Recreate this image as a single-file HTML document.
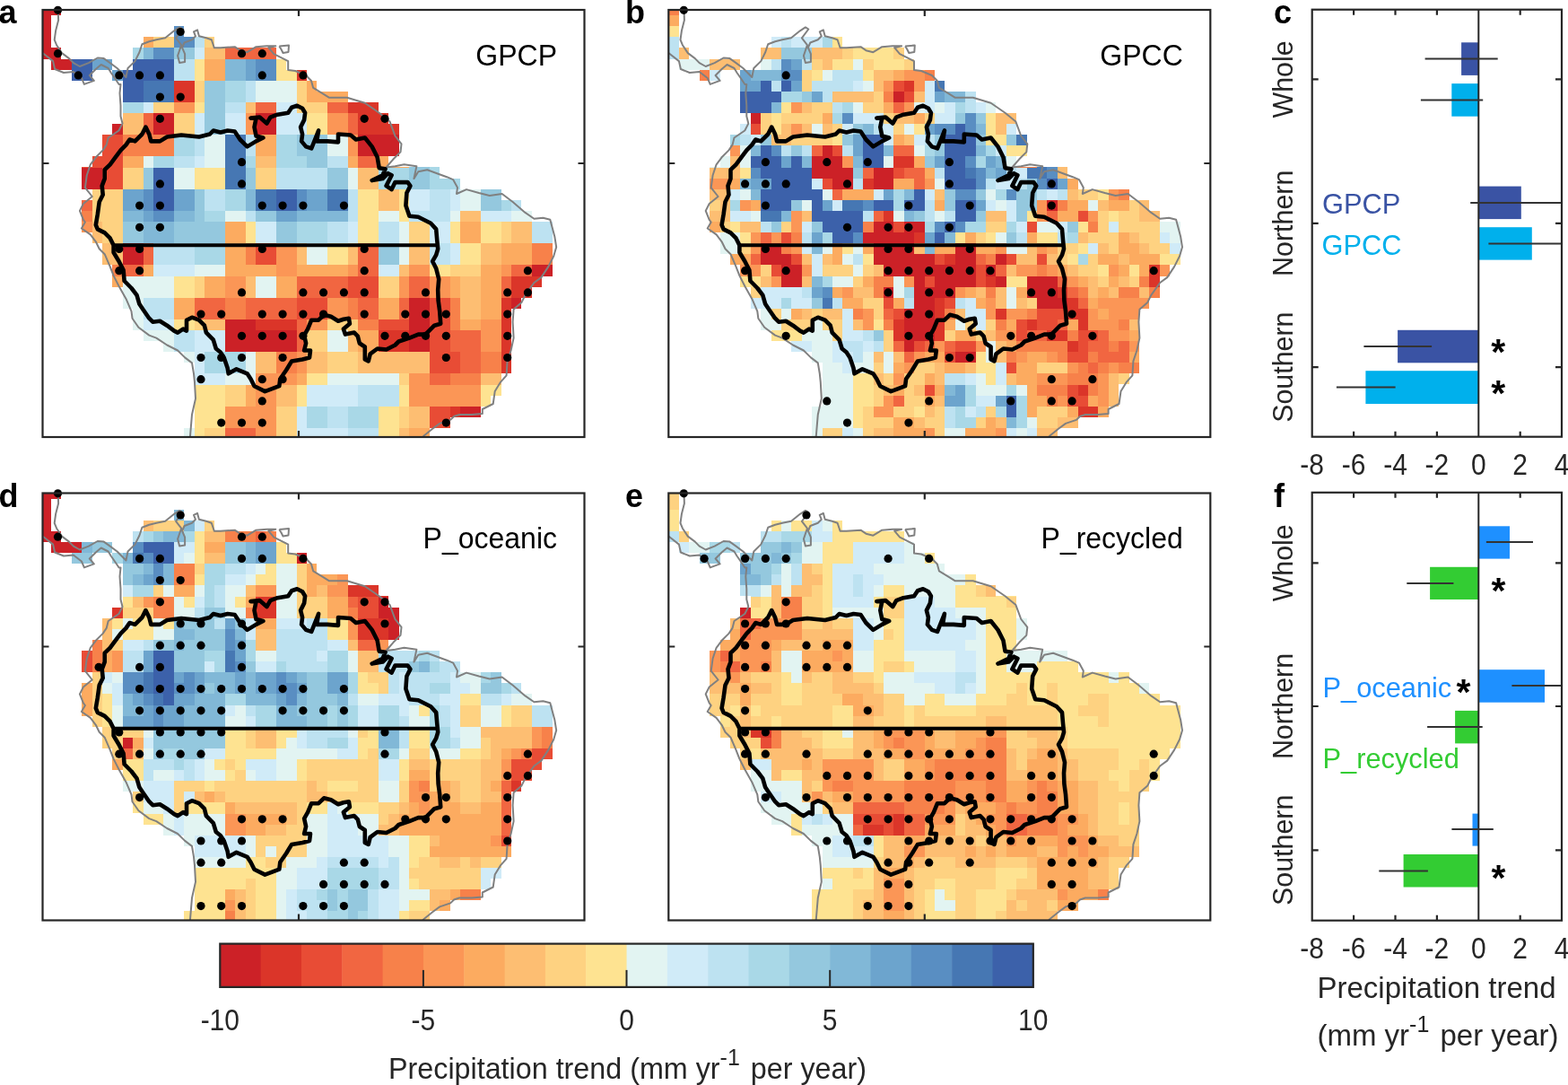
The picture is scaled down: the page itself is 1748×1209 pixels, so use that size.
<!DOCTYPE html><html><head><meta charset="utf-8"><title>Precipitation trends</title><style>html,body{margin:0;padding:0;background:#fff;}svg{display:block}text{font-family:'Liberation Sans', Arial, Helvetica, sans-serif;}</style></head><body>
<svg xmlns="http://www.w3.org/2000/svg" width="1748" height="1209" viewBox="0 0 1748 1209">
<rect width="1748" height="1209" fill="#fff"/>
<defs>
<clipPath id="landa"><path d="M46 5H68V17H46ZM46 17H57V29H46ZM46 29H57V41H46ZM194 29H205V41H194ZM46 41H57V53H46ZM160 41H239V53H160ZM46 53H68V66H46ZM148 53H308V66H148ZM57 66H125V78H57ZM148 66H319V78H148ZM80 78H103V90H80ZM125 78H342V90H125ZM137 90H353V102H137ZM137 102H388V114H137ZM137 114H422V126H137ZM137 126H433V138H137ZM125 138H445V150H125ZM114 150H445V162H114ZM114 162H445V174H114ZM103 174H433V186H103ZM91 186H490V199H91ZM91 199H513V211H91ZM103 211H559V223H103ZM91 223H581V235H91ZM91 235H593V247H91ZM91 247H616V259H91ZM103 259H616V271H103ZM114 271H616V283H114ZM114 283H616V295H114ZM125 295H616V308H125ZM125 308H604V320H125ZM137 320H593V332H137ZM137 332H581V344H137ZM148 344H570V356H148ZM148 356H570V368H148ZM160 368H570V380H160ZM182 380H570V392H182ZM205 392H570V404H205ZM217 404H570V416H217ZM217 416H559V428H217ZM217 428H559V441H217ZM217 441H547V453H217ZM217 453H536V465H217ZM217 465H502V477H217ZM205 477H479V489H205Z"/></clipPath>
<clipPath id="framea"><rect x="47.5" y="11.0" width="604.0" height="476.0"/></clipPath>
<clipPath id="landb"><path d="M746 5H757V17H746ZM746 17H757V29H746ZM746 29H757V41H746ZM746 41H757V53H746ZM860 41H939V53H860ZM746 53H768V66H746ZM848 53H1008V66H848ZM757 66H825V78H757ZM848 66H1019V78H848ZM780 78H803V90H780ZM825 78H1042V90H825ZM825 90H1053V102H825ZM825 102H1088V114H825ZM825 114H1110V126H825ZM837 126H1133V138H837ZM825 138H1133V150H825ZM814 150H1145V162H814ZM814 162H1145V174H814ZM803 174H1133V186H803ZM791 186H1190V199H791ZM791 199H1202V211H791ZM791 211H1259V223H791ZM791 223H1281V235H791ZM791 235H1293V247H791ZM791 247H1316V259H791ZM803 259H1316V271H803ZM803 271H1316V283H803ZM814 283H1316V295H814ZM825 295H1304V308H825ZM825 308H1293V320H825ZM837 320H1293V332H837ZM837 332H1281V344H837ZM848 344H1270V356H848ZM848 356H1270V368H848ZM860 368H1270V380H860ZM882 380H1270V392H882ZM905 392H1270V404H905ZM917 404H1270V416H917ZM917 416H1259V428H917ZM917 428H1247V441H917ZM917 441H1247V453H917ZM905 453H1236V465H905ZM905 465H1202V477H905ZM905 477H1179V489H905Z"/></clipPath>
<clipPath id="frameb"><rect x="745.3" y="11.0" width="604.0" height="476.0"/></clipPath>
<clipPath id="landd"><path d="M46 544H68V556H46ZM46 556H57V568H46ZM46 568H57V580H46ZM194 568H205V580H194ZM46 580H57V592H46ZM160 580H239V592H160ZM46 592H68V604H46ZM148 592H308V604H148ZM57 604H125V616H57ZM148 604H319V616H148ZM80 616H103V628H80ZM125 616H342V628H125ZM137 628H353V640H137ZM137 640H388V652H137ZM137 652H422V664H137ZM137 664H433V677H137ZM125 677H445V689H125ZM114 689H445V701H114ZM114 701H445V713H114ZM103 713H433V725H103ZM91 725H490V737H91ZM91 737H513V749H91ZM103 749H559V761H103ZM91 761H581V773H91ZM91 773H593V786H91ZM91 786H616V798H91ZM103 798H616V810H103ZM114 810H616V822H114ZM114 822H616V834H114ZM125 834H616V846H125ZM125 846H604V858H125ZM137 858H593V870H137ZM137 870H581V882H137ZM148 882H570V894H148ZM148 894H570V906H148ZM160 906H570V919H160ZM182 919H570V931H182ZM205 931H570V943H205ZM217 943H570V955H217ZM217 955H559V967H217ZM217 967H559V979H217ZM217 979H547V991H217ZM217 991H536V1003H217ZM217 1003H502V1015H217ZM205 1015H479V1028H205Z"/></clipPath>
<clipPath id="framed"><rect x="47.5" y="549.5" width="604.0" height="476.0"/></clipPath>
<clipPath id="lande"><path d="M746 544H757V556H746ZM746 556H757V568H746ZM746 568H757V580H746ZM746 580H757V592H746ZM860 580H939V592H860ZM746 592H768V604H746ZM848 592H1008V604H848ZM757 604H825V616H757ZM848 604H1019V616H848ZM780 616H803V628H780ZM825 616H1042V628H825ZM825 628H1053V640H825ZM825 640H1088V652H825ZM825 652H1110V664H825ZM837 664H1133V677H837ZM825 677H1133V689H825ZM814 689H1145V701H814ZM814 701H1145V713H814ZM803 713H1133V725H803ZM791 725H1190V737H791ZM791 737H1202V749H791ZM791 749H1259V761H791ZM791 761H1281V773H791ZM791 773H1293V786H791ZM791 786H1316V798H791ZM803 798H1316V810H803ZM803 810H1316V822H803ZM814 822H1316V834H814ZM825 834H1304V846H825ZM825 846H1293V858H825ZM837 858H1293V870H837ZM837 870H1281V882H837ZM848 882H1270V894H848ZM848 894H1270V906H848ZM860 906H1270V919H860ZM882 919H1270V931H882ZM905 931H1270V943H905ZM917 943H1270V955H917ZM917 955H1259V967H917ZM917 967H1247V979H917ZM917 979H1247V991H917ZM905 991H1236V1003H905ZM905 1003H1202V1015H905ZM905 1015H1179V1028H905Z"/></clipPath>
<clipPath id="framee"><rect x="745.3" y="549.5" width="604.0" height="476.0"/></clipPath>
</defs>
<g clip-path="url(#framea)"><g clip-path="url(#landa)" shape-rendering="crispEdges">
<rect x="45.6" y="5.0" width="57.6" height="24.8" fill="#cc2127"/>
<rect x="136.8" y="5.0" width="34.8" height="24.8" fill="#fcab60"/>
<rect x="171.0" y="5.0" width="23.4" height="24.8" fill="#fed281"/>
<rect x="193.8" y="5.0" width="23.4" height="24.8" fill="#598ec2"/>
<rect x="216.6" y="5.0" width="12.0" height="24.8" fill="#bde2f1"/>
<rect x="228.0" y="5.0" width="46.2" height="24.8" fill="#fed281"/>
<rect x="45.6" y="29.2" width="57.6" height="24.8" fill="#cc2127"/>
<rect x="114.0" y="29.2" width="23.4" height="24.8" fill="#a9d8e7"/>
<rect x="136.8" y="29.2" width="34.8" height="24.8" fill="#fcab60"/>
<rect x="171.0" y="29.2" width="23.4" height="24.8" fill="#fed281"/>
<rect x="193.8" y="29.2" width="23.4" height="24.8" fill="#598ec2"/>
<rect x="216.6" y="29.2" width="12.0" height="24.8" fill="#bde2f1"/>
<rect x="228.0" y="29.2" width="46.2" height="24.8" fill="#fed281"/>
<rect x="273.6" y="29.2" width="57.6" height="24.8" fill="#f16641"/>
<rect x="45.6" y="53.4" width="57.6" height="12.7" fill="#cc2127"/>
<rect x="102.6" y="53.4" width="12.0" height="12.7" fill="#6ca4cd"/>
<rect x="114.0" y="53.4" width="46.2" height="12.7" fill="#a9d8e7"/>
<rect x="159.6" y="53.4" width="12.0" height="12.7" fill="#81b8d7"/>
<rect x="171.0" y="53.4" width="23.4" height="12.7" fill="#598ec2"/>
<rect x="193.8" y="53.4" width="23.4" height="12.7" fill="#94c8de"/>
<rect x="216.6" y="53.4" width="12.0" height="12.7" fill="#d0ebf8"/>
<rect x="228.0" y="53.4" width="23.4" height="12.7" fill="#fdbe72"/>
<rect x="250.8" y="53.4" width="80.4" height="12.7" fill="#f16641"/>
<rect x="330.6" y="53.4" width="34.8" height="12.7" fill="#db3529"/>
<rect x="45.6" y="65.5" width="34.8" height="24.8" fill="#cc2127"/>
<rect x="79.8" y="65.5" width="23.4" height="24.8" fill="#3c61aa"/>
<rect x="102.6" y="65.5" width="34.8" height="24.8" fill="#6ca4cd"/>
<rect x="136.8" y="65.5" width="57.6" height="24.8" fill="#3c61aa"/>
<rect x="193.8" y="65.5" width="23.4" height="24.8" fill="#bde2f1"/>
<rect x="216.6" y="65.5" width="12.0" height="24.8" fill="#fee391"/>
<rect x="228.0" y="65.5" width="23.4" height="24.8" fill="#fcab60"/>
<rect x="250.8" y="65.5" width="23.4" height="24.8" fill="#81b8d7"/>
<rect x="273.6" y="65.5" width="12.0" height="24.8" fill="#6ca4cd"/>
<rect x="285.0" y="65.5" width="23.4" height="24.8" fill="#598ec2"/>
<rect x="307.8" y="65.5" width="23.4" height="24.8" fill="#fee391"/>
<rect x="330.6" y="65.5" width="34.8" height="24.8" fill="#db3529"/>
<rect x="364.8" y="65.5" width="23.4" height="24.8" fill="#fcab60"/>
<rect x="45.6" y="89.7" width="34.8" height="24.8" fill="#cc2127"/>
<rect x="79.8" y="89.7" width="80.4" height="24.8" fill="#3c61aa"/>
<rect x="159.6" y="89.7" width="34.8" height="24.8" fill="#4677b3"/>
<rect x="193.8" y="89.7" width="23.4" height="24.8" fill="#db3529"/>
<rect x="216.6" y="89.7" width="12.0" height="24.8" fill="#fed281"/>
<rect x="228.0" y="89.7" width="23.4" height="24.8" fill="#94c8de"/>
<rect x="250.8" y="89.7" width="23.4" height="24.8" fill="#a9d8e7"/>
<rect x="273.6" y="89.7" width="12.0" height="24.8" fill="#bde2f1"/>
<rect x="285.0" y="89.7" width="46.2" height="24.8" fill="#e2f4f2"/>
<rect x="330.6" y="89.7" width="12.0" height="24.8" fill="#fed281"/>
<rect x="342.0" y="89.7" width="46.2" height="24.8" fill="#fcab60"/>
<rect x="387.6" y="89.7" width="57.6" height="24.8" fill="#db3529"/>
<rect x="102.6" y="113.9" width="12.0" height="12.7" fill="#3c61aa"/>
<rect x="114.0" y="113.9" width="46.2" height="12.7" fill="#a9d8e7"/>
<rect x="159.6" y="113.9" width="12.0" height="12.7" fill="#d0ebf8"/>
<rect x="171.0" y="113.9" width="23.4" height="12.7" fill="#fed281"/>
<rect x="193.8" y="113.9" width="23.4" height="12.7" fill="#fb9656"/>
<rect x="216.6" y="113.9" width="12.0" height="12.7" fill="#fee391"/>
<rect x="228.0" y="113.9" width="23.4" height="12.7" fill="#94c8de"/>
<rect x="250.8" y="113.9" width="23.4" height="12.7" fill="#bde2f1"/>
<rect x="273.6" y="113.9" width="12.0" height="12.7" fill="#fdbe72"/>
<rect x="285.0" y="113.9" width="23.4" height="12.7" fill="#f16641"/>
<rect x="307.8" y="113.9" width="23.4" height="12.7" fill="#d0ebf8"/>
<rect x="330.6" y="113.9" width="34.8" height="12.7" fill="#fed281"/>
<rect x="364.8" y="113.9" width="23.4" height="12.7" fill="#f16641"/>
<rect x="387.6" y="113.9" width="69.0" height="12.7" fill="#db3529"/>
<rect x="79.8" y="126.0" width="23.4" height="24.8" fill="#f16641"/>
<rect x="102.6" y="126.0" width="34.8" height="24.8" fill="#cc2127"/>
<rect x="136.8" y="126.0" width="23.4" height="24.8" fill="#fdbe72"/>
<rect x="159.6" y="126.0" width="12.0" height="24.8" fill="#f16641"/>
<rect x="171.0" y="126.0" width="23.4" height="24.8" fill="#cc2127"/>
<rect x="193.8" y="126.0" width="23.4" height="24.8" fill="#fed281"/>
<rect x="216.6" y="126.0" width="12.0" height="24.8" fill="#d0ebf8"/>
<rect x="228.0" y="126.0" width="23.4" height="24.8" fill="#94c8de"/>
<rect x="250.8" y="126.0" width="23.4" height="24.8" fill="#d0ebf8"/>
<rect x="273.6" y="126.0" width="12.0" height="24.8" fill="#fb9656"/>
<rect x="285.0" y="126.0" width="23.4" height="24.8" fill="#cc2127"/>
<rect x="307.8" y="126.0" width="34.8" height="24.8" fill="#d0ebf8"/>
<rect x="342.0" y="126.0" width="23.4" height="24.8" fill="#fee391"/>
<rect x="364.8" y="126.0" width="23.4" height="24.8" fill="#fb9656"/>
<rect x="387.6" y="126.0" width="12.0" height="24.8" fill="#f16641"/>
<rect x="399.0" y="126.0" width="57.6" height="24.8" fill="#db3529"/>
<rect x="79.8" y="150.2" width="34.8" height="24.8" fill="#f16641"/>
<rect x="114.0" y="150.2" width="23.4" height="24.8" fill="#e84c35"/>
<rect x="136.8" y="150.2" width="57.6" height="24.8" fill="#f7814a"/>
<rect x="193.8" y="150.2" width="23.4" height="24.8" fill="#a9d8e7"/>
<rect x="216.6" y="150.2" width="12.0" height="24.8" fill="#bde2f1"/>
<rect x="228.0" y="150.2" width="23.4" height="24.8" fill="#e2f4f2"/>
<rect x="250.8" y="150.2" width="23.4" height="24.8" fill="#4677b3"/>
<rect x="273.6" y="150.2" width="12.0" height="24.8" fill="#bde2f1"/>
<rect x="285.0" y="150.2" width="23.4" height="24.8" fill="#fcab60"/>
<rect x="307.8" y="150.2" width="23.4" height="24.8" fill="#a9d8e7"/>
<rect x="330.6" y="150.2" width="34.8" height="24.8" fill="#94c8de"/>
<rect x="364.8" y="150.2" width="23.4" height="24.8" fill="#e2f4f2"/>
<rect x="387.6" y="150.2" width="12.0" height="24.8" fill="#fb9656"/>
<rect x="399.0" y="150.2" width="57.6" height="24.8" fill="#cc2127"/>
<rect x="57.0" y="174.4" width="23.4" height="12.7" fill="#cc2127"/>
<rect x="79.8" y="174.4" width="57.6" height="12.7" fill="#e84c35"/>
<rect x="136.8" y="174.4" width="23.4" height="12.7" fill="#fcab60"/>
<rect x="159.6" y="174.4" width="12.0" height="12.7" fill="#e2f4f2"/>
<rect x="171.0" y="174.4" width="23.4" height="12.7" fill="#a9d8e7"/>
<rect x="193.8" y="174.4" width="23.4" height="12.7" fill="#bde2f1"/>
<rect x="216.6" y="174.4" width="12.0" height="12.7" fill="#d0ebf8"/>
<rect x="228.0" y="174.4" width="23.4" height="12.7" fill="#e2f4f2"/>
<rect x="250.8" y="174.4" width="23.4" height="12.7" fill="#4677b3"/>
<rect x="273.6" y="174.4" width="12.0" height="12.7" fill="#a9d8e7"/>
<rect x="285.0" y="174.4" width="23.4" height="12.7" fill="#fdbe72"/>
<rect x="307.8" y="174.4" width="34.8" height="12.7" fill="#a9d8e7"/>
<rect x="342.0" y="174.4" width="23.4" height="12.7" fill="#94c8de"/>
<rect x="364.8" y="174.4" width="23.4" height="12.7" fill="#bde2f1"/>
<rect x="387.6" y="174.4" width="12.0" height="12.7" fill="#fcab60"/>
<rect x="399.0" y="174.4" width="23.4" height="12.7" fill="#f16641"/>
<rect x="421.8" y="174.4" width="34.8" height="12.7" fill="#fcab60"/>
<rect x="456.0" y="174.4" width="23.4" height="12.7" fill="#94c8de"/>
<rect x="478.8" y="174.4" width="34.8" height="12.7" fill="#a9d8e7"/>
<rect x="57.0" y="186.5" width="57.6" height="24.8" fill="#cc2127"/>
<rect x="114.0" y="186.5" width="23.4" height="24.8" fill="#e84c35"/>
<rect x="136.8" y="186.5" width="23.4" height="24.8" fill="#fed281"/>
<rect x="159.6" y="186.5" width="12.0" height="24.8" fill="#94c8de"/>
<rect x="171.0" y="186.5" width="23.4" height="24.8" fill="#3c61aa"/>
<rect x="193.8" y="186.5" width="23.4" height="24.8" fill="#e2f4f2"/>
<rect x="216.6" y="186.5" width="34.8" height="24.8" fill="#fee391"/>
<rect x="250.8" y="186.5" width="23.4" height="24.8" fill="#4677b3"/>
<rect x="273.6" y="186.5" width="12.0" height="24.8" fill="#94c8de"/>
<rect x="285.0" y="186.5" width="23.4" height="24.8" fill="#fed281"/>
<rect x="307.8" y="186.5" width="57.6" height="24.8" fill="#bde2f1"/>
<rect x="364.8" y="186.5" width="23.4" height="24.8" fill="#94c8de"/>
<rect x="387.6" y="186.5" width="12.0" height="24.8" fill="#e2f4f2"/>
<rect x="399.0" y="186.5" width="23.4" height="24.8" fill="#fdbe72"/>
<rect x="421.8" y="186.5" width="34.8" height="24.8" fill="#a9d8e7"/>
<rect x="456.0" y="186.5" width="23.4" height="24.8" fill="#94c8de"/>
<rect x="478.8" y="186.5" width="34.8" height="24.8" fill="#a9d8e7"/>
<rect x="513.0" y="186.5" width="23.4" height="24.8" fill="#e2f4f2"/>
<rect x="535.8" y="186.5" width="23.4" height="24.8" fill="#94c8de"/>
<rect x="558.6" y="186.5" width="12.0" height="24.8" fill="#a9d8e7"/>
<rect x="570.0" y="186.5" width="46.2" height="24.8" fill="#bde2f1"/>
<rect x="57.0" y="210.7" width="46.2" height="24.8" fill="#f16641"/>
<rect x="102.6" y="210.7" width="34.8" height="24.8" fill="#fed281"/>
<rect x="136.8" y="210.7" width="23.4" height="24.8" fill="#6ca4cd"/>
<rect x="159.6" y="210.7" width="12.0" height="24.8" fill="#598ec2"/>
<rect x="171.0" y="210.7" width="23.4" height="24.8" fill="#3c61aa"/>
<rect x="193.8" y="210.7" width="23.4" height="24.8" fill="#6ca4cd"/>
<rect x="216.6" y="210.7" width="12.0" height="24.8" fill="#94c8de"/>
<rect x="228.0" y="210.7" width="23.4" height="24.8" fill="#bde2f1"/>
<rect x="250.8" y="210.7" width="23.4" height="24.8" fill="#a9d8e7"/>
<rect x="273.6" y="210.7" width="12.0" height="24.8" fill="#81b8d7"/>
<rect x="285.0" y="210.7" width="23.4" height="24.8" fill="#4677b3"/>
<rect x="307.8" y="210.7" width="23.4" height="24.8" fill="#3c61aa"/>
<rect x="330.6" y="210.7" width="12.0" height="24.8" fill="#598ec2"/>
<rect x="342.0" y="210.7" width="23.4" height="24.8" fill="#6ca4cd"/>
<rect x="364.8" y="210.7" width="23.4" height="24.8" fill="#4677b3"/>
<rect x="387.6" y="210.7" width="12.0" height="24.8" fill="#bde2f1"/>
<rect x="399.0" y="210.7" width="23.4" height="24.8" fill="#fee391"/>
<rect x="421.8" y="210.7" width="23.4" height="24.8" fill="#fdbe72"/>
<rect x="444.6" y="210.7" width="12.0" height="24.8" fill="#fee391"/>
<rect x="456.0" y="210.7" width="23.4" height="24.8" fill="#d0ebf8"/>
<rect x="478.8" y="210.7" width="23.4" height="24.8" fill="#bde2f1"/>
<rect x="501.6" y="210.7" width="12.0" height="24.8" fill="#d0ebf8"/>
<rect x="513.0" y="210.7" width="23.4" height="24.8" fill="#e2f4f2"/>
<rect x="535.8" y="210.7" width="23.4" height="24.8" fill="#94c8de"/>
<rect x="558.6" y="210.7" width="12.0" height="24.8" fill="#a9d8e7"/>
<rect x="570.0" y="210.7" width="46.2" height="24.8" fill="#bde2f1"/>
<rect x="615.6" y="210.7" width="12.0" height="24.8" fill="#e2f4f2"/>
<rect x="57.0" y="234.9" width="46.2" height="12.7" fill="#f7814a"/>
<rect x="102.6" y="234.9" width="34.8" height="12.7" fill="#fed281"/>
<rect x="136.8" y="234.9" width="23.4" height="12.7" fill="#81b8d7"/>
<rect x="159.6" y="234.9" width="12.0" height="12.7" fill="#6ca4cd"/>
<rect x="171.0" y="234.9" width="23.4" height="12.7" fill="#598ec2"/>
<rect x="193.8" y="234.9" width="23.4" height="12.7" fill="#81b8d7"/>
<rect x="216.6" y="234.9" width="12.0" height="12.7" fill="#94c8de"/>
<rect x="228.0" y="234.9" width="23.4" height="12.7" fill="#a9d8e7"/>
<rect x="250.8" y="234.9" width="23.4" height="12.7" fill="#e2f4f2"/>
<rect x="273.6" y="234.9" width="12.0" height="12.7" fill="#bde2f1"/>
<rect x="285.0" y="234.9" width="23.4" height="12.7" fill="#94c8de"/>
<rect x="307.8" y="234.9" width="23.4" height="12.7" fill="#6ca4cd"/>
<rect x="330.6" y="234.9" width="57.6" height="12.7" fill="#81b8d7"/>
<rect x="387.6" y="234.9" width="12.0" height="12.7" fill="#bde2f1"/>
<rect x="399.0" y="234.9" width="23.4" height="12.7" fill="#fee391"/>
<rect x="421.8" y="234.9" width="23.4" height="12.7" fill="#e2f4f2"/>
<rect x="444.6" y="234.9" width="12.0" height="12.7" fill="#fee391"/>
<rect x="456.0" y="234.9" width="46.2" height="12.7" fill="#bde2f1"/>
<rect x="501.6" y="234.9" width="12.0" height="12.7" fill="#e2f4f2"/>
<rect x="513.0" y="234.9" width="23.4" height="12.7" fill="#fdbe72"/>
<rect x="535.8" y="234.9" width="34.8" height="12.7" fill="#d0ebf8"/>
<rect x="570.0" y="234.9" width="57.6" height="12.7" fill="#e2f4f2"/>
<rect x="627.0" y="234.9" width="23.4" height="12.7" fill="#bde2f1"/>
<rect x="57.0" y="247.0" width="46.2" height="24.8" fill="#fb9656"/>
<rect x="102.6" y="247.0" width="12.0" height="24.8" fill="#fdbe72"/>
<rect x="114.0" y="247.0" width="23.4" height="24.8" fill="#fed281"/>
<rect x="136.8" y="247.0" width="23.4" height="24.8" fill="#94c8de"/>
<rect x="159.6" y="247.0" width="34.8" height="24.8" fill="#81b8d7"/>
<rect x="193.8" y="247.0" width="57.6" height="24.8" fill="#94c8de"/>
<rect x="250.8" y="247.0" width="23.4" height="24.8" fill="#fcab60"/>
<rect x="273.6" y="247.0" width="12.0" height="24.8" fill="#fee391"/>
<rect x="285.0" y="247.0" width="23.4" height="24.8" fill="#d0ebf8"/>
<rect x="307.8" y="247.0" width="23.4" height="24.8" fill="#94c8de"/>
<rect x="330.6" y="247.0" width="34.8" height="24.8" fill="#a9d8e7"/>
<rect x="364.8" y="247.0" width="23.4" height="24.8" fill="#bde2f1"/>
<rect x="387.6" y="247.0" width="12.0" height="24.8" fill="#d0ebf8"/>
<rect x="399.0" y="247.0" width="23.4" height="24.8" fill="#fee391"/>
<rect x="421.8" y="247.0" width="23.4" height="24.8" fill="#bde2f1"/>
<rect x="444.6" y="247.0" width="12.0" height="24.8" fill="#e2f4f2"/>
<rect x="456.0" y="247.0" width="23.4" height="24.8" fill="#fed281"/>
<rect x="478.8" y="247.0" width="23.4" height="24.8" fill="#d0ebf8"/>
<rect x="501.6" y="247.0" width="12.0" height="24.8" fill="#fee391"/>
<rect x="513.0" y="247.0" width="23.4" height="24.8" fill="#fcab60"/>
<rect x="535.8" y="247.0" width="23.4" height="24.8" fill="#fee391"/>
<rect x="558.6" y="247.0" width="12.0" height="24.8" fill="#fed281"/>
<rect x="570.0" y="247.0" width="23.4" height="24.8" fill="#fdbe72"/>
<rect x="592.8" y="247.0" width="57.6" height="24.8" fill="#bde2f1"/>
<rect x="57.0" y="271.2" width="23.4" height="24.8" fill="#fb9656"/>
<rect x="79.8" y="271.2" width="57.6" height="24.8" fill="#fdbe72"/>
<rect x="136.8" y="271.2" width="23.4" height="24.8" fill="#cc2127"/>
<rect x="159.6" y="271.2" width="12.0" height="24.8" fill="#f16641"/>
<rect x="171.0" y="271.2" width="46.2" height="24.8" fill="#bde2f1"/>
<rect x="216.6" y="271.2" width="34.8" height="24.8" fill="#a9d8e7"/>
<rect x="250.8" y="271.2" width="23.4" height="24.8" fill="#fcab60"/>
<rect x="273.6" y="271.2" width="12.0" height="24.8" fill="#f7814a"/>
<rect x="285.0" y="271.2" width="23.4" height="24.8" fill="#e84c35"/>
<rect x="307.8" y="271.2" width="23.4" height="24.8" fill="#fb9656"/>
<rect x="330.6" y="271.2" width="12.0" height="24.8" fill="#fdbe72"/>
<rect x="342.0" y="271.2" width="23.4" height="24.8" fill="#e2f4f2"/>
<rect x="364.8" y="271.2" width="23.4" height="24.8" fill="#fee391"/>
<rect x="387.6" y="271.2" width="12.0" height="24.8" fill="#fdbe72"/>
<rect x="399.0" y="271.2" width="23.4" height="24.8" fill="#f16641"/>
<rect x="421.8" y="271.2" width="23.4" height="24.8" fill="#94c8de"/>
<rect x="444.6" y="271.2" width="12.0" height="24.8" fill="#e2f4f2"/>
<rect x="456.0" y="271.2" width="23.4" height="24.8" fill="#fdbe72"/>
<rect x="478.8" y="271.2" width="23.4" height="24.8" fill="#bde2f1"/>
<rect x="501.6" y="271.2" width="12.0" height="24.8" fill="#d0ebf8"/>
<rect x="513.0" y="271.2" width="23.4" height="24.8" fill="#fee391"/>
<rect x="535.8" y="271.2" width="23.4" height="24.8" fill="#fdbe72"/>
<rect x="558.6" y="271.2" width="34.8" height="24.8" fill="#fcab60"/>
<rect x="592.8" y="271.2" width="57.6" height="24.8" fill="#f7814a"/>
<rect x="79.8" y="295.4" width="34.8" height="12.7" fill="#fed281"/>
<rect x="114.0" y="295.4" width="23.4" height="12.7" fill="#f7814a"/>
<rect x="136.8" y="295.4" width="23.4" height="12.7" fill="#f16641"/>
<rect x="159.6" y="295.4" width="12.0" height="12.7" fill="#fcab60"/>
<rect x="171.0" y="295.4" width="46.2" height="12.7" fill="#d0ebf8"/>
<rect x="216.6" y="295.4" width="34.8" height="12.7" fill="#e2f4f2"/>
<rect x="250.8" y="295.4" width="57.6" height="12.7" fill="#fcab60"/>
<rect x="307.8" y="295.4" width="23.4" height="12.7" fill="#fb9656"/>
<rect x="330.6" y="295.4" width="57.6" height="12.7" fill="#fcab60"/>
<rect x="387.6" y="295.4" width="12.0" height="12.7" fill="#fb9656"/>
<rect x="399.0" y="295.4" width="23.4" height="12.7" fill="#f16641"/>
<rect x="421.8" y="295.4" width="23.4" height="12.7" fill="#d0ebf8"/>
<rect x="444.6" y="295.4" width="12.0" height="12.7" fill="#fdbe72"/>
<rect x="456.0" y="295.4" width="23.4" height="12.7" fill="#fb9656"/>
<rect x="478.8" y="295.4" width="23.4" height="12.7" fill="#fee391"/>
<rect x="501.6" y="295.4" width="34.8" height="12.7" fill="#fed281"/>
<rect x="535.8" y="295.4" width="23.4" height="12.7" fill="#fcab60"/>
<rect x="558.6" y="295.4" width="12.0" height="12.7" fill="#fb9656"/>
<rect x="570.0" y="295.4" width="23.4" height="12.7" fill="#f16641"/>
<rect x="592.8" y="295.4" width="34.8" height="12.7" fill="#cc2127"/>
<rect x="627.0" y="295.4" width="23.4" height="12.7" fill="#f7814a"/>
<rect x="79.8" y="307.5" width="23.4" height="24.8" fill="#fed281"/>
<rect x="102.6" y="307.5" width="34.8" height="24.8" fill="#fcab60"/>
<rect x="136.8" y="307.5" width="57.6" height="24.8" fill="#e2f4f2"/>
<rect x="193.8" y="307.5" width="23.4" height="24.8" fill="#fee391"/>
<rect x="216.6" y="307.5" width="12.0" height="24.8" fill="#fed281"/>
<rect x="228.0" y="307.5" width="23.4" height="24.8" fill="#fcab60"/>
<rect x="250.8" y="307.5" width="23.4" height="24.8" fill="#fb9656"/>
<rect x="273.6" y="307.5" width="12.0" height="24.8" fill="#fdbe72"/>
<rect x="285.0" y="307.5" width="23.4" height="24.8" fill="#e2f4f2"/>
<rect x="307.8" y="307.5" width="23.4" height="24.8" fill="#fcab60"/>
<rect x="330.6" y="307.5" width="57.6" height="24.8" fill="#f16641"/>
<rect x="387.6" y="307.5" width="34.8" height="24.8" fill="#e84c35"/>
<rect x="421.8" y="307.5" width="23.4" height="24.8" fill="#fed281"/>
<rect x="444.6" y="307.5" width="12.0" height="24.8" fill="#fb9656"/>
<rect x="456.0" y="307.5" width="23.4" height="24.8" fill="#f16641"/>
<rect x="478.8" y="307.5" width="23.4" height="24.8" fill="#fb9656"/>
<rect x="501.6" y="307.5" width="12.0" height="24.8" fill="#fcab60"/>
<rect x="513.0" y="307.5" width="23.4" height="24.8" fill="#fdbe72"/>
<rect x="535.8" y="307.5" width="23.4" height="24.8" fill="#fcab60"/>
<rect x="558.6" y="307.5" width="12.0" height="24.8" fill="#f16641"/>
<rect x="570.0" y="307.5" width="57.6" height="24.8" fill="#db3529"/>
<rect x="102.6" y="331.7" width="12.0" height="24.8" fill="#fcab60"/>
<rect x="114.0" y="331.7" width="46.2" height="24.8" fill="#e2f4f2"/>
<rect x="159.6" y="331.7" width="34.8" height="24.8" fill="#bde2f1"/>
<rect x="193.8" y="331.7" width="23.4" height="24.8" fill="#fcab60"/>
<rect x="216.6" y="331.7" width="34.8" height="24.8" fill="#f16641"/>
<rect x="250.8" y="331.7" width="23.4" height="24.8" fill="#f7814a"/>
<rect x="273.6" y="331.7" width="57.6" height="24.8" fill="#f16641"/>
<rect x="330.6" y="331.7" width="34.8" height="24.8" fill="#e84c35"/>
<rect x="364.8" y="331.7" width="23.4" height="24.8" fill="#fb9656"/>
<rect x="387.6" y="331.7" width="12.0" height="24.8" fill="#f7814a"/>
<rect x="399.0" y="331.7" width="23.4" height="24.8" fill="#f16641"/>
<rect x="421.8" y="331.7" width="23.4" height="24.8" fill="#fcab60"/>
<rect x="444.6" y="331.7" width="12.0" height="24.8" fill="#f16641"/>
<rect x="456.0" y="331.7" width="23.4" height="24.8" fill="#cc2127"/>
<rect x="478.8" y="331.7" width="23.4" height="24.8" fill="#e84c35"/>
<rect x="501.6" y="331.7" width="12.0" height="24.8" fill="#f7814a"/>
<rect x="513.0" y="331.7" width="23.4" height="24.8" fill="#fdbe72"/>
<rect x="535.8" y="331.7" width="23.4" height="24.8" fill="#fcab60"/>
<rect x="558.6" y="331.7" width="12.0" height="24.8" fill="#db3529"/>
<rect x="570.0" y="331.7" width="46.2" height="24.8" fill="#cc2127"/>
<rect x="615.6" y="331.7" width="12.0" height="24.8" fill="#db3529"/>
<rect x="114.0" y="355.9" width="46.2" height="12.7" fill="#e2f4f2"/>
<rect x="159.6" y="355.9" width="34.8" height="12.7" fill="#d0ebf8"/>
<rect x="193.8" y="355.9" width="23.4" height="12.7" fill="#fee391"/>
<rect x="216.6" y="355.9" width="12.0" height="12.7" fill="#fed281"/>
<rect x="228.0" y="355.9" width="23.4" height="12.7" fill="#fdbe72"/>
<rect x="250.8" y="355.9" width="34.8" height="12.7" fill="#cc2127"/>
<rect x="285.0" y="355.9" width="46.2" height="12.7" fill="#db3529"/>
<rect x="330.6" y="355.9" width="12.0" height="12.7" fill="#f16641"/>
<rect x="342.0" y="355.9" width="23.4" height="12.7" fill="#fb9656"/>
<rect x="364.8" y="355.9" width="34.8" height="12.7" fill="#fed281"/>
<rect x="399.0" y="355.9" width="23.4" height="12.7" fill="#f7814a"/>
<rect x="421.8" y="355.9" width="34.8" height="12.7" fill="#e84c35"/>
<rect x="456.0" y="355.9" width="23.4" height="12.7" fill="#cc2127"/>
<rect x="478.8" y="355.9" width="23.4" height="12.7" fill="#e84c35"/>
<rect x="501.6" y="355.9" width="12.0" height="12.7" fill="#f7814a"/>
<rect x="513.0" y="355.9" width="23.4" height="12.7" fill="#fcab60"/>
<rect x="535.8" y="355.9" width="23.4" height="12.7" fill="#fb9656"/>
<rect x="558.6" y="355.9" width="34.8" height="12.7" fill="#db3529"/>
<rect x="592.8" y="355.9" width="23.4" height="12.7" fill="#cc2127"/>
<rect x="114.0" y="368.0" width="80.4" height="24.8" fill="#e2f4f2"/>
<rect x="193.8" y="368.0" width="23.4" height="24.8" fill="#bde2f1"/>
<rect x="216.6" y="368.0" width="34.8" height="24.8" fill="#d0ebf8"/>
<rect x="250.8" y="368.0" width="80.4" height="24.8" fill="#cc2127"/>
<rect x="330.6" y="368.0" width="12.0" height="24.8" fill="#f16641"/>
<rect x="342.0" y="368.0" width="23.4" height="24.8" fill="#fed281"/>
<rect x="364.8" y="368.0" width="23.4" height="24.8" fill="#e2f4f2"/>
<rect x="387.6" y="368.0" width="12.0" height="24.8" fill="#fdbe72"/>
<rect x="399.0" y="368.0" width="23.4" height="24.8" fill="#fcab60"/>
<rect x="421.8" y="368.0" width="34.8" height="24.8" fill="#db3529"/>
<rect x="456.0" y="368.0" width="23.4" height="24.8" fill="#cc2127"/>
<rect x="478.8" y="368.0" width="23.4" height="24.8" fill="#e84c35"/>
<rect x="501.6" y="368.0" width="34.8" height="24.8" fill="#f16641"/>
<rect x="535.8" y="368.0" width="23.4" height="24.8" fill="#fb9656"/>
<rect x="558.6" y="368.0" width="34.8" height="24.8" fill="#db3529"/>
<rect x="136.8" y="392.2" width="80.4" height="24.8" fill="#e2f4f2"/>
<rect x="216.6" y="392.2" width="12.0" height="24.8" fill="#d0ebf8"/>
<rect x="228.0" y="392.2" width="46.2" height="24.8" fill="#a9d8e7"/>
<rect x="273.6" y="392.2" width="12.0" height="24.8" fill="#e2f4f2"/>
<rect x="285.0" y="392.2" width="23.4" height="24.8" fill="#fdbe72"/>
<rect x="307.8" y="392.2" width="23.4" height="24.8" fill="#f7814a"/>
<rect x="330.6" y="392.2" width="12.0" height="24.8" fill="#fb9656"/>
<rect x="342.0" y="392.2" width="23.4" height="24.8" fill="#fdbe72"/>
<rect x="364.8" y="392.2" width="34.8" height="24.8" fill="#fed281"/>
<rect x="399.0" y="392.2" width="80.4" height="24.8" fill="#fdbe72"/>
<rect x="478.8" y="392.2" width="34.8" height="24.8" fill="#e84c35"/>
<rect x="513.0" y="392.2" width="23.4" height="24.8" fill="#f16641"/>
<rect x="535.8" y="392.2" width="23.4" height="24.8" fill="#f7814a"/>
<rect x="558.6" y="392.2" width="34.8" height="24.8" fill="#db3529"/>
<rect x="159.6" y="416.4" width="57.6" height="12.7" fill="#e2f4f2"/>
<rect x="216.6" y="416.4" width="34.8" height="12.7" fill="#d0ebf8"/>
<rect x="250.8" y="416.4" width="34.8" height="12.7" fill="#e2f4f2"/>
<rect x="285.0" y="416.4" width="46.2" height="12.7" fill="#fb9656"/>
<rect x="330.6" y="416.4" width="12.0" height="12.7" fill="#fcab60"/>
<rect x="342.0" y="416.4" width="23.4" height="12.7" fill="#fee391"/>
<rect x="364.8" y="416.4" width="80.4" height="12.7" fill="#e2f4f2"/>
<rect x="444.6" y="416.4" width="12.0" height="12.7" fill="#fed281"/>
<rect x="456.0" y="416.4" width="23.4" height="12.7" fill="#fb9656"/>
<rect x="478.8" y="416.4" width="23.4" height="12.7" fill="#f16641"/>
<rect x="501.6" y="416.4" width="34.8" height="12.7" fill="#f7814a"/>
<rect x="535.8" y="416.4" width="34.8" height="12.7" fill="#fdbe72"/>
<rect x="570.0" y="416.4" width="23.4" height="12.7" fill="#db3529"/>
<rect x="171.0" y="428.5" width="23.4" height="24.8" fill="#e2f4f2"/>
<rect x="193.8" y="428.5" width="57.6" height="24.8" fill="#fee391"/>
<rect x="250.8" y="428.5" width="23.4" height="24.8" fill="#fed281"/>
<rect x="273.6" y="428.5" width="12.0" height="24.8" fill="#fcab60"/>
<rect x="285.0" y="428.5" width="23.4" height="24.8" fill="#fb9656"/>
<rect x="307.8" y="428.5" width="23.4" height="24.8" fill="#fdbe72"/>
<rect x="330.6" y="428.5" width="12.0" height="24.8" fill="#fee391"/>
<rect x="342.0" y="428.5" width="57.6" height="24.8" fill="#d0ebf8"/>
<rect x="399.0" y="428.5" width="46.2" height="24.8" fill="#bde2f1"/>
<rect x="444.6" y="428.5" width="12.0" height="24.8" fill="#fee391"/>
<rect x="456.0" y="428.5" width="80.4" height="24.8" fill="#fb9656"/>
<rect x="535.8" y="428.5" width="34.8" height="24.8" fill="#fee391"/>
<rect x="171.0" y="452.7" width="23.4" height="24.8" fill="#e2f4f2"/>
<rect x="193.8" y="452.7" width="57.6" height="24.8" fill="#fee391"/>
<rect x="250.8" y="452.7" width="57.6" height="24.8" fill="#fb9656"/>
<rect x="307.8" y="452.7" width="23.4" height="24.8" fill="#fed281"/>
<rect x="330.6" y="452.7" width="12.0" height="24.8" fill="#d0ebf8"/>
<rect x="342.0" y="452.7" width="23.4" height="24.8" fill="#a9d8e7"/>
<rect x="364.8" y="452.7" width="23.4" height="24.8" fill="#bde2f1"/>
<rect x="387.6" y="452.7" width="34.8" height="24.8" fill="#a9d8e7"/>
<rect x="421.8" y="452.7" width="23.4" height="24.8" fill="#fee391"/>
<rect x="444.6" y="452.7" width="12.0" height="24.8" fill="#fed281"/>
<rect x="456.0" y="452.7" width="23.4" height="24.8" fill="#fdbe72"/>
<rect x="478.8" y="452.7" width="23.4" height="24.8" fill="#e84c35"/>
<rect x="501.6" y="452.7" width="12.0" height="24.8" fill="#db3529"/>
<rect x="513.0" y="452.7" width="46.2" height="24.8" fill="#cc2127"/>
<rect x="558.6" y="452.7" width="12.0" height="24.8" fill="#fee391"/>
<rect x="171.0" y="476.9" width="46.2" height="12.7" fill="#e2f4f2"/>
<rect x="216.6" y="476.9" width="12.0" height="12.7" fill="#fee391"/>
<rect x="228.0" y="476.9" width="23.4" height="12.7" fill="#fed281"/>
<rect x="250.8" y="476.9" width="34.8" height="12.7" fill="#f16641"/>
<rect x="285.0" y="476.9" width="23.4" height="12.7" fill="#fb9656"/>
<rect x="307.8" y="476.9" width="23.4" height="12.7" fill="#fed281"/>
<rect x="330.6" y="476.9" width="57.6" height="12.7" fill="#d0ebf8"/>
<rect x="387.6" y="476.9" width="34.8" height="12.7" fill="#bde2f1"/>
<rect x="421.8" y="476.9" width="23.4" height="12.7" fill="#fee391"/>
<rect x="444.6" y="476.9" width="12.0" height="12.7" fill="#fdbe72"/>
<rect x="456.0" y="476.9" width="46.2" height="12.7" fill="#fcab60"/>
<rect x="501.6" y="476.9" width="12.0" height="12.7" fill="#db3529"/>
<rect x="513.0" y="476.9" width="46.2" height="12.7" fill="#cc2127"/>
</g>
<polyline points="64.7,11.0 65.1,22.4 62.1,34.3 60.7,44.3 63.1,50.2 69.0,59.1 77.0,65.1 81.9,70.1 88.9,74.0 98.8,70.1 108.8,64.5 115.7,65.1 122.7,70.1 130.6,76.0 140.5,86.0 142.5,76.0 150.5,68.1 155.4,58.2 158.4,49.2 166.3,46.2 174.3,44.3 184.2,42.3 194.1,34.3 200.1,30.4 203.5,32.5 196.1,42.3 202.1,50.2 198.1,62.1 200.1,70.1 206.1,69.1 206.1,60.1 203.1,53.2 205.5,47.5 214.0,44.3 218.0,40.3 216.0,35.3 220.0,33.3 221.9,40.3 229.9,42.3 235.8,44.3 238.8,53.2 245.8,53.2 261.7,52.2 267.6,56.2 275.6,58.2 285.5,52.2 297.4,51.2 307.3,51.2 299.4,53.2 305.3,60.1 313.3,64.1 321.2,68.1 321.2,78.0 329.2,79.0 341.1,84.0 347.0,90.0 349.2,97.9 359.1,103.8 367.1,108.8 386.9,108.8 406.8,114.8 422.7,125.7 434.6,135.6 440.5,151.5 447.5,160.4 446.5,169.4 438.5,177.3 430.5,186.5 440.5,185.2 450.5,183.3 464.4,185.2 461.4,199.1 466.3,191.2 476.3,189.2 498.1,197.2 505.1,200.1 510.0,209.1 509.0,216.0 520.0,211.1 533.9,215.0 545.8,218.0 559.7,216.0 571.6,225.0 585.5,236.9 595.4,243.8 605.4,242.8 613.3,244.8 618.3,263.4 620.2,275.3 617.3,285.2 611.3,297.1 603.4,309.1 595.4,315.0 585.5,328.9 581.5,336.9 572.6,344.8 571.6,358.7 572.6,376.6 569.6,390.5 565.6,402.4 564.6,418.3 557.7,426.2 551.7,436.1 549.7,450.0 537.8,456.0 537.8,461.0 525.9,462.0 512.0,462.0 506.1,464.0 502.1,467.9 490.2,471.9 482.2,477.8 472.3,485.8 470.0,488.5" fill="none" stroke="#808080" stroke-width="2" stroke-linejoin="round"/>
<polyline points="211.5,488.5 212.0,485.8 214.0,462.0 218.0,444.1 217.0,426.2 216.0,416.3 214.0,404.4 206.1,398.4 198.1,390.5 186.2,384.5 174.3,376.6 166.3,373.6 154.4,364.7 147.5,354.7 146.5,346.8 140.5,332.9 132.6,319.0 126.6,307.1 122.7,297.1 116.7,283.2 110.7,277.3 106.8,269.3 100.8,261.4 90.9,254.5 94.9,247.5 92.9,244.8 88.9,234.9 92.9,227.0 102.8,219.0 94.9,209.1 96.8,195.2 100.8,183.3 106.8,175.3 114.7,167.4 118.7,161.4 120.7,153.5 126.6,149.5 132.5,145.5 136.5,137.6 134.5,129.6 134.5,117.7 133.5,103.8 134.5,94.0 132.6,94.0 128.6,88.0 123.7,81.0 120.7,76.0 112.7,72.0 106.8,77.0 99.8,84.0 104.8,89.9 93.9,93.9 90.9,87.0 81.9,80.0 71.0,81.0 61.1,77.0 59.1,68.1 46.5,58.2" fill="none" stroke="#808080" stroke-width="2" stroke-linejoin="round"/>
<polyline points="311.3,51.5 322.0,50.5 321.5,58.0 315.5,59.0 313.5,55.0 311.3,51.5" fill="none" stroke="#808080" stroke-width="2" stroke-linejoin="round"/>
<polygon points="106.8,250.6 108.8,238.9 110.7,225.0 114.7,217.0 113.7,207.1 116.7,199.1 116.7,189.2 122.7,183.3 128.6,175.3 134.6,167.4 140.5,161.4 144.5,155.5 150.5,157.4 158.4,149.5 162.4,141.6 166.3,149.5 168.3,157.4 178.3,157.4 186.2,152.5 202.1,150.5 221.9,152.5 233.9,149.5 237.8,145.5 245.8,147.5 253.7,145.5 261.7,146.5 267.6,155.5 275.6,163.4 285.5,157.4 293.4,153.5 285.5,151.5 283.5,141.6 285.5,131.6 279.5,131.6 289.4,130.6 297.4,137.6 301.4,130.6 309.3,127.7 321.2,125.7 325.2,119.7 331.2,117.7 337.1,120.7 340.1,125.7 339.1,133.6 335.1,141.6 337.1,149.5 336.1,157.4 341.1,163.4 347.2,165.4 355.1,145.5 353.1,157.4 365.1,157.4 377.0,158.4 377.0,149.5 390.9,150.5 396.8,155.5 406.8,153.5 414.7,163.4 420.7,175.3 422.7,187.2 429.6,188.2 426.6,195.2 414.7,201.1 426.6,199.1 432.6,193.2 436.6,195.2 430.6,207.1 436.6,211.1 440.5,203.1 454.5,203.1 457.4,207.1 453.4,215.0 452.4,228.9 456.4,240.8 466.3,241.8 480.2,248.8 486.2,255.4 487.2,267.4 488.2,277.3 486.2,284.2 482.2,291.2 486.2,299.1 489.2,311.0 488.2,323.0 488.6,334.9 490.2,346.8 491.2,360.7 484.2,362.7 478.3,368.6 474.3,372.6 466.3,372.6 456.4,376.6 444.5,380.5 440.5,384.5 430.6,389.5 420.7,388.5 412.7,394.4 410.7,402.4 406.8,400.4 406.8,386.5 400.8,382.5 398.8,374.6 394.9,370.6 384.9,372.6 382.9,366.6 389.9,360.7 388.9,354.7 382.9,355.7 377.0,357.7 369.0,352.7 361.1,350.8 355.1,356.7 347.2,356.7 343.1,366.6 339.1,373.6 341.1,382.5 339.1,390.5 346.0,390.5 345.0,398.4 337.1,400.4 325.2,402.4 319.2,412.3 312.3,422.2 311.3,430.2 303.4,433.2 295.4,436.1 283.5,430.2 279.5,422.2 275.6,416.3 263.6,411.3 254.7,416.3 253.7,410.3 249.7,398.4 245.8,392.5 240.8,388.5 237.8,378.6 229.9,370.6 227.9,362.7 221.9,356.7 214.0,353.7 208.0,356.7 208.0,368.6 204.1,366.6 198.1,370.6 194.1,368.6 186.2,362.7 178.3,357.7 170.3,358.7 166.3,354.7 159.4,344.8 155.4,338.8 152.5,328.9 146.5,321.0 138.6,313.0 137.6,301.1 132.6,291.2 126.6,281.3 126.6,273.3 122.7,265.4 116.7,259.4 108.8,255.4" fill="none" stroke="#000" stroke-width="4.6" stroke-linejoin="round"/>
<line x1="126.6" y1="273.3" x2="486.2" y2="273.3" stroke="#000" stroke-width="4"/>
</g>
<circle cx="64.5" cy="11.3" r="4.6" fill="#000"/>
<circle cx="201.2" cy="35.5" r="4.6" fill="#000"/>
<circle cx="64.5" cy="59.7" r="4.6" fill="#000"/>
<circle cx="269.5" cy="59.7" r="4.6" fill="#000"/>
<circle cx="292.3" cy="59.7" r="4.6" fill="#000"/>
<circle cx="87.3" cy="83.9" r="4.6" fill="#000"/>
<circle cx="132.8" cy="83.9" r="4.6" fill="#000"/>
<circle cx="155.6" cy="83.9" r="4.6" fill="#000"/>
<circle cx="178.4" cy="83.9" r="4.6" fill="#000"/>
<circle cx="292.3" cy="83.9" r="4.6" fill="#000"/>
<circle cx="337.9" cy="83.9" r="4.6" fill="#000"/>
<circle cx="178.4" cy="108.1" r="4.6" fill="#000"/>
<circle cx="201.2" cy="108.1" r="4.6" fill="#000"/>
<circle cx="178.4" cy="132.3" r="4.6" fill="#000"/>
<circle cx="406.2" cy="132.3" r="4.6" fill="#000"/>
<circle cx="429.0" cy="132.3" r="4.6" fill="#000"/>
<circle cx="269.5" cy="180.7" r="4.6" fill="#000"/>
<circle cx="178.4" cy="204.9" r="4.6" fill="#000"/>
<circle cx="269.5" cy="204.9" r="4.6" fill="#000"/>
<circle cx="155.6" cy="229.1" r="4.6" fill="#000"/>
<circle cx="178.4" cy="229.1" r="4.6" fill="#000"/>
<circle cx="292.3" cy="229.1" r="4.6" fill="#000"/>
<circle cx="315.1" cy="229.1" r="4.6" fill="#000"/>
<circle cx="337.9" cy="229.1" r="4.6" fill="#000"/>
<circle cx="383.4" cy="229.1" r="4.6" fill="#000"/>
<circle cx="155.6" cy="253.3" r="4.6" fill="#000"/>
<circle cx="178.4" cy="253.3" r="4.6" fill="#000"/>
<circle cx="132.8" cy="277.5" r="4.6" fill="#000"/>
<circle cx="155.6" cy="277.5" r="4.6" fill="#000"/>
<circle cx="292.3" cy="277.5" r="4.6" fill="#000"/>
<circle cx="406.2" cy="277.5" r="4.6" fill="#000"/>
<circle cx="132.8" cy="301.7" r="4.6" fill="#000"/>
<circle cx="155.6" cy="301.7" r="4.6" fill="#000"/>
<circle cx="406.2" cy="301.7" r="4.6" fill="#000"/>
<circle cx="588.4" cy="301.7" r="4.6" fill="#000"/>
<circle cx="269.5" cy="325.9" r="4.6" fill="#000"/>
<circle cx="337.9" cy="325.9" r="4.6" fill="#000"/>
<circle cx="360.6" cy="325.9" r="4.6" fill="#000"/>
<circle cx="383.4" cy="325.9" r="4.6" fill="#000"/>
<circle cx="406.2" cy="325.9" r="4.6" fill="#000"/>
<circle cx="474.5" cy="325.9" r="4.6" fill="#000"/>
<circle cx="565.7" cy="325.9" r="4.6" fill="#000"/>
<circle cx="588.4" cy="325.9" r="4.6" fill="#000"/>
<circle cx="224.0" cy="350.1" r="4.6" fill="#000"/>
<circle cx="246.7" cy="350.1" r="4.6" fill="#000"/>
<circle cx="292.3" cy="350.1" r="4.6" fill="#000"/>
<circle cx="315.1" cy="350.1" r="4.6" fill="#000"/>
<circle cx="337.9" cy="350.1" r="4.6" fill="#000"/>
<circle cx="360.6" cy="350.1" r="4.6" fill="#000"/>
<circle cx="406.2" cy="350.1" r="4.6" fill="#000"/>
<circle cx="451.8" cy="350.1" r="4.6" fill="#000"/>
<circle cx="474.5" cy="350.1" r="4.6" fill="#000"/>
<circle cx="497.3" cy="350.1" r="4.6" fill="#000"/>
<circle cx="565.7" cy="350.1" r="4.6" fill="#000"/>
<circle cx="269.5" cy="374.3" r="4.6" fill="#000"/>
<circle cx="292.3" cy="374.3" r="4.6" fill="#000"/>
<circle cx="315.1" cy="374.3" r="4.6" fill="#000"/>
<circle cx="337.9" cy="374.3" r="4.6" fill="#000"/>
<circle cx="429.0" cy="374.3" r="4.6" fill="#000"/>
<circle cx="451.8" cy="374.3" r="4.6" fill="#000"/>
<circle cx="474.5" cy="374.3" r="4.6" fill="#000"/>
<circle cx="497.3" cy="374.3" r="4.6" fill="#000"/>
<circle cx="565.7" cy="374.3" r="4.6" fill="#000"/>
<circle cx="224.0" cy="398.5" r="4.6" fill="#000"/>
<circle cx="246.7" cy="398.5" r="4.6" fill="#000"/>
<circle cx="269.5" cy="398.5" r="4.6" fill="#000"/>
<circle cx="315.1" cy="398.5" r="4.6" fill="#000"/>
<circle cx="497.3" cy="398.5" r="4.6" fill="#000"/>
<circle cx="565.7" cy="398.5" r="4.6" fill="#000"/>
<circle cx="224.0" cy="422.7" r="4.6" fill="#000"/>
<circle cx="292.3" cy="422.7" r="4.6" fill="#000"/>
<circle cx="315.1" cy="422.7" r="4.6" fill="#000"/>
<circle cx="292.3" cy="446.9" r="4.6" fill="#000"/>
<circle cx="246.7" cy="471.1" r="4.6" fill="#000"/>
<circle cx="269.5" cy="471.1" r="4.6" fill="#000"/>
<circle cx="292.3" cy="471.1" r="4.6" fill="#000"/>
<circle cx="497.3" cy="471.1" r="4.6" fill="#000"/>
<rect x="47.5" y="11.0" width="604.0" height="476.0" fill="none" stroke="#262626" stroke-width="2.2"/>
<path d="M333.0 11.0 v7 M333.0 487.0 v-7 M47.5 182.0 h7 M651.5 182.0 h-7" stroke="#262626" stroke-width="2.2" fill="none"/>
<text transform="translate(621.0 72.6) scale(1 1.045)" font-size="32" text-anchor="end" fill="#000">GPCP</text>
<g clip-path="url(#frameb)"><g clip-path="url(#landb)" shape-rendering="crispEdges">
<rect x="745.6" y="5.0" width="12.0" height="12.7" fill="#f7814a"/>
<rect x="757.0" y="5.0" width="23.4" height="12.7" fill="#db3529"/>
<rect x="745.6" y="17.1" width="23.4" height="12.7" fill="#fcab60"/>
<rect x="768.4" y="17.1" width="12.0" height="12.7" fill="#db3529"/>
<rect x="882.4" y="17.1" width="34.8" height="12.7" fill="#d0ebf8"/>
<rect x="745.6" y="29.2" width="23.4" height="12.7" fill="#fee391"/>
<rect x="848.2" y="29.2" width="23.4" height="12.7" fill="#d0ebf8"/>
<rect x="871.0" y="29.2" width="12.0" height="12.7" fill="#bde2f1"/>
<rect x="882.4" y="29.2" width="34.8" height="12.7" fill="#d0ebf8"/>
<rect x="916.6" y="29.2" width="12.0" height="12.7" fill="#a9d8e7"/>
<rect x="928.0" y="29.2" width="23.4" height="12.7" fill="#fee391"/>
<rect x="745.6" y="41.3" width="23.4" height="12.7" fill="#bde2f1"/>
<rect x="768.4" y="41.3" width="12.0" height="12.7" fill="#fdbe72"/>
<rect x="836.8" y="41.3" width="12.0" height="12.7" fill="#fdbe72"/>
<rect x="848.2" y="41.3" width="23.4" height="12.7" fill="#d0ebf8"/>
<rect x="871.0" y="41.3" width="12.0" height="12.7" fill="#bde2f1"/>
<rect x="882.4" y="41.3" width="34.8" height="12.7" fill="#d0ebf8"/>
<rect x="916.6" y="41.3" width="12.0" height="12.7" fill="#a9d8e7"/>
<rect x="928.0" y="41.3" width="69.0" height="12.7" fill="#fee391"/>
<rect x="996.4" y="41.3" width="23.4" height="12.7" fill="#fed281"/>
<rect x="745.6" y="53.4" width="12.0" height="12.7" fill="#bde2f1"/>
<rect x="757.0" y="53.4" width="23.4" height="12.7" fill="#fdbe72"/>
<rect x="779.8" y="53.4" width="12.0" height="12.7" fill="#e2f4f2"/>
<rect x="791.2" y="53.4" width="80.4" height="12.7" fill="#fdbe72"/>
<rect x="871.0" y="53.4" width="34.8" height="12.7" fill="#94c8de"/>
<rect x="905.2" y="53.4" width="34.8" height="12.7" fill="#fdbe72"/>
<rect x="939.4" y="53.4" width="12.0" height="12.7" fill="#fed281"/>
<rect x="950.8" y="53.4" width="46.2" height="12.7" fill="#fee391"/>
<rect x="996.4" y="53.4" width="34.8" height="12.7" fill="#fed281"/>
<rect x="745.6" y="65.5" width="12.0" height="12.7" fill="#bde2f1"/>
<rect x="757.0" y="65.5" width="34.8" height="12.7" fill="#e2f4f2"/>
<rect x="791.2" y="65.5" width="46.2" height="12.7" fill="#fdbe72"/>
<rect x="836.8" y="65.5" width="23.4" height="12.7" fill="#e2f4f2"/>
<rect x="859.6" y="65.5" width="12.0" height="12.7" fill="#bde2f1"/>
<rect x="871.0" y="65.5" width="12.0" height="12.7" fill="#598ec2"/>
<rect x="882.4" y="65.5" width="12.0" height="12.7" fill="#6ca4cd"/>
<rect x="893.8" y="65.5" width="12.0" height="12.7" fill="#bde2f1"/>
<rect x="905.2" y="65.5" width="12.0" height="12.7" fill="#fed281"/>
<rect x="916.6" y="65.5" width="12.0" height="12.7" fill="#fdbe72"/>
<rect x="928.0" y="65.5" width="23.4" height="12.7" fill="#fee391"/>
<rect x="950.8" y="65.5" width="12.0" height="12.7" fill="#e2f4f2"/>
<rect x="962.2" y="65.5" width="12.0" height="12.7" fill="#fed281"/>
<rect x="973.6" y="65.5" width="34.8" height="12.7" fill="#fee391"/>
<rect x="1007.8" y="65.5" width="23.4" height="12.7" fill="#fed281"/>
<rect x="1030.6" y="65.5" width="23.4" height="12.7" fill="#f7814a"/>
<rect x="757.0" y="77.6" width="12.0" height="12.7" fill="#e2f4f2"/>
<rect x="768.4" y="77.6" width="23.4" height="12.7" fill="#f7814a"/>
<rect x="791.2" y="77.6" width="23.4" height="12.7" fill="#d0ebf8"/>
<rect x="814.0" y="77.6" width="23.4" height="12.7" fill="#6ca4cd"/>
<rect x="836.8" y="77.6" width="34.8" height="12.7" fill="#81b8d7"/>
<rect x="871.0" y="77.6" width="23.4" height="12.7" fill="#598ec2"/>
<rect x="893.8" y="77.6" width="12.0" height="12.7" fill="#fed281"/>
<rect x="905.2" y="77.6" width="12.0" height="12.7" fill="#fee391"/>
<rect x="916.6" y="77.6" width="12.0" height="12.7" fill="#e2f4f2"/>
<rect x="928.0" y="77.6" width="34.8" height="12.7" fill="#bde2f1"/>
<rect x="962.2" y="77.6" width="12.0" height="12.7" fill="#fee391"/>
<rect x="973.6" y="77.6" width="23.4" height="12.7" fill="#fdbe72"/>
<rect x="996.4" y="77.6" width="12.0" height="12.7" fill="#fcab60"/>
<rect x="1007.8" y="77.6" width="23.4" height="12.7" fill="#fb9656"/>
<rect x="1030.6" y="77.6" width="23.4" height="12.7" fill="#f7814a"/>
<rect x="1053.4" y="77.6" width="12.0" height="12.7" fill="#4677b3"/>
<rect x="768.4" y="89.7" width="23.4" height="12.7" fill="#f7814a"/>
<rect x="791.2" y="89.7" width="23.4" height="12.7" fill="#d0ebf8"/>
<rect x="814.0" y="89.7" width="34.8" height="12.7" fill="#6ca4cd"/>
<rect x="848.2" y="89.7" width="12.0" height="12.7" fill="#3c61aa"/>
<rect x="859.6" y="89.7" width="12.0" height="12.7" fill="#bde2f1"/>
<rect x="871.0" y="89.7" width="12.0" height="12.7" fill="#3c61aa"/>
<rect x="882.4" y="89.7" width="12.0" height="12.7" fill="#6ca4cd"/>
<rect x="893.8" y="89.7" width="12.0" height="12.7" fill="#fed281"/>
<rect x="905.2" y="89.7" width="46.2" height="12.7" fill="#bde2f1"/>
<rect x="950.8" y="89.7" width="12.0" height="12.7" fill="#d0ebf8"/>
<rect x="962.2" y="89.7" width="12.0" height="12.7" fill="#e2f4f2"/>
<rect x="973.6" y="89.7" width="12.0" height="12.7" fill="#fdbe72"/>
<rect x="985.0" y="89.7" width="12.0" height="12.7" fill="#fb9656"/>
<rect x="996.4" y="89.7" width="12.0" height="12.7" fill="#e84c35"/>
<rect x="1007.8" y="89.7" width="12.0" height="12.7" fill="#db3529"/>
<rect x="1019.2" y="89.7" width="12.0" height="12.7" fill="#fb9656"/>
<rect x="1030.6" y="89.7" width="12.0" height="12.7" fill="#d0ebf8"/>
<rect x="1042.0" y="89.7" width="23.4" height="12.7" fill="#4677b3"/>
<rect x="1064.8" y="89.7" width="12.0" height="12.7" fill="#81b8d7"/>
<rect x="825.4" y="101.8" width="46.2" height="12.7" fill="#3c61aa"/>
<rect x="871.0" y="101.8" width="23.4" height="12.7" fill="#a9d8e7"/>
<rect x="893.8" y="101.8" width="12.0" height="12.7" fill="#94c8de"/>
<rect x="905.2" y="101.8" width="12.0" height="12.7" fill="#6ca4cd"/>
<rect x="916.6" y="101.8" width="12.0" height="12.7" fill="#bde2f1"/>
<rect x="928.0" y="101.8" width="46.2" height="12.7" fill="#fdbe72"/>
<rect x="973.6" y="101.8" width="12.0" height="12.7" fill="#fed281"/>
<rect x="985.0" y="101.8" width="12.0" height="12.7" fill="#f7814a"/>
<rect x="996.4" y="101.8" width="12.0" height="12.7" fill="#cc2127"/>
<rect x="1007.8" y="101.8" width="12.0" height="12.7" fill="#e84c35"/>
<rect x="1019.2" y="101.8" width="12.0" height="12.7" fill="#fdbe72"/>
<rect x="1030.6" y="101.8" width="12.0" height="12.7" fill="#d0ebf8"/>
<rect x="1042.0" y="101.8" width="12.0" height="12.7" fill="#6ca4cd"/>
<rect x="1053.4" y="101.8" width="23.4" height="12.7" fill="#81b8d7"/>
<rect x="1076.2" y="101.8" width="12.0" height="12.7" fill="#bde2f1"/>
<rect x="1087.6" y="101.8" width="12.0" height="12.7" fill="#d0ebf8"/>
<rect x="1099.0" y="101.8" width="12.0" height="12.7" fill="#e2f4f2"/>
<rect x="1110.4" y="101.8" width="23.4" height="12.7" fill="#fdbe72"/>
<rect x="825.4" y="113.9" width="34.8" height="12.7" fill="#3c61aa"/>
<rect x="859.6" y="113.9" width="12.0" height="12.7" fill="#81b8d7"/>
<rect x="871.0" y="113.9" width="12.0" height="12.7" fill="#fee391"/>
<rect x="882.4" y="113.9" width="12.0" height="12.7" fill="#fb9656"/>
<rect x="893.8" y="113.9" width="12.0" height="12.7" fill="#fdbe72"/>
<rect x="905.2" y="113.9" width="23.4" height="12.7" fill="#fed281"/>
<rect x="928.0" y="113.9" width="12.0" height="12.7" fill="#bde2f1"/>
<rect x="939.4" y="113.9" width="12.0" height="12.7" fill="#a9d8e7"/>
<rect x="950.8" y="113.9" width="12.0" height="12.7" fill="#e2f4f2"/>
<rect x="962.2" y="113.9" width="23.4" height="12.7" fill="#fed281"/>
<rect x="985.0" y="113.9" width="12.0" height="12.7" fill="#fcab60"/>
<rect x="996.4" y="113.9" width="12.0" height="12.7" fill="#f16641"/>
<rect x="1007.8" y="113.9" width="12.0" height="12.7" fill="#fb9656"/>
<rect x="1019.2" y="113.9" width="12.0" height="12.7" fill="#e2f4f2"/>
<rect x="1030.6" y="113.9" width="12.0" height="12.7" fill="#d0ebf8"/>
<rect x="1042.0" y="113.9" width="12.0" height="12.7" fill="#e2f4f2"/>
<rect x="1053.4" y="113.9" width="12.0" height="12.7" fill="#d0ebf8"/>
<rect x="1064.8" y="113.9" width="12.0" height="12.7" fill="#a9d8e7"/>
<rect x="1076.2" y="113.9" width="12.0" height="12.7" fill="#bde2f1"/>
<rect x="1087.6" y="113.9" width="12.0" height="12.7" fill="#d0ebf8"/>
<rect x="1099.0" y="113.9" width="12.0" height="12.7" fill="#e2f4f2"/>
<rect x="1110.4" y="113.9" width="34.8" height="12.7" fill="#fdbe72"/>
<rect x="814.0" y="126.0" width="12.0" height="12.7" fill="#d0ebf8"/>
<rect x="825.4" y="126.0" width="23.4" height="12.7" fill="#cc2127"/>
<rect x="848.2" y="126.0" width="12.0" height="12.7" fill="#fed281"/>
<rect x="859.6" y="126.0" width="12.0" height="12.7" fill="#fee391"/>
<rect x="871.0" y="126.0" width="46.2" height="12.7" fill="#fed281"/>
<rect x="916.6" y="126.0" width="12.0" height="12.7" fill="#fcab60"/>
<rect x="928.0" y="126.0" width="12.0" height="12.7" fill="#a9d8e7"/>
<rect x="939.4" y="126.0" width="12.0" height="12.7" fill="#598ec2"/>
<rect x="950.8" y="126.0" width="34.8" height="12.7" fill="#d0ebf8"/>
<rect x="985.0" y="126.0" width="12.0" height="12.7" fill="#fed281"/>
<rect x="996.4" y="126.0" width="23.4" height="12.7" fill="#fdbe72"/>
<rect x="1019.2" y="126.0" width="12.0" height="12.7" fill="#fcab60"/>
<rect x="1030.6" y="126.0" width="12.0" height="12.7" fill="#fed281"/>
<rect x="1042.0" y="126.0" width="23.4" height="12.7" fill="#d0ebf8"/>
<rect x="1064.8" y="126.0" width="12.0" height="12.7" fill="#94c8de"/>
<rect x="1076.2" y="126.0" width="12.0" height="12.7" fill="#598ec2"/>
<rect x="1087.6" y="126.0" width="12.0" height="12.7" fill="#94c8de"/>
<rect x="1099.0" y="126.0" width="12.0" height="12.7" fill="#fee391"/>
<rect x="1110.4" y="126.0" width="34.8" height="12.7" fill="#fdbe72"/>
<rect x="802.6" y="138.1" width="12.0" height="12.7" fill="#a9d8e7"/>
<rect x="814.0" y="138.1" width="23.4" height="12.7" fill="#d0ebf8"/>
<rect x="836.8" y="138.1" width="12.0" height="12.7" fill="#e84c35"/>
<rect x="848.2" y="138.1" width="12.0" height="12.7" fill="#fed281"/>
<rect x="859.6" y="138.1" width="12.0" height="12.7" fill="#fee391"/>
<rect x="871.0" y="138.1" width="12.0" height="12.7" fill="#fdbe72"/>
<rect x="882.4" y="138.1" width="12.0" height="12.7" fill="#fb9656"/>
<rect x="893.8" y="138.1" width="12.0" height="12.7" fill="#fdbe72"/>
<rect x="905.2" y="138.1" width="12.0" height="12.7" fill="#e2f4f2"/>
<rect x="916.6" y="138.1" width="12.0" height="12.7" fill="#fdbe72"/>
<rect x="928.0" y="138.1" width="12.0" height="12.7" fill="#fed281"/>
<rect x="939.4" y="138.1" width="12.0" height="12.7" fill="#d0ebf8"/>
<rect x="950.8" y="138.1" width="12.0" height="12.7" fill="#94c8de"/>
<rect x="962.2" y="138.1" width="12.0" height="12.7" fill="#81b8d7"/>
<rect x="973.6" y="138.1" width="12.0" height="12.7" fill="#bde2f1"/>
<rect x="985.0" y="138.1" width="12.0" height="12.7" fill="#d0ebf8"/>
<rect x="996.4" y="138.1" width="12.0" height="12.7" fill="#fed281"/>
<rect x="1007.8" y="138.1" width="12.0" height="12.7" fill="#e2f4f2"/>
<rect x="1019.2" y="138.1" width="12.0" height="12.7" fill="#fee391"/>
<rect x="1030.6" y="138.1" width="12.0" height="12.7" fill="#6ca4cd"/>
<rect x="1042.0" y="138.1" width="23.4" height="12.7" fill="#598ec2"/>
<rect x="1064.8" y="138.1" width="12.0" height="12.7" fill="#3c61aa"/>
<rect x="1076.2" y="138.1" width="12.0" height="12.7" fill="#598ec2"/>
<rect x="1087.6" y="138.1" width="12.0" height="12.7" fill="#81b8d7"/>
<rect x="1099.0" y="138.1" width="12.0" height="12.7" fill="#fee391"/>
<rect x="1110.4" y="138.1" width="12.0" height="12.7" fill="#fdbe72"/>
<rect x="1121.8" y="138.1" width="23.4" height="12.7" fill="#d0ebf8"/>
<rect x="1144.6" y="138.1" width="12.0" height="12.7" fill="#4677b3"/>
<rect x="791.2" y="150.2" width="12.0" height="12.7" fill="#cc2127"/>
<rect x="802.6" y="150.2" width="23.4" height="12.7" fill="#a9d8e7"/>
<rect x="825.4" y="150.2" width="12.0" height="12.7" fill="#bde2f1"/>
<rect x="836.8" y="150.2" width="12.0" height="12.7" fill="#d0ebf8"/>
<rect x="848.2" y="150.2" width="12.0" height="12.7" fill="#94c8de"/>
<rect x="859.6" y="150.2" width="23.4" height="12.7" fill="#fdbe72"/>
<rect x="882.4" y="150.2" width="46.2" height="12.7" fill="#fed281"/>
<rect x="928.0" y="150.2" width="12.0" height="12.7" fill="#fee391"/>
<rect x="939.4" y="150.2" width="12.0" height="12.7" fill="#94c8de"/>
<rect x="950.8" y="150.2" width="12.0" height="12.7" fill="#6ca4cd"/>
<rect x="962.2" y="150.2" width="23.4" height="12.7" fill="#3c61aa"/>
<rect x="985.0" y="150.2" width="12.0" height="12.7" fill="#d0ebf8"/>
<rect x="996.4" y="150.2" width="12.0" height="12.7" fill="#fcab60"/>
<rect x="1007.8" y="150.2" width="12.0" height="12.7" fill="#fdbe72"/>
<rect x="1019.2" y="150.2" width="12.0" height="12.7" fill="#d0ebf8"/>
<rect x="1030.6" y="150.2" width="12.0" height="12.7" fill="#bde2f1"/>
<rect x="1042.0" y="150.2" width="12.0" height="12.7" fill="#94c8de"/>
<rect x="1053.4" y="150.2" width="34.8" height="12.7" fill="#3c61aa"/>
<rect x="1087.6" y="150.2" width="12.0" height="12.7" fill="#94c8de"/>
<rect x="1099.0" y="150.2" width="23.4" height="12.7" fill="#fee391"/>
<rect x="1121.8" y="150.2" width="12.0" height="12.7" fill="#94c8de"/>
<rect x="1133.2" y="150.2" width="23.4" height="12.7" fill="#4677b3"/>
<rect x="791.2" y="162.3" width="23.4" height="12.7" fill="#cc2127"/>
<rect x="814.0" y="162.3" width="12.0" height="12.7" fill="#fb9656"/>
<rect x="825.4" y="162.3" width="12.0" height="12.7" fill="#e2f4f2"/>
<rect x="836.8" y="162.3" width="12.0" height="12.7" fill="#81b8d7"/>
<rect x="848.2" y="162.3" width="12.0" height="12.7" fill="#3c61aa"/>
<rect x="859.6" y="162.3" width="12.0" height="12.7" fill="#598ec2"/>
<rect x="871.0" y="162.3" width="12.0" height="12.7" fill="#bde2f1"/>
<rect x="882.4" y="162.3" width="12.0" height="12.7" fill="#94c8de"/>
<rect x="893.8" y="162.3" width="12.0" height="12.7" fill="#bde2f1"/>
<rect x="905.2" y="162.3" width="12.0" height="12.7" fill="#f16641"/>
<rect x="916.6" y="162.3" width="12.0" height="12.7" fill="#cc2127"/>
<rect x="928.0" y="162.3" width="12.0" height="12.7" fill="#e84c35"/>
<rect x="939.4" y="162.3" width="12.0" height="12.7" fill="#bde2f1"/>
<rect x="950.8" y="162.3" width="12.0" height="12.7" fill="#6ca4cd"/>
<rect x="962.2" y="162.3" width="23.4" height="12.7" fill="#3c61aa"/>
<rect x="985.0" y="162.3" width="12.0" height="12.7" fill="#81b8d7"/>
<rect x="996.4" y="162.3" width="23.4" height="12.7" fill="#f16641"/>
<rect x="1019.2" y="162.3" width="12.0" height="12.7" fill="#e2f4f2"/>
<rect x="1030.6" y="162.3" width="12.0" height="12.7" fill="#a9d8e7"/>
<rect x="1042.0" y="162.3" width="12.0" height="12.7" fill="#94c8de"/>
<rect x="1053.4" y="162.3" width="34.8" height="12.7" fill="#3c61aa"/>
<rect x="1087.6" y="162.3" width="12.0" height="12.7" fill="#81b8d7"/>
<rect x="1099.0" y="162.3" width="12.0" height="12.7" fill="#a9d8e7"/>
<rect x="1110.4" y="162.3" width="12.0" height="12.7" fill="#d0ebf8"/>
<rect x="1121.8" y="162.3" width="34.8" height="12.7" fill="#fee391"/>
<rect x="779.8" y="174.4" width="12.0" height="12.7" fill="#fdbe72"/>
<rect x="791.2" y="174.4" width="23.4" height="12.7" fill="#e2f4f2"/>
<rect x="814.0" y="174.4" width="12.0" height="12.7" fill="#fdbe72"/>
<rect x="825.4" y="174.4" width="12.0" height="12.7" fill="#e2f4f2"/>
<rect x="836.8" y="174.4" width="34.8" height="12.7" fill="#3c61aa"/>
<rect x="871.0" y="174.4" width="12.0" height="12.7" fill="#6ca4cd"/>
<rect x="882.4" y="174.4" width="12.0" height="12.7" fill="#3c61aa"/>
<rect x="893.8" y="174.4" width="12.0" height="12.7" fill="#81b8d7"/>
<rect x="905.2" y="174.4" width="34.8" height="12.7" fill="#cc2127"/>
<rect x="939.4" y="174.4" width="12.0" height="12.7" fill="#fb9656"/>
<rect x="950.8" y="174.4" width="12.0" height="12.7" fill="#81b8d7"/>
<rect x="962.2" y="174.4" width="23.4" height="12.7" fill="#3c61aa"/>
<rect x="985.0" y="174.4" width="12.0" height="12.7" fill="#e2f4f2"/>
<rect x="996.4" y="174.4" width="23.4" height="12.7" fill="#db3529"/>
<rect x="1019.2" y="174.4" width="12.0" height="12.7" fill="#fcab60"/>
<rect x="1030.6" y="174.4" width="12.0" height="12.7" fill="#94c8de"/>
<rect x="1042.0" y="174.4" width="12.0" height="12.7" fill="#6ca4cd"/>
<rect x="1053.4" y="174.4" width="23.4" height="12.7" fill="#3c61aa"/>
<rect x="1076.2" y="174.4" width="12.0" height="12.7" fill="#598ec2"/>
<rect x="1087.6" y="174.4" width="12.0" height="12.7" fill="#a9d8e7"/>
<rect x="1099.0" y="174.4" width="12.0" height="12.7" fill="#6ca4cd"/>
<rect x="1110.4" y="174.4" width="12.0" height="12.7" fill="#81b8d7"/>
<rect x="1121.8" y="174.4" width="12.0" height="12.7" fill="#e2f4f2"/>
<rect x="1133.2" y="174.4" width="23.4" height="12.7" fill="#f7814a"/>
<rect x="1156.0" y="174.4" width="12.0" height="12.7" fill="#4677b3"/>
<rect x="1167.4" y="174.4" width="12.0" height="12.7" fill="#598ec2"/>
<rect x="1178.8" y="174.4" width="23.4" height="12.7" fill="#fdbe72"/>
<rect x="779.8" y="186.5" width="46.2" height="12.7" fill="#fdbe72"/>
<rect x="825.4" y="186.5" width="12.0" height="12.7" fill="#fee391"/>
<rect x="836.8" y="186.5" width="12.0" height="12.7" fill="#598ec2"/>
<rect x="848.2" y="186.5" width="57.6" height="12.7" fill="#3c61aa"/>
<rect x="905.2" y="186.5" width="46.2" height="12.7" fill="#cc2127"/>
<rect x="950.8" y="186.5" width="12.0" height="12.7" fill="#94c8de"/>
<rect x="962.2" y="186.5" width="12.0" height="12.7" fill="#f16641"/>
<rect x="973.6" y="186.5" width="23.4" height="12.7" fill="#cc2127"/>
<rect x="996.4" y="186.5" width="12.0" height="12.7" fill="#e84c35"/>
<rect x="1007.8" y="186.5" width="23.4" height="12.7" fill="#f16641"/>
<rect x="1030.6" y="186.5" width="12.0" height="12.7" fill="#fcab60"/>
<rect x="1042.0" y="186.5" width="12.0" height="12.7" fill="#bde2f1"/>
<rect x="1053.4" y="186.5" width="23.4" height="12.7" fill="#3c61aa"/>
<rect x="1076.2" y="186.5" width="12.0" height="12.7" fill="#4677b3"/>
<rect x="1087.6" y="186.5" width="12.0" height="12.7" fill="#598ec2"/>
<rect x="1099.0" y="186.5" width="12.0" height="12.7" fill="#81b8d7"/>
<rect x="1110.4" y="186.5" width="12.0" height="12.7" fill="#6ca4cd"/>
<rect x="1121.8" y="186.5" width="12.0" height="12.7" fill="#bde2f1"/>
<rect x="1133.2" y="186.5" width="12.0" height="12.7" fill="#d0ebf8"/>
<rect x="1144.6" y="186.5" width="23.4" height="12.7" fill="#4677b3"/>
<rect x="1167.4" y="186.5" width="12.0" height="12.7" fill="#598ec2"/>
<rect x="1178.8" y="186.5" width="23.4" height="12.7" fill="#fdbe72"/>
<rect x="1201.6" y="186.5" width="12.0" height="12.7" fill="#fcab60"/>
<rect x="779.8" y="198.6" width="12.0" height="12.7" fill="#fdbe72"/>
<rect x="791.2" y="198.6" width="23.4" height="12.7" fill="#fb9656"/>
<rect x="814.0" y="198.6" width="12.0" height="12.7" fill="#fcab60"/>
<rect x="825.4" y="198.6" width="12.0" height="12.7" fill="#81b8d7"/>
<rect x="836.8" y="198.6" width="23.4" height="12.7" fill="#6ca4cd"/>
<rect x="859.6" y="198.6" width="46.2" height="12.7" fill="#3c61aa"/>
<rect x="905.2" y="198.6" width="12.0" height="12.7" fill="#d0ebf8"/>
<rect x="916.6" y="198.6" width="12.0" height="12.7" fill="#e84c35"/>
<rect x="928.0" y="198.6" width="23.4" height="12.7" fill="#cc2127"/>
<rect x="950.8" y="198.6" width="12.0" height="12.7" fill="#bde2f1"/>
<rect x="962.2" y="198.6" width="12.0" height="12.7" fill="#db3529"/>
<rect x="973.6" y="198.6" width="23.4" height="12.7" fill="#cc2127"/>
<rect x="996.4" y="198.6" width="23.4" height="12.7" fill="#fcab60"/>
<rect x="1019.2" y="198.6" width="12.0" height="12.7" fill="#f16641"/>
<rect x="1030.6" y="198.6" width="12.0" height="12.7" fill="#fb9656"/>
<rect x="1042.0" y="198.6" width="12.0" height="12.7" fill="#e2f4f2"/>
<rect x="1053.4" y="198.6" width="34.8" height="12.7" fill="#3c61aa"/>
<rect x="1087.6" y="198.6" width="12.0" height="12.7" fill="#598ec2"/>
<rect x="1099.0" y="198.6" width="12.0" height="12.7" fill="#bde2f1"/>
<rect x="1110.4" y="198.6" width="23.4" height="12.7" fill="#d0ebf8"/>
<rect x="1133.2" y="198.6" width="12.0" height="12.7" fill="#bde2f1"/>
<rect x="1144.6" y="198.6" width="12.0" height="12.7" fill="#94c8de"/>
<rect x="1156.0" y="198.6" width="12.0" height="12.7" fill="#598ec2"/>
<rect x="1167.4" y="198.6" width="12.0" height="12.7" fill="#3c61aa"/>
<rect x="1178.8" y="198.6" width="12.0" height="12.7" fill="#6ca4cd"/>
<rect x="1190.2" y="198.6" width="23.4" height="12.7" fill="#fcab60"/>
<rect x="1213.0" y="198.6" width="12.0" height="12.7" fill="#fed281"/>
<rect x="1224.4" y="198.6" width="12.0" height="12.7" fill="#fee391"/>
<rect x="1235.8" y="198.6" width="12.0" height="12.7" fill="#fb9656"/>
<rect x="1247.2" y="198.6" width="23.4" height="12.7" fill="#f7814a"/>
<rect x="779.8" y="210.7" width="12.0" height="12.7" fill="#fed281"/>
<rect x="791.2" y="210.7" width="23.4" height="12.7" fill="#fdbe72"/>
<rect x="814.0" y="210.7" width="12.0" height="12.7" fill="#d0ebf8"/>
<rect x="825.4" y="210.7" width="12.0" height="12.7" fill="#e2f4f2"/>
<rect x="836.8" y="210.7" width="12.0" height="12.7" fill="#81b8d7"/>
<rect x="848.2" y="210.7" width="69.0" height="12.7" fill="#3c61aa"/>
<rect x="916.6" y="210.7" width="12.0" height="12.7" fill="#e2f4f2"/>
<rect x="928.0" y="210.7" width="12.0" height="12.7" fill="#f16641"/>
<rect x="939.4" y="210.7" width="34.8" height="12.7" fill="#fcab60"/>
<rect x="973.6" y="210.7" width="12.0" height="12.7" fill="#d0ebf8"/>
<rect x="985.0" y="210.7" width="12.0" height="12.7" fill="#6ca4cd"/>
<rect x="996.4" y="210.7" width="12.0" height="12.7" fill="#a9d8e7"/>
<rect x="1007.8" y="210.7" width="12.0" height="12.7" fill="#81b8d7"/>
<rect x="1019.2" y="210.7" width="12.0" height="12.7" fill="#3c61aa"/>
<rect x="1030.6" y="210.7" width="12.0" height="12.7" fill="#d0ebf8"/>
<rect x="1042.0" y="210.7" width="12.0" height="12.7" fill="#fdbe72"/>
<rect x="1053.4" y="210.7" width="12.0" height="12.7" fill="#94c8de"/>
<rect x="1064.8" y="210.7" width="23.4" height="12.7" fill="#598ec2"/>
<rect x="1087.6" y="210.7" width="12.0" height="12.7" fill="#94c8de"/>
<rect x="1099.0" y="210.7" width="12.0" height="12.7" fill="#e2f4f2"/>
<rect x="1110.4" y="210.7" width="12.0" height="12.7" fill="#a9d8e7"/>
<rect x="1121.8" y="210.7" width="12.0" height="12.7" fill="#598ec2"/>
<rect x="1133.2" y="210.7" width="23.4" height="12.7" fill="#94c8de"/>
<rect x="1156.0" y="210.7" width="12.0" height="12.7" fill="#bde2f1"/>
<rect x="1167.4" y="210.7" width="12.0" height="12.7" fill="#d0ebf8"/>
<rect x="1178.8" y="210.7" width="12.0" height="12.7" fill="#bde2f1"/>
<rect x="1190.2" y="210.7" width="12.0" height="12.7" fill="#fdbe72"/>
<rect x="1201.6" y="210.7" width="23.4" height="12.7" fill="#fed281"/>
<rect x="1224.4" y="210.7" width="12.0" height="12.7" fill="#fee391"/>
<rect x="1235.8" y="210.7" width="12.0" height="12.7" fill="#fb9656"/>
<rect x="1247.2" y="210.7" width="23.4" height="12.7" fill="#f7814a"/>
<rect x="1270.0" y="210.7" width="23.4" height="12.7" fill="#fdbe72"/>
<rect x="779.8" y="222.8" width="23.4" height="12.7" fill="#fed281"/>
<rect x="802.6" y="222.8" width="12.0" height="12.7" fill="#fdbe72"/>
<rect x="814.0" y="222.8" width="12.0" height="12.7" fill="#a9d8e7"/>
<rect x="825.4" y="222.8" width="12.0" height="12.7" fill="#fb9656"/>
<rect x="836.8" y="222.8" width="12.0" height="12.7" fill="#fcab60"/>
<rect x="848.2" y="222.8" width="34.8" height="12.7" fill="#3c61aa"/>
<rect x="882.4" y="222.8" width="12.0" height="12.7" fill="#94c8de"/>
<rect x="893.8" y="222.8" width="12.0" height="12.7" fill="#e2f4f2"/>
<rect x="905.2" y="222.8" width="12.0" height="12.7" fill="#3c61aa"/>
<rect x="916.6" y="222.8" width="12.0" height="12.7" fill="#6ca4cd"/>
<rect x="928.0" y="222.8" width="12.0" height="12.7" fill="#d0ebf8"/>
<rect x="939.4" y="222.8" width="23.4" height="12.7" fill="#4677b3"/>
<rect x="962.2" y="222.8" width="12.0" height="12.7" fill="#598ec2"/>
<rect x="973.6" y="222.8" width="23.4" height="12.7" fill="#3c61aa"/>
<rect x="996.4" y="222.8" width="12.0" height="12.7" fill="#a9d8e7"/>
<rect x="1007.8" y="222.8" width="23.4" height="12.7" fill="#3c61aa"/>
<rect x="1030.6" y="222.8" width="12.0" height="12.7" fill="#bde2f1"/>
<rect x="1042.0" y="222.8" width="12.0" height="12.7" fill="#fcab60"/>
<rect x="1053.4" y="222.8" width="12.0" height="12.7" fill="#94c8de"/>
<rect x="1064.8" y="222.8" width="23.4" height="12.7" fill="#3c61aa"/>
<rect x="1087.6" y="222.8" width="12.0" height="12.7" fill="#6ca4cd"/>
<rect x="1099.0" y="222.8" width="12.0" height="12.7" fill="#d0ebf8"/>
<rect x="1110.4" y="222.8" width="12.0" height="12.7" fill="#e2f4f2"/>
<rect x="1121.8" y="222.8" width="12.0" height="12.7" fill="#d0ebf8"/>
<rect x="1133.2" y="222.8" width="23.4" height="12.7" fill="#94c8de"/>
<rect x="1156.0" y="222.8" width="12.0" height="12.7" fill="#fb9656"/>
<rect x="1167.4" y="222.8" width="12.0" height="12.7" fill="#cc2127"/>
<rect x="1178.8" y="222.8" width="12.0" height="12.7" fill="#f7814a"/>
<rect x="1190.2" y="222.8" width="23.4" height="12.7" fill="#fcab60"/>
<rect x="1213.0" y="222.8" width="12.0" height="12.7" fill="#e2f4f2"/>
<rect x="1224.4" y="222.8" width="12.0" height="12.7" fill="#fdbe72"/>
<rect x="1235.8" y="222.8" width="23.4" height="12.7" fill="#fcab60"/>
<rect x="1258.6" y="222.8" width="12.0" height="12.7" fill="#fed281"/>
<rect x="1270.0" y="222.8" width="34.8" height="12.7" fill="#fdbe72"/>
<rect x="779.8" y="234.9" width="34.8" height="12.7" fill="#fdbe72"/>
<rect x="814.0" y="234.9" width="23.4" height="12.7" fill="#d0ebf8"/>
<rect x="836.8" y="234.9" width="12.0" height="12.7" fill="#e2f4f2"/>
<rect x="848.2" y="234.9" width="23.4" height="12.7" fill="#4677b3"/>
<rect x="871.0" y="234.9" width="12.0" height="12.7" fill="#81b8d7"/>
<rect x="882.4" y="234.9" width="12.0" height="12.7" fill="#fb9656"/>
<rect x="893.8" y="234.9" width="12.0" height="12.7" fill="#fdbe72"/>
<rect x="905.2" y="234.9" width="57.6" height="12.7" fill="#3c61aa"/>
<rect x="962.2" y="234.9" width="12.0" height="12.7" fill="#bde2f1"/>
<rect x="973.6" y="234.9" width="12.0" height="12.7" fill="#f16641"/>
<rect x="985.0" y="234.9" width="12.0" height="12.7" fill="#db3529"/>
<rect x="996.4" y="234.9" width="12.0" height="12.7" fill="#e2f4f2"/>
<rect x="1007.8" y="234.9" width="12.0" height="12.7" fill="#81b8d7"/>
<rect x="1019.2" y="234.9" width="12.0" height="12.7" fill="#94c8de"/>
<rect x="1030.6" y="234.9" width="12.0" height="12.7" fill="#bde2f1"/>
<rect x="1042.0" y="234.9" width="12.0" height="12.7" fill="#e2f4f2"/>
<rect x="1053.4" y="234.9" width="12.0" height="12.7" fill="#bde2f1"/>
<rect x="1064.8" y="234.9" width="23.4" height="12.7" fill="#3c61aa"/>
<rect x="1087.6" y="234.9" width="12.0" height="12.7" fill="#94c8de"/>
<rect x="1099.0" y="234.9" width="23.4" height="12.7" fill="#fdbe72"/>
<rect x="1121.8" y="234.9" width="12.0" height="12.7" fill="#d0ebf8"/>
<rect x="1133.2" y="234.9" width="12.0" height="12.7" fill="#94c8de"/>
<rect x="1144.6" y="234.9" width="12.0" height="12.7" fill="#fee391"/>
<rect x="1156.0" y="234.9" width="12.0" height="12.7" fill="#fb9656"/>
<rect x="1167.4" y="234.9" width="12.0" height="12.7" fill="#f16641"/>
<rect x="1178.8" y="234.9" width="23.4" height="12.7" fill="#fcab60"/>
<rect x="1201.6" y="234.9" width="12.0" height="12.7" fill="#e84c35"/>
<rect x="1213.0" y="234.9" width="12.0" height="12.7" fill="#fb9656"/>
<rect x="1224.4" y="234.9" width="12.0" height="12.7" fill="#fed281"/>
<rect x="1235.8" y="234.9" width="12.0" height="12.7" fill="#fee391"/>
<rect x="1247.2" y="234.9" width="23.4" height="12.7" fill="#fed281"/>
<rect x="1270.0" y="234.9" width="34.8" height="12.7" fill="#fdbe72"/>
<rect x="1304.2" y="234.9" width="23.4" height="12.7" fill="#e2f4f2"/>
<rect x="779.8" y="247.0" width="23.4" height="12.7" fill="#fcab60"/>
<rect x="802.6" y="247.0" width="12.0" height="12.7" fill="#fed281"/>
<rect x="814.0" y="247.0" width="12.0" height="12.7" fill="#fee391"/>
<rect x="825.4" y="247.0" width="23.4" height="12.7" fill="#fdbe72"/>
<rect x="848.2" y="247.0" width="12.0" height="12.7" fill="#bde2f1"/>
<rect x="859.6" y="247.0" width="12.0" height="12.7" fill="#94c8de"/>
<rect x="871.0" y="247.0" width="12.0" height="12.7" fill="#fed281"/>
<rect x="882.4" y="247.0" width="12.0" height="12.7" fill="#fb9656"/>
<rect x="893.8" y="247.0" width="12.0" height="12.7" fill="#d0ebf8"/>
<rect x="905.2" y="247.0" width="12.0" height="12.7" fill="#94c8de"/>
<rect x="916.6" y="247.0" width="46.2" height="12.7" fill="#3c61aa"/>
<rect x="962.2" y="247.0" width="12.0" height="12.7" fill="#f7814a"/>
<rect x="973.6" y="247.0" width="23.4" height="12.7" fill="#cc2127"/>
<rect x="996.4" y="247.0" width="12.0" height="12.7" fill="#e84c35"/>
<rect x="1007.8" y="247.0" width="23.4" height="12.7" fill="#cc2127"/>
<rect x="1030.6" y="247.0" width="12.0" height="12.7" fill="#a9d8e7"/>
<rect x="1042.0" y="247.0" width="12.0" height="12.7" fill="#598ec2"/>
<rect x="1053.4" y="247.0" width="12.0" height="12.7" fill="#3c61aa"/>
<rect x="1064.8" y="247.0" width="12.0" height="12.7" fill="#598ec2"/>
<rect x="1076.2" y="247.0" width="23.4" height="12.7" fill="#a9d8e7"/>
<rect x="1099.0" y="247.0" width="23.4" height="12.7" fill="#fed281"/>
<rect x="1121.8" y="247.0" width="12.0" height="12.7" fill="#a9d8e7"/>
<rect x="1133.2" y="247.0" width="12.0" height="12.7" fill="#d0ebf8"/>
<rect x="1144.6" y="247.0" width="12.0" height="12.7" fill="#e84c35"/>
<rect x="1156.0" y="247.0" width="23.4" height="12.7" fill="#e2f4f2"/>
<rect x="1178.8" y="247.0" width="12.0" height="12.7" fill="#d0ebf8"/>
<rect x="1190.2" y="247.0" width="12.0" height="12.7" fill="#94c8de"/>
<rect x="1201.6" y="247.0" width="12.0" height="12.7" fill="#fee391"/>
<rect x="1213.0" y="247.0" width="12.0" height="12.7" fill="#f7814a"/>
<rect x="1224.4" y="247.0" width="12.0" height="12.7" fill="#fed281"/>
<rect x="1235.8" y="247.0" width="12.0" height="12.7" fill="#d0ebf8"/>
<rect x="1247.2" y="247.0" width="46.2" height="12.7" fill="#fed281"/>
<rect x="1292.8" y="247.0" width="34.8" height="12.7" fill="#e2f4f2"/>
<rect x="779.8" y="259.1" width="23.4" height="12.7" fill="#fcab60"/>
<rect x="802.6" y="259.1" width="23.4" height="12.7" fill="#e2f4f2"/>
<rect x="825.4" y="259.1" width="12.0" height="12.7" fill="#fee391"/>
<rect x="836.8" y="259.1" width="12.0" height="12.7" fill="#fb9656"/>
<rect x="848.2" y="259.1" width="12.0" height="12.7" fill="#f16641"/>
<rect x="859.6" y="259.1" width="12.0" height="12.7" fill="#fb9656"/>
<rect x="871.0" y="259.1" width="12.0" height="12.7" fill="#e84c35"/>
<rect x="882.4" y="259.1" width="12.0" height="12.7" fill="#f7814a"/>
<rect x="893.8" y="259.1" width="12.0" height="12.7" fill="#bde2f1"/>
<rect x="905.2" y="259.1" width="12.0" height="12.7" fill="#6ca4cd"/>
<rect x="916.6" y="259.1" width="12.0" height="12.7" fill="#a9d8e7"/>
<rect x="928.0" y="259.1" width="23.4" height="12.7" fill="#3c61aa"/>
<rect x="950.8" y="259.1" width="12.0" height="12.7" fill="#598ec2"/>
<rect x="962.2" y="259.1" width="57.6" height="12.7" fill="#cc2127"/>
<rect x="1019.2" y="259.1" width="12.0" height="12.7" fill="#db3529"/>
<rect x="1030.6" y="259.1" width="12.0" height="12.7" fill="#6ca4cd"/>
<rect x="1042.0" y="259.1" width="12.0" height="12.7" fill="#3c61aa"/>
<rect x="1053.4" y="259.1" width="12.0" height="12.7" fill="#81b8d7"/>
<rect x="1064.8" y="259.1" width="12.0" height="12.7" fill="#fee391"/>
<rect x="1076.2" y="259.1" width="12.0" height="12.7" fill="#fcab60"/>
<rect x="1087.6" y="259.1" width="12.0" height="12.7" fill="#fed281"/>
<rect x="1099.0" y="259.1" width="12.0" height="12.7" fill="#fee391"/>
<rect x="1110.4" y="259.1" width="12.0" height="12.7" fill="#e2f4f2"/>
<rect x="1121.8" y="259.1" width="12.0" height="12.7" fill="#94c8de"/>
<rect x="1133.2" y="259.1" width="12.0" height="12.7" fill="#bde2f1"/>
<rect x="1144.6" y="259.1" width="12.0" height="12.7" fill="#fcab60"/>
<rect x="1156.0" y="259.1" width="23.4" height="12.7" fill="#fee391"/>
<rect x="1178.8" y="259.1" width="12.0" height="12.7" fill="#bde2f1"/>
<rect x="1190.2" y="259.1" width="12.0" height="12.7" fill="#a9d8e7"/>
<rect x="1201.6" y="259.1" width="12.0" height="12.7" fill="#fdbe72"/>
<rect x="1213.0" y="259.1" width="34.8" height="12.7" fill="#fed281"/>
<rect x="1247.2" y="259.1" width="12.0" height="12.7" fill="#fcab60"/>
<rect x="1258.6" y="259.1" width="12.0" height="12.7" fill="#fdbe72"/>
<rect x="1270.0" y="259.1" width="23.4" height="12.7" fill="#fed281"/>
<rect x="1292.8" y="259.1" width="12.0" height="12.7" fill="#d0ebf8"/>
<rect x="1304.2" y="259.1" width="23.4" height="12.7" fill="#e2f4f2"/>
<rect x="802.6" y="271.2" width="23.4" height="12.7" fill="#e2f4f2"/>
<rect x="825.4" y="271.2" width="12.0" height="12.7" fill="#fed281"/>
<rect x="836.8" y="271.2" width="12.0" height="12.7" fill="#fb9656"/>
<rect x="848.2" y="271.2" width="23.4" height="12.7" fill="#cc2127"/>
<rect x="871.0" y="271.2" width="12.0" height="12.7" fill="#f7814a"/>
<rect x="882.4" y="271.2" width="12.0" height="12.7" fill="#fb9656"/>
<rect x="893.8" y="271.2" width="12.0" height="12.7" fill="#d0ebf8"/>
<rect x="905.2" y="271.2" width="12.0" height="12.7" fill="#81b8d7"/>
<rect x="916.6" y="271.2" width="12.0" height="12.7" fill="#e2f4f2"/>
<rect x="928.0" y="271.2" width="12.0" height="12.7" fill="#fcab60"/>
<rect x="939.4" y="271.2" width="12.0" height="12.7" fill="#fee391"/>
<rect x="950.8" y="271.2" width="12.0" height="12.7" fill="#e2f4f2"/>
<rect x="962.2" y="271.2" width="12.0" height="12.7" fill="#fcab60"/>
<rect x="973.6" y="271.2" width="46.2" height="12.7" fill="#cc2127"/>
<rect x="1019.2" y="271.2" width="12.0" height="12.7" fill="#fdbe72"/>
<rect x="1030.6" y="271.2" width="12.0" height="12.7" fill="#81b8d7"/>
<rect x="1042.0" y="271.2" width="23.4" height="12.7" fill="#fcab60"/>
<rect x="1064.8" y="271.2" width="23.4" height="12.7" fill="#cc2127"/>
<rect x="1087.6" y="271.2" width="23.4" height="12.7" fill="#fcab60"/>
<rect x="1110.4" y="271.2" width="12.0" height="12.7" fill="#fb9656"/>
<rect x="1121.8" y="271.2" width="23.4" height="12.7" fill="#e2f4f2"/>
<rect x="1144.6" y="271.2" width="12.0" height="12.7" fill="#fdbe72"/>
<rect x="1156.0" y="271.2" width="12.0" height="12.7" fill="#fb9656"/>
<rect x="1167.4" y="271.2" width="12.0" height="12.7" fill="#fcab60"/>
<rect x="1178.8" y="271.2" width="23.4" height="12.7" fill="#fed281"/>
<rect x="1201.6" y="271.2" width="12.0" height="12.7" fill="#fee391"/>
<rect x="1213.0" y="271.2" width="12.0" height="12.7" fill="#d0ebf8"/>
<rect x="1224.4" y="271.2" width="12.0" height="12.7" fill="#fdbe72"/>
<rect x="1235.8" y="271.2" width="12.0" height="12.7" fill="#fed281"/>
<rect x="1247.2" y="271.2" width="23.4" height="12.7" fill="#fcab60"/>
<rect x="1270.0" y="271.2" width="12.0" height="12.7" fill="#fdbe72"/>
<rect x="1281.4" y="271.2" width="23.4" height="12.7" fill="#fed281"/>
<rect x="1304.2" y="271.2" width="23.4" height="12.7" fill="#d0ebf8"/>
<rect x="802.6" y="283.3" width="12.0" height="12.7" fill="#e2f4f2"/>
<rect x="814.0" y="283.3" width="23.4" height="12.7" fill="#fcab60"/>
<rect x="836.8" y="283.3" width="12.0" height="12.7" fill="#f16641"/>
<rect x="848.2" y="283.3" width="34.8" height="12.7" fill="#cc2127"/>
<rect x="882.4" y="283.3" width="12.0" height="12.7" fill="#e84c35"/>
<rect x="893.8" y="283.3" width="12.0" height="12.7" fill="#fdbe72"/>
<rect x="905.2" y="283.3" width="12.0" height="12.7" fill="#d0ebf8"/>
<rect x="916.6" y="283.3" width="12.0" height="12.7" fill="#fdbe72"/>
<rect x="928.0" y="283.3" width="12.0" height="12.7" fill="#fcab60"/>
<rect x="939.4" y="283.3" width="12.0" height="12.7" fill="#e2f4f2"/>
<rect x="950.8" y="283.3" width="12.0" height="12.7" fill="#bde2f1"/>
<rect x="962.2" y="283.3" width="12.0" height="12.7" fill="#fee391"/>
<rect x="973.6" y="283.3" width="69.0" height="12.7" fill="#cc2127"/>
<rect x="1042.0" y="283.3" width="12.0" height="12.7" fill="#e84c35"/>
<rect x="1053.4" y="283.3" width="12.0" height="12.7" fill="#db3529"/>
<rect x="1064.8" y="283.3" width="23.4" height="12.7" fill="#cc2127"/>
<rect x="1087.6" y="283.3" width="12.0" height="12.7" fill="#f16641"/>
<rect x="1099.0" y="283.3" width="12.0" height="12.7" fill="#f7814a"/>
<rect x="1110.4" y="283.3" width="12.0" height="12.7" fill="#cc2127"/>
<rect x="1121.8" y="283.3" width="12.0" height="12.7" fill="#e84c35"/>
<rect x="1133.2" y="283.3" width="23.4" height="12.7" fill="#fdbe72"/>
<rect x="1156.0" y="283.3" width="12.0" height="12.7" fill="#e84c35"/>
<rect x="1167.4" y="283.3" width="12.0" height="12.7" fill="#fdbe72"/>
<rect x="1178.8" y="283.3" width="12.0" height="12.7" fill="#fed281"/>
<rect x="1190.2" y="283.3" width="12.0" height="12.7" fill="#fee391"/>
<rect x="1201.6" y="283.3" width="12.0" height="12.7" fill="#a9d8e7"/>
<rect x="1213.0" y="283.3" width="12.0" height="12.7" fill="#fed281"/>
<rect x="1224.4" y="283.3" width="23.4" height="12.7" fill="#fcab60"/>
<rect x="1247.2" y="283.3" width="12.0" height="12.7" fill="#fdbe72"/>
<rect x="1258.6" y="283.3" width="34.8" height="12.7" fill="#fcab60"/>
<rect x="1292.8" y="283.3" width="34.8" height="12.7" fill="#fee391"/>
<rect x="814.0" y="295.4" width="34.8" height="12.7" fill="#fb9656"/>
<rect x="848.2" y="295.4" width="12.0" height="12.7" fill="#fed281"/>
<rect x="859.6" y="295.4" width="12.0" height="12.7" fill="#e84c35"/>
<rect x="871.0" y="295.4" width="23.4" height="12.7" fill="#cc2127"/>
<rect x="893.8" y="295.4" width="12.0" height="12.7" fill="#fb9656"/>
<rect x="905.2" y="295.4" width="12.0" height="12.7" fill="#d0ebf8"/>
<rect x="916.6" y="295.4" width="34.8" height="12.7" fill="#fed281"/>
<rect x="950.8" y="295.4" width="12.0" height="12.7" fill="#e2f4f2"/>
<rect x="962.2" y="295.4" width="12.0" height="12.7" fill="#fed281"/>
<rect x="973.6" y="295.4" width="12.0" height="12.7" fill="#fdbe72"/>
<rect x="985.0" y="295.4" width="103.2" height="12.7" fill="#cc2127"/>
<rect x="1087.6" y="295.4" width="12.0" height="12.7" fill="#e84c35"/>
<rect x="1099.0" y="295.4" width="12.0" height="12.7" fill="#cc2127"/>
<rect x="1110.4" y="295.4" width="12.0" height="12.7" fill="#f16641"/>
<rect x="1121.8" y="295.4" width="12.0" height="12.7" fill="#fdbe72"/>
<rect x="1133.2" y="295.4" width="23.4" height="12.7" fill="#fb9656"/>
<rect x="1156.0" y="295.4" width="12.0" height="12.7" fill="#f7814a"/>
<rect x="1167.4" y="295.4" width="12.0" height="12.7" fill="#fb9656"/>
<rect x="1178.8" y="295.4" width="12.0" height="12.7" fill="#fcab60"/>
<rect x="1190.2" y="295.4" width="12.0" height="12.7" fill="#fdbe72"/>
<rect x="1201.6" y="295.4" width="23.4" height="12.7" fill="#fed281"/>
<rect x="1224.4" y="295.4" width="12.0" height="12.7" fill="#fee391"/>
<rect x="1235.8" y="295.4" width="12.0" height="12.7" fill="#fb9656"/>
<rect x="1247.2" y="295.4" width="12.0" height="12.7" fill="#fcab60"/>
<rect x="1258.6" y="295.4" width="12.0" height="12.7" fill="#fee391"/>
<rect x="1270.0" y="295.4" width="12.0" height="12.7" fill="#fcab60"/>
<rect x="1281.4" y="295.4" width="12.0" height="12.7" fill="#db3529"/>
<rect x="1292.8" y="295.4" width="23.4" height="12.7" fill="#fb9656"/>
<rect x="1315.6" y="295.4" width="12.0" height="12.7" fill="#fee391"/>
<rect x="814.0" y="307.5" width="12.0" height="12.7" fill="#fb9656"/>
<rect x="825.4" y="307.5" width="23.4" height="12.7" fill="#fee391"/>
<rect x="848.2" y="307.5" width="12.0" height="12.7" fill="#fdbe72"/>
<rect x="859.6" y="307.5" width="12.0" height="12.7" fill="#fb9656"/>
<rect x="871.0" y="307.5" width="23.4" height="12.7" fill="#cc2127"/>
<rect x="893.8" y="307.5" width="12.0" height="12.7" fill="#fdbe72"/>
<rect x="905.2" y="307.5" width="12.0" height="12.7" fill="#81b8d7"/>
<rect x="916.6" y="307.5" width="12.0" height="12.7" fill="#a9d8e7"/>
<rect x="928.0" y="307.5" width="23.4" height="12.7" fill="#e2f4f2"/>
<rect x="950.8" y="307.5" width="12.0" height="12.7" fill="#fed281"/>
<rect x="962.2" y="307.5" width="12.0" height="12.7" fill="#fcab60"/>
<rect x="973.6" y="307.5" width="23.4" height="12.7" fill="#f7814a"/>
<rect x="996.4" y="307.5" width="12.0" height="12.7" fill="#e2f4f2"/>
<rect x="1007.8" y="307.5" width="12.0" height="12.7" fill="#fb9656"/>
<rect x="1019.2" y="307.5" width="12.0" height="12.7" fill="#cc2127"/>
<rect x="1030.6" y="307.5" width="12.0" height="12.7" fill="#e84c35"/>
<rect x="1042.0" y="307.5" width="46.2" height="12.7" fill="#cc2127"/>
<rect x="1087.6" y="307.5" width="12.0" height="12.7" fill="#e84c35"/>
<rect x="1099.0" y="307.5" width="12.0" height="12.7" fill="#db3529"/>
<rect x="1110.4" y="307.5" width="12.0" height="12.7" fill="#cc2127"/>
<rect x="1121.8" y="307.5" width="23.4" height="12.7" fill="#fee391"/>
<rect x="1144.6" y="307.5" width="34.8" height="12.7" fill="#cc2127"/>
<rect x="1178.8" y="307.5" width="12.0" height="12.7" fill="#f16641"/>
<rect x="1190.2" y="307.5" width="12.0" height="12.7" fill="#fb9656"/>
<rect x="1201.6" y="307.5" width="12.0" height="12.7" fill="#fcab60"/>
<rect x="1213.0" y="307.5" width="12.0" height="12.7" fill="#fdbe72"/>
<rect x="1224.4" y="307.5" width="12.0" height="12.7" fill="#fed281"/>
<rect x="1235.8" y="307.5" width="12.0" height="12.7" fill="#fcab60"/>
<rect x="1247.2" y="307.5" width="12.0" height="12.7" fill="#fdbe72"/>
<rect x="1258.6" y="307.5" width="12.0" height="12.7" fill="#fed281"/>
<rect x="1270.0" y="307.5" width="12.0" height="12.7" fill="#f7814a"/>
<rect x="1281.4" y="307.5" width="23.4" height="12.7" fill="#db3529"/>
<rect x="1304.2" y="307.5" width="12.0" height="12.7" fill="#fb9656"/>
<rect x="825.4" y="319.6" width="23.4" height="12.7" fill="#fed281"/>
<rect x="848.2" y="319.6" width="46.2" height="12.7" fill="#d0ebf8"/>
<rect x="893.8" y="319.6" width="12.0" height="12.7" fill="#bde2f1"/>
<rect x="905.2" y="319.6" width="12.0" height="12.7" fill="#6ca4cd"/>
<rect x="916.6" y="319.6" width="12.0" height="12.7" fill="#598ec2"/>
<rect x="928.0" y="319.6" width="12.0" height="12.7" fill="#fcab60"/>
<rect x="939.4" y="319.6" width="12.0" height="12.7" fill="#fb9656"/>
<rect x="950.8" y="319.6" width="23.4" height="12.7" fill="#fdbe72"/>
<rect x="973.6" y="319.6" width="12.0" height="12.7" fill="#f7814a"/>
<rect x="985.0" y="319.6" width="12.0" height="12.7" fill="#cc2127"/>
<rect x="996.4" y="319.6" width="12.0" height="12.7" fill="#e2f4f2"/>
<rect x="1007.8" y="319.6" width="12.0" height="12.7" fill="#a9d8e7"/>
<rect x="1019.2" y="319.6" width="46.2" height="12.7" fill="#cc2127"/>
<rect x="1064.8" y="319.6" width="12.0" height="12.7" fill="#fb9656"/>
<rect x="1076.2" y="319.6" width="12.0" height="12.7" fill="#fcab60"/>
<rect x="1087.6" y="319.6" width="12.0" height="12.7" fill="#fdbe72"/>
<rect x="1099.0" y="319.6" width="12.0" height="12.7" fill="#f7814a"/>
<rect x="1110.4" y="319.6" width="12.0" height="12.7" fill="#fdbe72"/>
<rect x="1121.8" y="319.6" width="12.0" height="12.7" fill="#e2f4f2"/>
<rect x="1133.2" y="319.6" width="12.0" height="12.7" fill="#fcab60"/>
<rect x="1144.6" y="319.6" width="34.8" height="12.7" fill="#cc2127"/>
<rect x="1178.8" y="319.6" width="12.0" height="12.7" fill="#db3529"/>
<rect x="1190.2" y="319.6" width="12.0" height="12.7" fill="#f16641"/>
<rect x="1201.6" y="319.6" width="12.0" height="12.7" fill="#f7814a"/>
<rect x="1213.0" y="319.6" width="12.0" height="12.7" fill="#fdbe72"/>
<rect x="1224.4" y="319.6" width="12.0" height="12.7" fill="#fcab60"/>
<rect x="1235.8" y="319.6" width="12.0" height="12.7" fill="#fdbe72"/>
<rect x="1247.2" y="319.6" width="23.4" height="12.7" fill="#f7814a"/>
<rect x="1270.0" y="319.6" width="12.0" height="12.7" fill="#fdbe72"/>
<rect x="1281.4" y="319.6" width="23.4" height="12.7" fill="#f7814a"/>
<rect x="825.4" y="331.7" width="12.0" height="12.7" fill="#fed281"/>
<rect x="836.8" y="331.7" width="34.8" height="12.7" fill="#d0ebf8"/>
<rect x="871.0" y="331.7" width="12.0" height="12.7" fill="#a9d8e7"/>
<rect x="882.4" y="331.7" width="23.4" height="12.7" fill="#d0ebf8"/>
<rect x="905.2" y="331.7" width="12.0" height="12.7" fill="#94c8de"/>
<rect x="916.6" y="331.7" width="12.0" height="12.7" fill="#4677b3"/>
<rect x="928.0" y="331.7" width="12.0" height="12.7" fill="#bde2f1"/>
<rect x="939.4" y="331.7" width="23.4" height="12.7" fill="#fcab60"/>
<rect x="962.2" y="331.7" width="23.4" height="12.7" fill="#fed281"/>
<rect x="985.0" y="331.7" width="12.0" height="12.7" fill="#e84c35"/>
<rect x="996.4" y="331.7" width="12.0" height="12.7" fill="#fcab60"/>
<rect x="1007.8" y="331.7" width="12.0" height="12.7" fill="#bde2f1"/>
<rect x="1019.2" y="331.7" width="23.4" height="12.7" fill="#cc2127"/>
<rect x="1042.0" y="331.7" width="12.0" height="12.7" fill="#db3529"/>
<rect x="1053.4" y="331.7" width="12.0" height="12.7" fill="#e84c35"/>
<rect x="1064.8" y="331.7" width="12.0" height="12.7" fill="#bde2f1"/>
<rect x="1076.2" y="331.7" width="12.0" height="12.7" fill="#d0ebf8"/>
<rect x="1087.6" y="331.7" width="12.0" height="12.7" fill="#fcab60"/>
<rect x="1099.0" y="331.7" width="12.0" height="12.7" fill="#fb9656"/>
<rect x="1110.4" y="331.7" width="12.0" height="12.7" fill="#fdbe72"/>
<rect x="1121.8" y="331.7" width="12.0" height="12.7" fill="#e2f4f2"/>
<rect x="1133.2" y="331.7" width="12.0" height="12.7" fill="#fdbe72"/>
<rect x="1144.6" y="331.7" width="12.0" height="12.7" fill="#fed281"/>
<rect x="1156.0" y="331.7" width="34.8" height="12.7" fill="#cc2127"/>
<rect x="1190.2" y="331.7" width="12.0" height="12.7" fill="#db3529"/>
<rect x="1201.6" y="331.7" width="12.0" height="12.7" fill="#f16641"/>
<rect x="1213.0" y="331.7" width="12.0" height="12.7" fill="#fcab60"/>
<rect x="1224.4" y="331.7" width="69.0" height="12.7" fill="#fb9656"/>
<rect x="1292.8" y="331.7" width="12.0" height="12.7" fill="#f7814a"/>
<rect x="836.8" y="343.8" width="23.4" height="12.7" fill="#e2f4f2"/>
<rect x="859.6" y="343.8" width="12.0" height="12.7" fill="#fed281"/>
<rect x="871.0" y="343.8" width="12.0" height="12.7" fill="#e2f4f2"/>
<rect x="882.4" y="343.8" width="12.0" height="12.7" fill="#fcab60"/>
<rect x="893.8" y="343.8" width="12.0" height="12.7" fill="#fdbe72"/>
<rect x="905.2" y="343.8" width="12.0" height="12.7" fill="#fed281"/>
<rect x="916.6" y="343.8" width="23.4" height="12.7" fill="#fdbe72"/>
<rect x="939.4" y="343.8" width="12.0" height="12.7" fill="#d0ebf8"/>
<rect x="950.8" y="343.8" width="12.0" height="12.7" fill="#f7814a"/>
<rect x="962.2" y="343.8" width="12.0" height="12.7" fill="#fb9656"/>
<rect x="973.6" y="343.8" width="12.0" height="12.7" fill="#fed281"/>
<rect x="985.0" y="343.8" width="12.0" height="12.7" fill="#f16641"/>
<rect x="996.4" y="343.8" width="12.0" height="12.7" fill="#e84c35"/>
<rect x="1007.8" y="343.8" width="34.8" height="12.7" fill="#cc2127"/>
<rect x="1042.0" y="343.8" width="12.0" height="12.7" fill="#db3529"/>
<rect x="1053.4" y="343.8" width="12.0" height="12.7" fill="#f7814a"/>
<rect x="1064.8" y="343.8" width="12.0" height="12.7" fill="#fdbe72"/>
<rect x="1076.2" y="343.8" width="23.4" height="12.7" fill="#d0ebf8"/>
<rect x="1099.0" y="343.8" width="12.0" height="12.7" fill="#fb9656"/>
<rect x="1110.4" y="343.8" width="12.0" height="12.7" fill="#db3529"/>
<rect x="1121.8" y="343.8" width="23.4" height="12.7" fill="#fb9656"/>
<rect x="1144.6" y="343.8" width="12.0" height="12.7" fill="#f7814a"/>
<rect x="1156.0" y="343.8" width="34.8" height="12.7" fill="#e84c35"/>
<rect x="1190.2" y="343.8" width="23.4" height="12.7" fill="#db3529"/>
<rect x="1213.0" y="343.8" width="12.0" height="12.7" fill="#fb9656"/>
<rect x="1224.4" y="343.8" width="12.0" height="12.7" fill="#fcab60"/>
<rect x="1235.8" y="343.8" width="57.6" height="12.7" fill="#fb9656"/>
<rect x="836.8" y="355.9" width="34.8" height="12.7" fill="#e2f4f2"/>
<rect x="871.0" y="355.9" width="34.8" height="12.7" fill="#fed281"/>
<rect x="905.2" y="355.9" width="12.0" height="12.7" fill="#e2f4f2"/>
<rect x="916.6" y="355.9" width="23.4" height="12.7" fill="#fed281"/>
<rect x="939.4" y="355.9" width="12.0" height="12.7" fill="#d0ebf8"/>
<rect x="950.8" y="355.9" width="12.0" height="12.7" fill="#fdbe72"/>
<rect x="962.2" y="355.9" width="12.0" height="12.7" fill="#fb9656"/>
<rect x="973.6" y="355.9" width="12.0" height="12.7" fill="#fee391"/>
<rect x="985.0" y="355.9" width="12.0" height="12.7" fill="#f7814a"/>
<rect x="996.4" y="355.9" width="12.0" height="12.7" fill="#db3529"/>
<rect x="1007.8" y="355.9" width="34.8" height="12.7" fill="#cc2127"/>
<rect x="1042.0" y="355.9" width="12.0" height="12.7" fill="#db3529"/>
<rect x="1053.4" y="355.9" width="12.0" height="12.7" fill="#fcab60"/>
<rect x="1064.8" y="355.9" width="12.0" height="12.7" fill="#e2f4f2"/>
<rect x="1076.2" y="355.9" width="12.0" height="12.7" fill="#fed281"/>
<rect x="1087.6" y="355.9" width="12.0" height="12.7" fill="#d0ebf8"/>
<rect x="1099.0" y="355.9" width="12.0" height="12.7" fill="#fed281"/>
<rect x="1110.4" y="355.9" width="12.0" height="12.7" fill="#f7814a"/>
<rect x="1121.8" y="355.9" width="12.0" height="12.7" fill="#fcab60"/>
<rect x="1133.2" y="355.9" width="12.0" height="12.7" fill="#e84c35"/>
<rect x="1144.6" y="355.9" width="12.0" height="12.7" fill="#db3529"/>
<rect x="1156.0" y="355.9" width="23.4" height="12.7" fill="#e84c35"/>
<rect x="1178.8" y="355.9" width="12.0" height="12.7" fill="#f16641"/>
<rect x="1190.2" y="355.9" width="12.0" height="12.7" fill="#fcab60"/>
<rect x="1201.6" y="355.9" width="12.0" height="12.7" fill="#db3529"/>
<rect x="1213.0" y="355.9" width="34.8" height="12.7" fill="#fb9656"/>
<rect x="1247.2" y="355.9" width="12.0" height="12.7" fill="#f7814a"/>
<rect x="1258.6" y="355.9" width="23.4" height="12.7" fill="#fdbe72"/>
<rect x="848.2" y="368.0" width="12.0" height="12.7" fill="#e2f4f2"/>
<rect x="859.6" y="368.0" width="34.8" height="12.7" fill="#fee391"/>
<rect x="893.8" y="368.0" width="34.8" height="12.7" fill="#e2f4f2"/>
<rect x="928.0" y="368.0" width="12.0" height="12.7" fill="#fed281"/>
<rect x="939.4" y="368.0" width="23.4" height="12.7" fill="#d0ebf8"/>
<rect x="962.2" y="368.0" width="12.0" height="12.7" fill="#bde2f1"/>
<rect x="973.6" y="368.0" width="12.0" height="12.7" fill="#94c8de"/>
<rect x="985.0" y="368.0" width="12.0" height="12.7" fill="#fed281"/>
<rect x="996.4" y="368.0" width="12.0" height="12.7" fill="#db3529"/>
<rect x="1007.8" y="368.0" width="34.8" height="12.7" fill="#cc2127"/>
<rect x="1042.0" y="368.0" width="12.0" height="12.7" fill="#db3529"/>
<rect x="1053.4" y="368.0" width="12.0" height="12.7" fill="#fed281"/>
<rect x="1064.8" y="368.0" width="23.4" height="12.7" fill="#fcab60"/>
<rect x="1087.6" y="368.0" width="12.0" height="12.7" fill="#fed281"/>
<rect x="1099.0" y="368.0" width="12.0" height="12.7" fill="#fdbe72"/>
<rect x="1110.4" y="368.0" width="23.4" height="12.7" fill="#fb9656"/>
<rect x="1133.2" y="368.0" width="12.0" height="12.7" fill="#e84c35"/>
<rect x="1144.6" y="368.0" width="23.4" height="12.7" fill="#f16641"/>
<rect x="1167.4" y="368.0" width="23.4" height="12.7" fill="#db3529"/>
<rect x="1190.2" y="368.0" width="12.0" height="12.7" fill="#f7814a"/>
<rect x="1201.6" y="368.0" width="23.4" height="12.7" fill="#e84c35"/>
<rect x="1224.4" y="368.0" width="12.0" height="12.7" fill="#f16641"/>
<rect x="1235.8" y="368.0" width="23.4" height="12.7" fill="#fb9656"/>
<rect x="1258.6" y="368.0" width="23.4" height="12.7" fill="#fcab60"/>
<rect x="859.6" y="380.1" width="23.4" height="12.7" fill="#fee391"/>
<rect x="882.4" y="380.1" width="23.4" height="12.7" fill="#d0ebf8"/>
<rect x="905.2" y="380.1" width="23.4" height="12.7" fill="#e2f4f2"/>
<rect x="928.0" y="380.1" width="12.0" height="12.7" fill="#d0ebf8"/>
<rect x="939.4" y="380.1" width="23.4" height="12.7" fill="#bde2f1"/>
<rect x="962.2" y="380.1" width="12.0" height="12.7" fill="#d0ebf8"/>
<rect x="973.6" y="380.1" width="12.0" height="12.7" fill="#bde2f1"/>
<rect x="985.0" y="380.1" width="12.0" height="12.7" fill="#fed281"/>
<rect x="996.4" y="380.1" width="12.0" height="12.7" fill="#f16641"/>
<rect x="1007.8" y="380.1" width="12.0" height="12.7" fill="#cc2127"/>
<rect x="1019.2" y="380.1" width="12.0" height="12.7" fill="#e84c35"/>
<rect x="1030.6" y="380.1" width="12.0" height="12.7" fill="#f16641"/>
<rect x="1042.0" y="380.1" width="12.0" height="12.7" fill="#fb9656"/>
<rect x="1053.4" y="380.1" width="12.0" height="12.7" fill="#f16641"/>
<rect x="1064.8" y="380.1" width="23.4" height="12.7" fill="#e84c35"/>
<rect x="1087.6" y="380.1" width="12.0" height="12.7" fill="#fb9656"/>
<rect x="1099.0" y="380.1" width="12.0" height="12.7" fill="#e2f4f2"/>
<rect x="1110.4" y="380.1" width="12.0" height="12.7" fill="#fdbe72"/>
<rect x="1121.8" y="380.1" width="12.0" height="12.7" fill="#fcab60"/>
<rect x="1133.2" y="380.1" width="57.6" height="12.7" fill="#f7814a"/>
<rect x="1190.2" y="380.1" width="12.0" height="12.7" fill="#db3529"/>
<rect x="1201.6" y="380.1" width="12.0" height="12.7" fill="#e84c35"/>
<rect x="1213.0" y="380.1" width="23.4" height="12.7" fill="#f16641"/>
<rect x="1235.8" y="380.1" width="12.0" height="12.7" fill="#f7814a"/>
<rect x="1247.2" y="380.1" width="12.0" height="12.7" fill="#f16641"/>
<rect x="1258.6" y="380.1" width="23.4" height="12.7" fill="#fb9656"/>
<rect x="882.4" y="392.2" width="12.0" height="12.7" fill="#d0ebf8"/>
<rect x="893.8" y="392.2" width="34.8" height="12.7" fill="#e2f4f2"/>
<rect x="928.0" y="392.2" width="23.4" height="12.7" fill="#d0ebf8"/>
<rect x="950.8" y="392.2" width="12.0" height="12.7" fill="#bde2f1"/>
<rect x="962.2" y="392.2" width="12.0" height="12.7" fill="#e2f4f2"/>
<rect x="973.6" y="392.2" width="12.0" height="12.7" fill="#fdbe72"/>
<rect x="985.0" y="392.2" width="12.0" height="12.7" fill="#e2f4f2"/>
<rect x="996.4" y="392.2" width="12.0" height="12.7" fill="#fdbe72"/>
<rect x="1007.8" y="392.2" width="12.0" height="12.7" fill="#f16641"/>
<rect x="1019.2" y="392.2" width="12.0" height="12.7" fill="#fb9656"/>
<rect x="1030.6" y="392.2" width="23.4" height="12.7" fill="#fcab60"/>
<rect x="1053.4" y="392.2" width="12.0" height="12.7" fill="#e84c35"/>
<rect x="1064.8" y="392.2" width="23.4" height="12.7" fill="#cc2127"/>
<rect x="1087.6" y="392.2" width="12.0" height="12.7" fill="#fee391"/>
<rect x="1099.0" y="392.2" width="12.0" height="12.7" fill="#e2f4f2"/>
<rect x="1110.4" y="392.2" width="12.0" height="12.7" fill="#fdbe72"/>
<rect x="1121.8" y="392.2" width="12.0" height="12.7" fill="#f7814a"/>
<rect x="1133.2" y="392.2" width="12.0" height="12.7" fill="#fb9656"/>
<rect x="1144.6" y="392.2" width="23.4" height="12.7" fill="#fcab60"/>
<rect x="1167.4" y="392.2" width="12.0" height="12.7" fill="#fb9656"/>
<rect x="1178.8" y="392.2" width="12.0" height="12.7" fill="#f7814a"/>
<rect x="1190.2" y="392.2" width="23.4" height="12.7" fill="#e84c35"/>
<rect x="1213.0" y="392.2" width="12.0" height="12.7" fill="#f7814a"/>
<rect x="1224.4" y="392.2" width="34.8" height="12.7" fill="#f16641"/>
<rect x="1258.6" y="392.2" width="23.4" height="12.7" fill="#fcab60"/>
<rect x="893.8" y="404.3" width="46.2" height="12.7" fill="#e2f4f2"/>
<rect x="939.4" y="404.3" width="12.0" height="12.7" fill="#d0ebf8"/>
<rect x="950.8" y="404.3" width="23.4" height="12.7" fill="#e2f4f2"/>
<rect x="973.6" y="404.3" width="12.0" height="12.7" fill="#fed281"/>
<rect x="985.0" y="404.3" width="12.0" height="12.7" fill="#e2f4f2"/>
<rect x="996.4" y="404.3" width="12.0" height="12.7" fill="#fcab60"/>
<rect x="1007.8" y="404.3" width="12.0" height="12.7" fill="#fb9656"/>
<rect x="1019.2" y="404.3" width="23.4" height="12.7" fill="#fed281"/>
<rect x="1042.0" y="404.3" width="12.0" height="12.7" fill="#fdbe72"/>
<rect x="1053.4" y="404.3" width="23.4" height="12.7" fill="#fcab60"/>
<rect x="1076.2" y="404.3" width="12.0" height="12.7" fill="#fdbe72"/>
<rect x="1087.6" y="404.3" width="23.4" height="12.7" fill="#fee391"/>
<rect x="1110.4" y="404.3" width="12.0" height="12.7" fill="#d0ebf8"/>
<rect x="1121.8" y="404.3" width="12.0" height="12.7" fill="#e84c35"/>
<rect x="1133.2" y="404.3" width="23.4" height="12.7" fill="#fcab60"/>
<rect x="1156.0" y="404.3" width="34.8" height="12.7" fill="#fed281"/>
<rect x="1190.2" y="404.3" width="12.0" height="12.7" fill="#fb9656"/>
<rect x="1201.6" y="404.3" width="12.0" height="12.7" fill="#f7814a"/>
<rect x="1213.0" y="404.3" width="12.0" height="12.7" fill="#f16641"/>
<rect x="1224.4" y="404.3" width="12.0" height="12.7" fill="#f7814a"/>
<rect x="1235.8" y="404.3" width="12.0" height="12.7" fill="#fb9656"/>
<rect x="1247.2" y="404.3" width="23.4" height="12.7" fill="#f7814a"/>
<rect x="1270.0" y="404.3" width="12.0" height="12.7" fill="#fcab60"/>
<rect x="893.8" y="416.4" width="57.6" height="12.7" fill="#e2f4f2"/>
<rect x="950.8" y="416.4" width="23.4" height="12.7" fill="#fee391"/>
<rect x="973.6" y="416.4" width="12.0" height="12.7" fill="#fdbe72"/>
<rect x="985.0" y="416.4" width="12.0" height="12.7" fill="#fed281"/>
<rect x="996.4" y="416.4" width="12.0" height="12.7" fill="#fb9656"/>
<rect x="1007.8" y="416.4" width="23.4" height="12.7" fill="#fed281"/>
<rect x="1030.6" y="416.4" width="12.0" height="12.7" fill="#fcab60"/>
<rect x="1042.0" y="416.4" width="12.0" height="12.7" fill="#fdbe72"/>
<rect x="1053.4" y="416.4" width="23.4" height="12.7" fill="#bde2f1"/>
<rect x="1076.2" y="416.4" width="12.0" height="12.7" fill="#d0ebf8"/>
<rect x="1087.6" y="416.4" width="12.0" height="12.7" fill="#e2f4f2"/>
<rect x="1099.0" y="416.4" width="12.0" height="12.7" fill="#fee391"/>
<rect x="1110.4" y="416.4" width="12.0" height="12.7" fill="#d0ebf8"/>
<rect x="1121.8" y="416.4" width="12.0" height="12.7" fill="#fdbe72"/>
<rect x="1133.2" y="416.4" width="23.4" height="12.7" fill="#fcab60"/>
<rect x="1156.0" y="416.4" width="34.8" height="12.7" fill="#fb9656"/>
<rect x="1190.2" y="416.4" width="34.8" height="12.7" fill="#f7814a"/>
<rect x="1224.4" y="416.4" width="12.0" height="12.7" fill="#fb9656"/>
<rect x="1235.8" y="416.4" width="12.0" height="12.7" fill="#fdbe72"/>
<rect x="1247.2" y="416.4" width="23.4" height="12.7" fill="#fed281"/>
<rect x="893.8" y="428.5" width="57.6" height="12.7" fill="#e2f4f2"/>
<rect x="950.8" y="428.5" width="23.4" height="12.7" fill="#fee391"/>
<rect x="973.6" y="428.5" width="12.0" height="12.7" fill="#fed281"/>
<rect x="985.0" y="428.5" width="12.0" height="12.7" fill="#fdbe72"/>
<rect x="996.4" y="428.5" width="12.0" height="12.7" fill="#fcab60"/>
<rect x="1007.8" y="428.5" width="12.0" height="12.7" fill="#fed281"/>
<rect x="1019.2" y="428.5" width="12.0" height="12.7" fill="#fdbe72"/>
<rect x="1030.6" y="428.5" width="12.0" height="12.7" fill="#e84c35"/>
<rect x="1042.0" y="428.5" width="12.0" height="12.7" fill="#fcab60"/>
<rect x="1053.4" y="428.5" width="12.0" height="12.7" fill="#81b8d7"/>
<rect x="1064.8" y="428.5" width="12.0" height="12.7" fill="#6ca4cd"/>
<rect x="1076.2" y="428.5" width="12.0" height="12.7" fill="#a9d8e7"/>
<rect x="1087.6" y="428.5" width="34.8" height="12.7" fill="#e2f4f2"/>
<rect x="1121.8" y="428.5" width="12.0" height="12.7" fill="#a9d8e7"/>
<rect x="1133.2" y="428.5" width="12.0" height="12.7" fill="#e2f4f2"/>
<rect x="1144.6" y="428.5" width="12.0" height="12.7" fill="#fcab60"/>
<rect x="1156.0" y="428.5" width="34.8" height="12.7" fill="#f7814a"/>
<rect x="1190.2" y="428.5" width="12.0" height="12.7" fill="#e84c35"/>
<rect x="1201.6" y="428.5" width="12.0" height="12.7" fill="#db3529"/>
<rect x="1213.0" y="428.5" width="12.0" height="12.7" fill="#f7814a"/>
<rect x="1224.4" y="428.5" width="12.0" height="12.7" fill="#fb9656"/>
<rect x="1235.8" y="428.5" width="23.4" height="12.7" fill="#fdbe72"/>
<rect x="1258.6" y="428.5" width="12.0" height="12.7" fill="#fed281"/>
<rect x="893.8" y="440.6" width="57.6" height="12.7" fill="#e2f4f2"/>
<rect x="950.8" y="440.6" width="23.4" height="12.7" fill="#fee391"/>
<rect x="973.6" y="440.6" width="12.0" height="12.7" fill="#fed281"/>
<rect x="985.0" y="440.6" width="12.0" height="12.7" fill="#fb9656"/>
<rect x="996.4" y="440.6" width="12.0" height="12.7" fill="#f16641"/>
<rect x="1007.8" y="440.6" width="23.4" height="12.7" fill="#fed281"/>
<rect x="1030.6" y="440.6" width="12.0" height="12.7" fill="#fcab60"/>
<rect x="1042.0" y="440.6" width="12.0" height="12.7" fill="#fdbe72"/>
<rect x="1053.4" y="440.6" width="23.4" height="12.7" fill="#6ca4cd"/>
<rect x="1076.2" y="440.6" width="12.0" height="12.7" fill="#a9d8e7"/>
<rect x="1087.6" y="440.6" width="23.4" height="12.7" fill="#d0ebf8"/>
<rect x="1110.4" y="440.6" width="12.0" height="12.7" fill="#6ca4cd"/>
<rect x="1121.8" y="440.6" width="12.0" height="12.7" fill="#3c61aa"/>
<rect x="1133.2" y="440.6" width="12.0" height="12.7" fill="#a9d8e7"/>
<rect x="1144.6" y="440.6" width="23.4" height="12.7" fill="#fcab60"/>
<rect x="1167.4" y="440.6" width="12.0" height="12.7" fill="#f7814a"/>
<rect x="1178.8" y="440.6" width="12.0" height="12.7" fill="#fb9656"/>
<rect x="1190.2" y="440.6" width="23.4" height="12.7" fill="#e84c35"/>
<rect x="1213.0" y="440.6" width="12.0" height="12.7" fill="#fcab60"/>
<rect x="1224.4" y="440.6" width="12.0" height="12.7" fill="#fb9656"/>
<rect x="1235.8" y="440.6" width="23.4" height="12.7" fill="#fdbe72"/>
<rect x="893.8" y="452.7" width="57.6" height="12.7" fill="#e2f4f2"/>
<rect x="950.8" y="452.7" width="12.0" height="12.7" fill="#fee391"/>
<rect x="962.2" y="452.7" width="12.0" height="12.7" fill="#fed281"/>
<rect x="973.6" y="452.7" width="23.4" height="12.7" fill="#fb9656"/>
<rect x="996.4" y="452.7" width="23.4" height="12.7" fill="#fed281"/>
<rect x="1019.2" y="452.7" width="12.0" height="12.7" fill="#fee391"/>
<rect x="1030.6" y="452.7" width="12.0" height="12.7" fill="#fdbe72"/>
<rect x="1042.0" y="452.7" width="12.0" height="12.7" fill="#fed281"/>
<rect x="1053.4" y="452.7" width="12.0" height="12.7" fill="#bde2f1"/>
<rect x="1064.8" y="452.7" width="12.0" height="12.7" fill="#a9d8e7"/>
<rect x="1076.2" y="452.7" width="12.0" height="12.7" fill="#d0ebf8"/>
<rect x="1087.6" y="452.7" width="12.0" height="12.7" fill="#bde2f1"/>
<rect x="1099.0" y="452.7" width="12.0" height="12.7" fill="#fed281"/>
<rect x="1110.4" y="452.7" width="12.0" height="12.7" fill="#a9d8e7"/>
<rect x="1121.8" y="452.7" width="12.0" height="12.7" fill="#3c61aa"/>
<rect x="1133.2" y="452.7" width="12.0" height="12.7" fill="#a9d8e7"/>
<rect x="1144.6" y="452.7" width="12.0" height="12.7" fill="#fcab60"/>
<rect x="1156.0" y="452.7" width="34.8" height="12.7" fill="#fed281"/>
<rect x="1190.2" y="452.7" width="12.0" height="12.7" fill="#fcab60"/>
<rect x="1201.6" y="452.7" width="23.4" height="12.7" fill="#db3529"/>
<rect x="1224.4" y="452.7" width="23.4" height="12.7" fill="#fcab60"/>
<rect x="1247.2" y="452.7" width="12.0" height="12.7" fill="#fdbe72"/>
<rect x="893.8" y="464.8" width="57.6" height="12.7" fill="#e2f4f2"/>
<rect x="950.8" y="464.8" width="12.0" height="12.7" fill="#fee391"/>
<rect x="962.2" y="464.8" width="34.8" height="12.7" fill="#fed281"/>
<rect x="996.4" y="464.8" width="23.4" height="12.7" fill="#fcab60"/>
<rect x="1019.2" y="464.8" width="12.0" height="12.7" fill="#fdbe72"/>
<rect x="1030.6" y="464.8" width="23.4" height="12.7" fill="#fed281"/>
<rect x="1053.4" y="464.8" width="12.0" height="12.7" fill="#bde2f1"/>
<rect x="1064.8" y="464.8" width="23.4" height="12.7" fill="#a9d8e7"/>
<rect x="1087.6" y="464.8" width="12.0" height="12.7" fill="#fed281"/>
<rect x="1099.0" y="464.8" width="12.0" height="12.7" fill="#fcab60"/>
<rect x="1110.4" y="464.8" width="12.0" height="12.7" fill="#fdbe72"/>
<rect x="1121.8" y="464.8" width="12.0" height="12.7" fill="#81b8d7"/>
<rect x="1133.2" y="464.8" width="12.0" height="12.7" fill="#a9d8e7"/>
<rect x="1144.6" y="464.8" width="12.0" height="12.7" fill="#e2f4f2"/>
<rect x="1156.0" y="464.8" width="23.4" height="12.7" fill="#fed281"/>
<rect x="1178.8" y="464.8" width="23.4" height="12.7" fill="#fdbe72"/>
<rect x="1201.6" y="464.8" width="23.4" height="12.7" fill="#db3529"/>
<rect x="1224.4" y="464.8" width="23.4" height="12.7" fill="#fcab60"/>
<rect x="893.8" y="476.9" width="23.4" height="12.7" fill="#e2f4f2"/>
<rect x="916.6" y="476.9" width="23.4" height="12.7" fill="#fed281"/>
<rect x="939.4" y="476.9" width="12.0" height="12.7" fill="#d0ebf8"/>
<rect x="950.8" y="476.9" width="12.0" height="12.7" fill="#e2f4f2"/>
<rect x="962.2" y="476.9" width="12.0" height="12.7" fill="#fed281"/>
<rect x="973.6" y="476.9" width="23.4" height="12.7" fill="#fdbe72"/>
<rect x="996.4" y="476.9" width="34.8" height="12.7" fill="#fcab60"/>
<rect x="1030.6" y="476.9" width="12.0" height="12.7" fill="#fb9656"/>
<rect x="1042.0" y="476.9" width="12.0" height="12.7" fill="#fed281"/>
<rect x="1053.4" y="476.9" width="23.4" height="12.7" fill="#e2f4f2"/>
<rect x="1076.2" y="476.9" width="34.8" height="12.7" fill="#fcab60"/>
<rect x="1110.4" y="476.9" width="12.0" height="12.7" fill="#fb9656"/>
<rect x="1121.8" y="476.9" width="12.0" height="12.7" fill="#d0ebf8"/>
<rect x="1133.2" y="476.9" width="12.0" height="12.7" fill="#e2f4f2"/>
<rect x="1144.6" y="476.9" width="12.0" height="12.7" fill="#d0ebf8"/>
<rect x="1156.0" y="476.9" width="46.2" height="12.7" fill="#fdbe72"/>
</g>
<polyline points="762.5,11.0 762.9,22.4 759.9,34.3 758.5,44.3 760.9,50.2 766.8,59.1 774.8,65.1 779.7,70.1 786.7,74.0 796.6,70.1 806.6,64.5 813.5,65.1 820.5,70.1 828.4,76.0 838.3,86.0 840.3,76.0 848.3,68.1 853.2,58.2 856.2,49.2 864.1,46.2 872.1,44.3 882.0,42.3 891.9,34.3 897.9,30.4 901.3,32.5 893.9,42.3 899.9,50.2 895.9,62.1 897.9,70.1 903.9,69.1 903.9,60.1 900.9,53.2 903.3,47.5 911.8,44.3 915.8,40.3 913.8,35.3 917.8,33.3 919.7,40.3 927.7,42.3 933.6,44.3 936.6,53.2 943.6,53.2 959.5,52.2 965.4,56.2 973.4,58.2 983.3,52.2 995.2,51.2 1005.1,51.2 997.2,53.2 1003.1,60.1 1011.1,64.1 1019.0,68.1 1019.0,78.0 1027.0,79.0 1038.9,84.0 1044.8,90.0 1047.0,97.9 1056.9,103.8 1064.9,108.8 1084.7,108.8 1104.6,114.8 1120.5,125.7 1132.4,135.6 1138.3,151.5 1145.3,160.4 1144.3,169.4 1136.3,177.3 1128.3,186.5 1138.3,185.2 1148.3,183.3 1162.2,185.2 1159.2,199.1 1164.1,191.2 1174.1,189.2 1195.9,197.2 1202.9,200.1 1207.8,209.1 1206.8,216.0 1217.8,211.1 1231.7,215.0 1243.6,218.0 1257.5,216.0 1269.4,225.0 1283.3,236.9 1293.2,243.8 1303.2,242.8 1311.1,244.8 1316.1,263.4 1318.0,275.3 1315.1,285.2 1309.1,297.1 1301.2,309.1 1293.2,315.0 1283.3,328.9 1279.3,336.9 1270.4,344.8 1269.4,358.7 1270.4,376.6 1267.4,390.5 1263.4,402.4 1262.4,418.3 1255.5,426.2 1249.5,436.1 1247.5,450.0 1235.6,456.0 1235.6,461.0 1223.7,462.0 1209.8,462.0 1203.9,464.0 1199.9,467.9 1188.0,471.9 1180.0,477.8 1170.1,485.8 1167.8,488.5" fill="none" stroke="#808080" stroke-width="2" stroke-linejoin="round"/>
<polyline points="909.3,488.5 909.8,485.8 911.8,462.0 915.8,444.1 914.8,426.2 913.8,416.3 911.8,404.4 903.9,398.4 895.9,390.5 884.0,384.5 872.1,376.6 864.1,373.6 852.2,364.7 845.3,354.7 844.3,346.8 838.3,332.9 830.4,319.0 824.4,307.1 820.5,297.1 814.5,283.2 808.5,277.3 804.6,269.3 798.6,261.4 788.7,254.5 792.7,247.5 790.7,244.8 786.7,234.9 790.7,227.0 800.6,219.0 792.7,209.1 794.6,195.2 798.6,183.3 804.6,175.3 812.5,167.4 816.5,161.4 818.5,153.5 824.4,149.5 830.3,145.5 834.3,137.6 832.3,129.6 832.3,117.7 831.3,103.8 832.3,94.0 830.4,94.0 826.4,88.0 821.5,81.0 818.5,76.0 810.5,72.0 804.6,77.0 797.6,84.0 802.6,89.9 791.7,93.9 788.7,87.0 779.7,80.0 768.8,81.0 758.9,77.0 756.9,68.1 744.3,58.2" fill="none" stroke="#808080" stroke-width="2" stroke-linejoin="round"/>
<polyline points="1009.1,51.5 1019.8,50.5 1019.3,58.0 1013.3,59.0 1011.3,55.0 1009.1,51.5" fill="none" stroke="#808080" stroke-width="2" stroke-linejoin="round"/>
<polygon points="804.6,250.6 806.6,238.9 808.5,225.0 812.5,217.0 811.5,207.1 814.5,199.1 814.5,189.2 820.5,183.3 826.4,175.3 832.4,167.4 838.3,161.4 842.3,155.5 848.3,157.4 856.2,149.5 860.2,141.6 864.1,149.5 866.1,157.4 876.1,157.4 884.0,152.5 899.9,150.5 919.7,152.5 931.7,149.5 935.6,145.5 943.6,147.5 951.5,145.5 959.5,146.5 965.4,155.5 973.4,163.4 983.3,157.4 991.2,153.5 983.3,151.5 981.3,141.6 983.3,131.6 977.3,131.6 987.2,130.6 995.2,137.6 999.2,130.6 1007.1,127.7 1019.0,125.7 1023.0,119.7 1029.0,117.7 1034.9,120.7 1037.9,125.7 1036.9,133.6 1032.9,141.6 1034.9,149.5 1033.9,157.4 1038.9,163.4 1045.0,165.4 1052.9,145.5 1050.9,157.4 1062.9,157.4 1074.8,158.4 1074.8,149.5 1088.7,150.5 1094.6,155.5 1104.6,153.5 1112.5,163.4 1118.5,175.3 1120.5,187.2 1127.4,188.2 1124.4,195.2 1112.5,201.1 1124.4,199.1 1130.4,193.2 1134.4,195.2 1128.4,207.1 1134.4,211.1 1138.3,203.1 1152.3,203.1 1155.2,207.1 1151.2,215.0 1150.2,228.9 1154.2,240.8 1164.1,241.8 1178.0,248.8 1184.0,255.4 1185.0,267.4 1186.0,277.3 1184.0,284.2 1180.0,291.2 1184.0,299.1 1187.0,311.0 1186.0,323.0 1186.4,334.9 1188.0,346.8 1189.0,360.7 1182.0,362.7 1176.1,368.6 1172.1,372.6 1164.1,372.6 1154.2,376.6 1142.3,380.5 1138.3,384.5 1128.4,389.5 1118.5,388.5 1110.5,394.4 1108.5,402.4 1104.6,400.4 1104.6,386.5 1098.6,382.5 1096.6,374.6 1092.7,370.6 1082.7,372.6 1080.7,366.6 1087.7,360.7 1086.7,354.7 1080.7,355.7 1074.8,357.7 1066.8,352.7 1058.9,350.8 1052.9,356.7 1045.0,356.7 1040.9,366.6 1036.9,373.6 1038.9,382.5 1036.9,390.5 1043.8,390.5 1042.8,398.4 1034.9,400.4 1023.0,402.4 1017.0,412.3 1010.1,422.2 1009.1,430.2 1001.2,433.2 993.2,436.1 981.3,430.2 977.3,422.2 973.4,416.3 961.4,411.3 952.5,416.3 951.5,410.3 947.5,398.4 943.6,392.5 938.6,388.5 935.6,378.6 927.7,370.6 925.7,362.7 919.7,356.7 911.8,353.7 905.8,356.7 905.8,368.6 901.9,366.6 895.9,370.6 891.9,368.6 884.0,362.7 876.1,357.7 868.1,358.7 864.1,354.7 857.2,344.8 853.2,338.8 850.3,328.9 844.3,321.0 836.4,313.0 835.4,301.1 830.4,291.2 824.4,281.3 824.4,273.3 820.5,265.4 814.5,259.4 806.6,255.4" fill="none" stroke="#000" stroke-width="4.6" stroke-linejoin="round"/>
<line x1="824.4" y1="273.3" x2="1184.0" y2="273.3" stroke="#000" stroke-width="4"/>
</g>
<circle cx="762.3" cy="11.3" r="4.6" fill="#000"/>
<circle cx="876.2" cy="83.9" r="4.6" fill="#000"/>
<circle cx="853.4" cy="180.7" r="4.6" fill="#000"/>
<circle cx="921.8" cy="180.7" r="4.6" fill="#000"/>
<circle cx="967.3" cy="180.7" r="4.6" fill="#000"/>
<circle cx="1058.4" cy="180.7" r="4.6" fill="#000"/>
<circle cx="830.6" cy="204.9" r="4.6" fill="#000"/>
<circle cx="853.4" cy="204.9" r="4.6" fill="#000"/>
<circle cx="876.2" cy="204.9" r="4.6" fill="#000"/>
<circle cx="944.5" cy="204.9" r="4.6" fill="#000"/>
<circle cx="1058.4" cy="204.9" r="4.6" fill="#000"/>
<circle cx="1172.3" cy="204.9" r="4.6" fill="#000"/>
<circle cx="853.4" cy="229.1" r="4.6" fill="#000"/>
<circle cx="1012.9" cy="229.1" r="4.6" fill="#000"/>
<circle cx="1081.2" cy="229.1" r="4.6" fill="#000"/>
<circle cx="1172.3" cy="229.1" r="4.6" fill="#000"/>
<circle cx="944.5" cy="253.3" r="4.6" fill="#000"/>
<circle cx="990.1" cy="253.3" r="4.6" fill="#000"/>
<circle cx="1012.9" cy="253.3" r="4.6" fill="#000"/>
<circle cx="1058.4" cy="253.3" r="4.6" fill="#000"/>
<circle cx="853.4" cy="277.5" r="4.6" fill="#000"/>
<circle cx="990.1" cy="277.5" r="4.6" fill="#000"/>
<circle cx="1012.9" cy="277.5" r="4.6" fill="#000"/>
<circle cx="1081.2" cy="277.5" r="4.6" fill="#000"/>
<circle cx="830.6" cy="301.7" r="4.6" fill="#000"/>
<circle cx="876.2" cy="301.7" r="4.6" fill="#000"/>
<circle cx="990.1" cy="301.7" r="4.6" fill="#000"/>
<circle cx="1012.9" cy="301.7" r="4.6" fill="#000"/>
<circle cx="1035.7" cy="301.7" r="4.6" fill="#000"/>
<circle cx="1058.4" cy="301.7" r="4.6" fill="#000"/>
<circle cx="1081.2" cy="301.7" r="4.6" fill="#000"/>
<circle cx="1104.0" cy="301.7" r="4.6" fill="#000"/>
<circle cx="1286.2" cy="301.7" r="4.6" fill="#000"/>
<circle cx="990.1" cy="325.9" r="4.6" fill="#000"/>
<circle cx="1035.7" cy="325.9" r="4.6" fill="#000"/>
<circle cx="1058.4" cy="325.9" r="4.6" fill="#000"/>
<circle cx="1149.6" cy="325.9" r="4.6" fill="#000"/>
<circle cx="1172.3" cy="325.9" r="4.6" fill="#000"/>
<circle cx="1012.9" cy="350.1" r="4.6" fill="#000"/>
<circle cx="1035.7" cy="350.1" r="4.6" fill="#000"/>
<circle cx="1195.1" cy="350.1" r="4.6" fill="#000"/>
<circle cx="876.2" cy="374.3" r="4.6" fill="#000"/>
<circle cx="1012.9" cy="374.3" r="4.6" fill="#000"/>
<circle cx="1035.7" cy="374.3" r="4.6" fill="#000"/>
<circle cx="1126.8" cy="374.3" r="4.6" fill="#000"/>
<circle cx="1149.6" cy="374.3" r="4.6" fill="#000"/>
<circle cx="1172.3" cy="374.3" r="4.6" fill="#000"/>
<circle cx="1217.9" cy="374.3" r="4.6" fill="#000"/>
<circle cx="1058.4" cy="398.5" r="4.6" fill="#000"/>
<circle cx="1081.2" cy="398.5" r="4.6" fill="#000"/>
<circle cx="1172.3" cy="422.7" r="4.6" fill="#000"/>
<circle cx="1217.9" cy="422.7" r="4.6" fill="#000"/>
<circle cx="921.8" cy="446.9" r="4.6" fill="#000"/>
<circle cx="1035.7" cy="446.9" r="4.6" fill="#000"/>
<circle cx="1126.8" cy="446.9" r="4.6" fill="#000"/>
<circle cx="1172.3" cy="446.9" r="4.6" fill="#000"/>
<circle cx="1195.1" cy="446.9" r="4.6" fill="#000"/>
<circle cx="944.5" cy="471.1" r="4.6" fill="#000"/>
<circle cx="1012.9" cy="471.1" r="4.6" fill="#000"/>
<rect x="745.3" y="11.0" width="604.0" height="476.0" fill="none" stroke="#262626" stroke-width="2.2"/>
<path d="M1030.8 11.0 v7 M1030.8 487.0 v-7 M745.3 182.0 h7 M1349.3 182.0 h-7" stroke="#262626" stroke-width="2.2" fill="none"/>
<text transform="translate(1318.8 72.6) scale(1 1.045)" font-size="32" text-anchor="end" fill="#000">GPCC</text>
<g clip-path="url(#framed)"><g clip-path="url(#landd)" shape-rendering="crispEdges">
<rect x="45.6" y="543.5" width="34.8" height="12.7" fill="#cc2127"/>
<rect x="45.6" y="555.6" width="34.8" height="12.7" fill="#cc2127"/>
<rect x="182.4" y="555.6" width="34.8" height="12.7" fill="#81b8d7"/>
<rect x="45.6" y="567.7" width="23.4" height="12.7" fill="#cc2127"/>
<rect x="148.2" y="567.7" width="23.4" height="12.7" fill="#fdbe72"/>
<rect x="171.0" y="567.7" width="12.0" height="12.7" fill="#fed281"/>
<rect x="182.4" y="567.7" width="34.8" height="12.7" fill="#81b8d7"/>
<rect x="216.6" y="567.7" width="12.0" height="12.7" fill="#d0ebf8"/>
<rect x="228.0" y="567.7" width="23.4" height="12.7" fill="#fed281"/>
<rect x="45.6" y="579.8" width="34.8" height="12.7" fill="#cc2127"/>
<rect x="136.8" y="579.8" width="12.0" height="12.7" fill="#bde2f1"/>
<rect x="148.2" y="579.8" width="23.4" height="12.7" fill="#fdbe72"/>
<rect x="171.0" y="579.8" width="34.8" height="12.7" fill="#fed281"/>
<rect x="205.2" y="579.8" width="12.0" height="12.7" fill="#81b8d7"/>
<rect x="216.6" y="579.8" width="12.0" height="12.7" fill="#d0ebf8"/>
<rect x="228.0" y="579.8" width="23.4" height="12.7" fill="#fed281"/>
<rect x="250.8" y="579.8" width="34.8" height="12.7" fill="#f7814a"/>
<rect x="285.0" y="579.8" width="12.0" height="12.7" fill="#f16641"/>
<rect x="296.4" y="579.8" width="23.4" height="12.7" fill="#f7814a"/>
<rect x="45.6" y="591.9" width="46.2" height="12.7" fill="#cc2127"/>
<rect x="91.2" y="591.9" width="12.0" height="12.7" fill="#81b8d7"/>
<rect x="102.6" y="591.9" width="34.8" height="12.7" fill="#94c8de"/>
<rect x="136.8" y="591.9" width="23.4" height="12.7" fill="#bde2f1"/>
<rect x="159.6" y="591.9" width="12.0" height="12.7" fill="#a9d8e7"/>
<rect x="171.0" y="591.9" width="12.0" height="12.7" fill="#94c8de"/>
<rect x="182.4" y="591.9" width="23.4" height="12.7" fill="#81b8d7"/>
<rect x="205.2" y="591.9" width="12.0" height="12.7" fill="#a9d8e7"/>
<rect x="216.6" y="591.9" width="12.0" height="12.7" fill="#fee391"/>
<rect x="228.0" y="591.9" width="23.4" height="12.7" fill="#fdbe72"/>
<rect x="250.8" y="591.9" width="34.8" height="12.7" fill="#f7814a"/>
<rect x="285.0" y="591.9" width="12.0" height="12.7" fill="#f16641"/>
<rect x="296.4" y="591.9" width="23.4" height="12.7" fill="#f7814a"/>
<rect x="319.2" y="591.9" width="12.0" height="12.7" fill="#fee391"/>
<rect x="45.6" y="604.0" width="46.2" height="12.7" fill="#cc2127"/>
<rect x="91.2" y="604.0" width="12.0" height="12.7" fill="#81b8d7"/>
<rect x="102.6" y="604.0" width="34.8" height="12.7" fill="#94c8de"/>
<rect x="136.8" y="604.0" width="23.4" height="12.7" fill="#598ec2"/>
<rect x="159.6" y="604.0" width="34.8" height="12.7" fill="#3c61aa"/>
<rect x="193.8" y="604.0" width="23.4" height="12.7" fill="#d0ebf8"/>
<rect x="216.6" y="604.0" width="12.0" height="12.7" fill="#fee391"/>
<rect x="228.0" y="604.0" width="23.4" height="12.7" fill="#fcab60"/>
<rect x="250.8" y="604.0" width="23.4" height="12.7" fill="#94c8de"/>
<rect x="273.6" y="604.0" width="12.0" height="12.7" fill="#81b8d7"/>
<rect x="285.0" y="604.0" width="23.4" height="12.7" fill="#6ca4cd"/>
<rect x="307.8" y="604.0" width="23.4" height="12.7" fill="#fee391"/>
<rect x="330.6" y="604.0" width="23.4" height="12.7" fill="#cc2127"/>
<rect x="45.6" y="616.1" width="23.4" height="12.7" fill="#cc2127"/>
<rect x="68.4" y="616.1" width="46.2" height="12.7" fill="#94c8de"/>
<rect x="114.0" y="616.1" width="23.4" height="12.7" fill="#a9d8e7"/>
<rect x="136.8" y="616.1" width="12.0" height="12.7" fill="#81b8d7"/>
<rect x="148.2" y="616.1" width="12.0" height="12.7" fill="#4677b3"/>
<rect x="159.6" y="616.1" width="12.0" height="12.7" fill="#598ec2"/>
<rect x="171.0" y="616.1" width="23.4" height="12.7" fill="#3c61aa"/>
<rect x="193.8" y="616.1" width="12.0" height="12.7" fill="#d0ebf8"/>
<rect x="205.2" y="616.1" width="12.0" height="12.7" fill="#e2f4f2"/>
<rect x="216.6" y="616.1" width="12.0" height="12.7" fill="#fee391"/>
<rect x="228.0" y="616.1" width="23.4" height="12.7" fill="#fdbe72"/>
<rect x="250.8" y="616.1" width="23.4" height="12.7" fill="#94c8de"/>
<rect x="273.6" y="616.1" width="12.0" height="12.7" fill="#81b8d7"/>
<rect x="285.0" y="616.1" width="23.4" height="12.7" fill="#6ca4cd"/>
<rect x="307.8" y="616.1" width="23.4" height="12.7" fill="#fee391"/>
<rect x="330.6" y="616.1" width="23.4" height="12.7" fill="#cc2127"/>
<rect x="353.4" y="616.1" width="12.0" height="12.7" fill="#fcab60"/>
<rect x="68.4" y="628.2" width="46.2" height="12.7" fill="#94c8de"/>
<rect x="114.0" y="628.2" width="23.4" height="12.7" fill="#4677b3"/>
<rect x="136.8" y="628.2" width="23.4" height="12.7" fill="#94c8de"/>
<rect x="159.6" y="628.2" width="12.0" height="12.7" fill="#81b8d7"/>
<rect x="171.0" y="628.2" width="12.0" height="12.7" fill="#598ec2"/>
<rect x="182.4" y="628.2" width="12.0" height="12.7" fill="#81b8d7"/>
<rect x="193.8" y="628.2" width="23.4" height="12.7" fill="#f7814a"/>
<rect x="216.6" y="628.2" width="12.0" height="12.7" fill="#fed281"/>
<rect x="228.0" y="628.2" width="23.4" height="12.7" fill="#a9d8e7"/>
<rect x="250.8" y="628.2" width="23.4" height="12.7" fill="#bde2f1"/>
<rect x="273.6" y="628.2" width="12.0" height="12.7" fill="#d0ebf8"/>
<rect x="285.0" y="628.2" width="12.0" height="12.7" fill="#e2f4f2"/>
<rect x="296.4" y="628.2" width="12.0" height="12.7" fill="#fee391"/>
<rect x="307.8" y="628.2" width="23.4" height="12.7" fill="#e2f4f2"/>
<rect x="330.6" y="628.2" width="12.0" height="12.7" fill="#fed281"/>
<rect x="342.0" y="628.2" width="34.8" height="12.7" fill="#fcab60"/>
<rect x="114.0" y="640.3" width="12.0" height="12.7" fill="#4677b3"/>
<rect x="125.4" y="640.3" width="23.4" height="12.7" fill="#94c8de"/>
<rect x="148.2" y="640.3" width="12.0" height="12.7" fill="#81b8d7"/>
<rect x="159.6" y="640.3" width="12.0" height="12.7" fill="#6ca4cd"/>
<rect x="171.0" y="640.3" width="12.0" height="12.7" fill="#598ec2"/>
<rect x="182.4" y="640.3" width="12.0" height="12.7" fill="#81b8d7"/>
<rect x="193.8" y="640.3" width="23.4" height="12.7" fill="#f7814a"/>
<rect x="216.6" y="640.3" width="12.0" height="12.7" fill="#fee391"/>
<rect x="228.0" y="640.3" width="23.4" height="12.7" fill="#a9d8e7"/>
<rect x="250.8" y="640.3" width="23.4" height="12.7" fill="#d0ebf8"/>
<rect x="273.6" y="640.3" width="12.0" height="12.7" fill="#e2f4f2"/>
<rect x="285.0" y="640.3" width="23.4" height="12.7" fill="#fee391"/>
<rect x="307.8" y="640.3" width="23.4" height="12.7" fill="#e2f4f2"/>
<rect x="330.6" y="640.3" width="12.0" height="12.7" fill="#fed281"/>
<rect x="342.0" y="640.3" width="34.8" height="12.7" fill="#fcab60"/>
<rect x="376.2" y="640.3" width="12.0" height="12.7" fill="#fb9656"/>
<rect x="387.6" y="640.3" width="46.2" height="12.7" fill="#db3529"/>
<rect x="125.4" y="652.4" width="23.4" height="12.7" fill="#d0ebf8"/>
<rect x="148.2" y="652.4" width="23.4" height="12.7" fill="#a9d8e7"/>
<rect x="171.0" y="652.4" width="12.0" height="12.7" fill="#fed281"/>
<rect x="182.4" y="652.4" width="12.0" height="12.7" fill="#e2f4f2"/>
<rect x="193.8" y="652.4" width="23.4" height="12.7" fill="#fcab60"/>
<rect x="216.6" y="652.4" width="12.0" height="12.7" fill="#e2f4f2"/>
<rect x="228.0" y="652.4" width="12.0" height="12.7" fill="#a9d8e7"/>
<rect x="239.4" y="652.4" width="12.0" height="12.7" fill="#bde2f1"/>
<rect x="250.8" y="652.4" width="23.4" height="12.7" fill="#e2f4f2"/>
<rect x="273.6" y="652.4" width="12.0" height="12.7" fill="#fdbe72"/>
<rect x="285.0" y="652.4" width="23.4" height="12.7" fill="#fb9656"/>
<rect x="307.8" y="652.4" width="23.4" height="12.7" fill="#e2f4f2"/>
<rect x="330.6" y="652.4" width="12.0" height="12.7" fill="#fed281"/>
<rect x="342.0" y="652.4" width="12.0" height="12.7" fill="#fcab60"/>
<rect x="353.4" y="652.4" width="12.0" height="12.7" fill="#fdbe72"/>
<rect x="364.8" y="652.4" width="23.4" height="12.7" fill="#fb9656"/>
<rect x="387.6" y="652.4" width="46.2" height="12.7" fill="#db3529"/>
<rect x="433.2" y="652.4" width="12.0" height="12.7" fill="#cc2127"/>
<rect x="114.0" y="664.5" width="12.0" height="12.7" fill="#db3529"/>
<rect x="125.4" y="664.5" width="23.4" height="12.7" fill="#fee391"/>
<rect x="148.2" y="664.5" width="12.0" height="12.7" fill="#fdbe72"/>
<rect x="159.6" y="664.5" width="12.0" height="12.7" fill="#fb9656"/>
<rect x="171.0" y="664.5" width="23.4" height="12.7" fill="#f7814a"/>
<rect x="193.8" y="664.5" width="12.0" height="12.7" fill="#e2f4f2"/>
<rect x="205.2" y="664.5" width="12.0" height="12.7" fill="#fee391"/>
<rect x="216.6" y="664.5" width="12.0" height="12.7" fill="#d0ebf8"/>
<rect x="228.0" y="664.5" width="12.0" height="12.7" fill="#a9d8e7"/>
<rect x="239.4" y="664.5" width="12.0" height="12.7" fill="#bde2f1"/>
<rect x="250.8" y="664.5" width="12.0" height="12.7" fill="#e2f4f2"/>
<rect x="262.2" y="664.5" width="12.0" height="12.7" fill="#fee391"/>
<rect x="273.6" y="664.5" width="12.0" height="12.7" fill="#fcab60"/>
<rect x="285.0" y="664.5" width="23.4" height="12.7" fill="#db3529"/>
<rect x="307.8" y="664.5" width="23.4" height="12.7" fill="#e2f4f2"/>
<rect x="330.6" y="664.5" width="34.8" height="12.7" fill="#fed281"/>
<rect x="364.8" y="664.5" width="23.4" height="12.7" fill="#fcab60"/>
<rect x="387.6" y="664.5" width="12.0" height="12.7" fill="#f16641"/>
<rect x="399.0" y="664.5" width="23.4" height="12.7" fill="#e84c35"/>
<rect x="421.8" y="664.5" width="23.4" height="12.7" fill="#cc2127"/>
<rect x="102.6" y="676.6" width="12.0" height="12.7" fill="#fdbe72"/>
<rect x="114.0" y="676.6" width="23.4" height="12.7" fill="#db3529"/>
<rect x="136.8" y="676.6" width="34.8" height="12.7" fill="#fed281"/>
<rect x="171.0" y="676.6" width="23.4" height="12.7" fill="#f7814a"/>
<rect x="193.8" y="676.6" width="23.4" height="12.7" fill="#e2f4f2"/>
<rect x="216.6" y="676.6" width="12.0" height="12.7" fill="#bde2f1"/>
<rect x="228.0" y="676.6" width="23.4" height="12.7" fill="#94c8de"/>
<rect x="250.8" y="676.6" width="23.4" height="12.7" fill="#e2f4f2"/>
<rect x="273.6" y="676.6" width="12.0" height="12.7" fill="#f7814a"/>
<rect x="285.0" y="676.6" width="23.4" height="12.7" fill="#db3529"/>
<rect x="307.8" y="676.6" width="23.4" height="12.7" fill="#e2f4f2"/>
<rect x="330.6" y="676.6" width="34.8" height="12.7" fill="#fed281"/>
<rect x="364.8" y="676.6" width="23.4" height="12.7" fill="#fcab60"/>
<rect x="387.6" y="676.6" width="12.0" height="12.7" fill="#f7814a"/>
<rect x="399.0" y="676.6" width="23.4" height="12.7" fill="#e84c35"/>
<rect x="421.8" y="676.6" width="34.8" height="12.7" fill="#cc2127"/>
<rect x="91.2" y="688.7" width="12.0" height="12.7" fill="#f7814a"/>
<rect x="102.6" y="688.7" width="23.4" height="12.7" fill="#fdbe72"/>
<rect x="125.4" y="688.7" width="12.0" height="12.7" fill="#fee391"/>
<rect x="136.8" y="688.7" width="12.0" height="12.7" fill="#e2f4f2"/>
<rect x="148.2" y="688.7" width="23.4" height="12.7" fill="#fee391"/>
<rect x="171.0" y="688.7" width="12.0" height="12.7" fill="#e2f4f2"/>
<rect x="182.4" y="688.7" width="12.0" height="12.7" fill="#fee391"/>
<rect x="193.8" y="688.7" width="12.0" height="12.7" fill="#81b8d7"/>
<rect x="205.2" y="688.7" width="34.8" height="12.7" fill="#94c8de"/>
<rect x="239.4" y="688.7" width="12.0" height="12.7" fill="#bde2f1"/>
<rect x="250.8" y="688.7" width="12.0" height="12.7" fill="#6ca4cd"/>
<rect x="262.2" y="688.7" width="12.0" height="12.7" fill="#94c8de"/>
<rect x="273.6" y="688.7" width="12.0" height="12.7" fill="#d0ebf8"/>
<rect x="285.0" y="688.7" width="23.4" height="12.7" fill="#fcab60"/>
<rect x="307.8" y="688.7" width="34.8" height="12.7" fill="#d0ebf8"/>
<rect x="342.0" y="688.7" width="23.4" height="12.7" fill="#bde2f1"/>
<rect x="364.8" y="688.7" width="23.4" height="12.7" fill="#fee391"/>
<rect x="387.6" y="688.7" width="12.0" height="12.7" fill="#fb9656"/>
<rect x="399.0" y="688.7" width="34.8" height="12.7" fill="#db3529"/>
<rect x="433.2" y="688.7" width="23.4" height="12.7" fill="#cc2127"/>
<rect x="91.2" y="700.8" width="23.4" height="12.7" fill="#f7814a"/>
<rect x="114.0" y="700.8" width="12.0" height="12.7" fill="#fdbe72"/>
<rect x="125.4" y="700.8" width="12.0" height="12.7" fill="#e2f4f2"/>
<rect x="136.8" y="700.8" width="34.8" height="12.7" fill="#fee391"/>
<rect x="171.0" y="700.8" width="23.4" height="12.7" fill="#e2f4f2"/>
<rect x="193.8" y="700.8" width="23.4" height="12.7" fill="#81b8d7"/>
<rect x="216.6" y="700.8" width="34.8" height="12.7" fill="#94c8de"/>
<rect x="250.8" y="700.8" width="12.0" height="12.7" fill="#598ec2"/>
<rect x="262.2" y="700.8" width="12.0" height="12.7" fill="#81b8d7"/>
<rect x="273.6" y="700.8" width="12.0" height="12.7" fill="#d0ebf8"/>
<rect x="285.0" y="700.8" width="23.4" height="12.7" fill="#fdbe72"/>
<rect x="307.8" y="700.8" width="57.6" height="12.7" fill="#bde2f1"/>
<rect x="364.8" y="700.8" width="23.4" height="12.7" fill="#fee391"/>
<rect x="387.6" y="700.8" width="12.0" height="12.7" fill="#fb9656"/>
<rect x="399.0" y="700.8" width="34.8" height="12.7" fill="#db3529"/>
<rect x="433.2" y="700.8" width="23.4" height="12.7" fill="#cc2127"/>
<rect x="79.8" y="712.9" width="12.0" height="12.7" fill="#e84c35"/>
<rect x="91.2" y="712.9" width="23.4" height="12.7" fill="#f7814a"/>
<rect x="114.0" y="712.9" width="12.0" height="12.7" fill="#fdbe72"/>
<rect x="125.4" y="712.9" width="12.0" height="12.7" fill="#fed281"/>
<rect x="136.8" y="712.9" width="23.4" height="12.7" fill="#d0ebf8"/>
<rect x="159.6" y="712.9" width="12.0" height="12.7" fill="#bde2f1"/>
<rect x="171.0" y="712.9" width="23.4" height="12.7" fill="#94c8de"/>
<rect x="193.8" y="712.9" width="12.0" height="12.7" fill="#81b8d7"/>
<rect x="205.2" y="712.9" width="46.2" height="12.7" fill="#94c8de"/>
<rect x="250.8" y="712.9" width="12.0" height="12.7" fill="#598ec2"/>
<rect x="262.2" y="712.9" width="12.0" height="12.7" fill="#6ca4cd"/>
<rect x="273.6" y="712.9" width="12.0" height="12.7" fill="#a9d8e7"/>
<rect x="285.0" y="712.9" width="23.4" height="12.7" fill="#fdbe72"/>
<rect x="307.8" y="712.9" width="57.6" height="12.7" fill="#bde2f1"/>
<rect x="364.8" y="712.9" width="23.4" height="12.7" fill="#d0ebf8"/>
<rect x="387.6" y="712.9" width="12.0" height="12.7" fill="#fdbe72"/>
<rect x="399.0" y="712.9" width="23.4" height="12.7" fill="#f16641"/>
<rect x="421.8" y="712.9" width="12.0" height="12.7" fill="#fb9656"/>
<rect x="433.2" y="712.9" width="23.4" height="12.7" fill="#f7814a"/>
<rect x="456.0" y="712.9" width="12.0" height="12.7" fill="#bde2f1"/>
<rect x="467.4" y="712.9" width="12.0" height="12.7" fill="#a9d8e7"/>
<rect x="478.8" y="712.9" width="23.4" height="12.7" fill="#bde2f1"/>
<rect x="79.8" y="725.0" width="23.4" height="12.7" fill="#e84c35"/>
<rect x="102.6" y="725.0" width="12.0" height="12.7" fill="#f7814a"/>
<rect x="114.0" y="725.0" width="12.0" height="12.7" fill="#fcab60"/>
<rect x="125.4" y="725.0" width="12.0" height="12.7" fill="#fb9656"/>
<rect x="136.8" y="725.0" width="23.4" height="12.7" fill="#bde2f1"/>
<rect x="159.6" y="725.0" width="12.0" height="12.7" fill="#6ca4cd"/>
<rect x="171.0" y="725.0" width="23.4" height="12.7" fill="#3c61aa"/>
<rect x="193.8" y="725.0" width="34.8" height="12.7" fill="#94c8de"/>
<rect x="228.0" y="725.0" width="23.4" height="12.7" fill="#a9d8e7"/>
<rect x="250.8" y="725.0" width="12.0" height="12.7" fill="#4677b3"/>
<rect x="262.2" y="725.0" width="12.0" height="12.7" fill="#6ca4cd"/>
<rect x="273.6" y="725.0" width="12.0" height="12.7" fill="#a9d8e7"/>
<rect x="285.0" y="725.0" width="23.4" height="12.7" fill="#e2f4f2"/>
<rect x="307.8" y="725.0" width="46.2" height="12.7" fill="#bde2f1"/>
<rect x="353.4" y="725.0" width="12.0" height="12.7" fill="#d0ebf8"/>
<rect x="364.8" y="725.0" width="23.4" height="12.7" fill="#a9d8e7"/>
<rect x="387.6" y="725.0" width="12.0" height="12.7" fill="#e2f4f2"/>
<rect x="399.0" y="725.0" width="23.4" height="12.7" fill="#fdbe72"/>
<rect x="421.8" y="725.0" width="12.0" height="12.7" fill="#a9d8e7"/>
<rect x="433.2" y="725.0" width="34.8" height="12.7" fill="#bde2f1"/>
<rect x="467.4" y="725.0" width="12.0" height="12.7" fill="#a9d8e7"/>
<rect x="478.8" y="725.0" width="34.8" height="12.7" fill="#bde2f1"/>
<rect x="79.8" y="737.1" width="23.4" height="12.7" fill="#e84c35"/>
<rect x="102.6" y="737.1" width="12.0" height="12.7" fill="#f7814a"/>
<rect x="114.0" y="737.1" width="12.0" height="12.7" fill="#fcab60"/>
<rect x="125.4" y="737.1" width="12.0" height="12.7" fill="#fb9656"/>
<rect x="136.8" y="737.1" width="23.4" height="12.7" fill="#bde2f1"/>
<rect x="159.6" y="737.1" width="12.0" height="12.7" fill="#6ca4cd"/>
<rect x="171.0" y="737.1" width="23.4" height="12.7" fill="#3c61aa"/>
<rect x="193.8" y="737.1" width="34.8" height="12.7" fill="#94c8de"/>
<rect x="228.0" y="737.1" width="12.0" height="12.7" fill="#d0ebf8"/>
<rect x="239.4" y="737.1" width="12.0" height="12.7" fill="#a9d8e7"/>
<rect x="250.8" y="737.1" width="12.0" height="12.7" fill="#4677b3"/>
<rect x="262.2" y="737.1" width="12.0" height="12.7" fill="#598ec2"/>
<rect x="273.6" y="737.1" width="12.0" height="12.7" fill="#94c8de"/>
<rect x="285.0" y="737.1" width="23.4" height="12.7" fill="#d0ebf8"/>
<rect x="307.8" y="737.1" width="12.0" height="12.7" fill="#a9d8e7"/>
<rect x="319.2" y="737.1" width="46.2" height="12.7" fill="#bde2f1"/>
<rect x="364.8" y="737.1" width="23.4" height="12.7" fill="#a9d8e7"/>
<rect x="387.6" y="737.1" width="12.0" height="12.7" fill="#e2f4f2"/>
<rect x="399.0" y="737.1" width="23.4" height="12.7" fill="#fdbe72"/>
<rect x="421.8" y="737.1" width="34.8" height="12.7" fill="#bde2f1"/>
<rect x="456.0" y="737.1" width="12.0" height="12.7" fill="#94c8de"/>
<rect x="467.4" y="737.1" width="12.0" height="12.7" fill="#81b8d7"/>
<rect x="478.8" y="737.1" width="12.0" height="12.7" fill="#a9d8e7"/>
<rect x="490.2" y="737.1" width="23.4" height="12.7" fill="#bde2f1"/>
<rect x="513.0" y="737.1" width="23.4" height="12.7" fill="#e2f4f2"/>
<rect x="535.8" y="737.1" width="12.0" height="12.7" fill="#a9d8e7"/>
<rect x="547.2" y="737.1" width="23.4" height="12.7" fill="#94c8de"/>
<rect x="79.8" y="749.2" width="12.0" height="12.7" fill="#e84c35"/>
<rect x="91.2" y="749.2" width="23.4" height="12.7" fill="#fed281"/>
<rect x="114.0" y="749.2" width="12.0" height="12.7" fill="#d0ebf8"/>
<rect x="125.4" y="749.2" width="12.0" height="12.7" fill="#e2f4f2"/>
<rect x="136.8" y="749.2" width="23.4" height="12.7" fill="#598ec2"/>
<rect x="159.6" y="749.2" width="12.0" height="12.7" fill="#4677b3"/>
<rect x="171.0" y="749.2" width="23.4" height="12.7" fill="#3c61aa"/>
<rect x="193.8" y="749.2" width="12.0" height="12.7" fill="#6ca4cd"/>
<rect x="205.2" y="749.2" width="12.0" height="12.7" fill="#598ec2"/>
<rect x="216.6" y="749.2" width="12.0" height="12.7" fill="#6ca4cd"/>
<rect x="228.0" y="749.2" width="34.8" height="12.7" fill="#81b8d7"/>
<rect x="262.2" y="749.2" width="12.0" height="12.7" fill="#6ca4cd"/>
<rect x="273.6" y="749.2" width="12.0" height="12.7" fill="#81b8d7"/>
<rect x="285.0" y="749.2" width="23.4" height="12.7" fill="#6ca4cd"/>
<rect x="307.8" y="749.2" width="12.0" height="12.7" fill="#598ec2"/>
<rect x="319.2" y="749.2" width="12.0" height="12.7" fill="#6ca4cd"/>
<rect x="330.6" y="749.2" width="12.0" height="12.7" fill="#81b8d7"/>
<rect x="342.0" y="749.2" width="23.4" height="12.7" fill="#94c8de"/>
<rect x="364.8" y="749.2" width="23.4" height="12.7" fill="#6ca4cd"/>
<rect x="387.6" y="749.2" width="12.0" height="12.7" fill="#a9d8e7"/>
<rect x="399.0" y="749.2" width="12.0" height="12.7" fill="#fee391"/>
<rect x="410.4" y="749.2" width="23.4" height="12.7" fill="#fed281"/>
<rect x="433.2" y="749.2" width="12.0" height="12.7" fill="#bde2f1"/>
<rect x="444.6" y="749.2" width="12.0" height="12.7" fill="#d0ebf8"/>
<rect x="456.0" y="749.2" width="46.2" height="12.7" fill="#bde2f1"/>
<rect x="501.6" y="749.2" width="12.0" height="12.7" fill="#d0ebf8"/>
<rect x="513.0" y="749.2" width="23.4" height="12.7" fill="#e2f4f2"/>
<rect x="535.8" y="749.2" width="12.0" height="12.7" fill="#a9d8e7"/>
<rect x="547.2" y="749.2" width="23.4" height="12.7" fill="#94c8de"/>
<rect x="570.0" y="749.2" width="23.4" height="12.7" fill="#bde2f1"/>
<rect x="79.8" y="761.3" width="23.4" height="12.7" fill="#fcab60"/>
<rect x="102.6" y="761.3" width="12.0" height="12.7" fill="#fed281"/>
<rect x="114.0" y="761.3" width="12.0" height="12.7" fill="#e2f4f2"/>
<rect x="125.4" y="761.3" width="12.0" height="12.7" fill="#d0ebf8"/>
<rect x="136.8" y="761.3" width="23.4" height="12.7" fill="#598ec2"/>
<rect x="159.6" y="761.3" width="12.0" height="12.7" fill="#4677b3"/>
<rect x="171.0" y="761.3" width="23.4" height="12.7" fill="#3c61aa"/>
<rect x="193.8" y="761.3" width="23.4" height="12.7" fill="#598ec2"/>
<rect x="216.6" y="761.3" width="12.0" height="12.7" fill="#6ca4cd"/>
<rect x="228.0" y="761.3" width="12.0" height="12.7" fill="#94c8de"/>
<rect x="239.4" y="761.3" width="23.4" height="12.7" fill="#81b8d7"/>
<rect x="262.2" y="761.3" width="12.0" height="12.7" fill="#6ca4cd"/>
<rect x="273.6" y="761.3" width="12.0" height="12.7" fill="#81b8d7"/>
<rect x="285.0" y="761.3" width="23.4" height="12.7" fill="#6ca4cd"/>
<rect x="307.8" y="761.3" width="23.4" height="12.7" fill="#598ec2"/>
<rect x="330.6" y="761.3" width="12.0" height="12.7" fill="#6ca4cd"/>
<rect x="342.0" y="761.3" width="23.4" height="12.7" fill="#94c8de"/>
<rect x="364.8" y="761.3" width="23.4" height="12.7" fill="#6ca4cd"/>
<rect x="387.6" y="761.3" width="12.0" height="12.7" fill="#a9d8e7"/>
<rect x="399.0" y="761.3" width="23.4" height="12.7" fill="#fee391"/>
<rect x="421.8" y="761.3" width="12.0" height="12.7" fill="#fed281"/>
<rect x="433.2" y="761.3" width="12.0" height="12.7" fill="#bde2f1"/>
<rect x="444.6" y="761.3" width="12.0" height="12.7" fill="#d0ebf8"/>
<rect x="456.0" y="761.3" width="23.4" height="12.7" fill="#bde2f1"/>
<rect x="478.8" y="761.3" width="23.4" height="12.7" fill="#a9d8e7"/>
<rect x="501.6" y="761.3" width="23.4" height="12.7" fill="#d0ebf8"/>
<rect x="524.4" y="761.3" width="12.0" height="12.7" fill="#e2f4f2"/>
<rect x="535.8" y="761.3" width="23.4" height="12.7" fill="#94c8de"/>
<rect x="558.6" y="761.3" width="12.0" height="12.7" fill="#a9d8e7"/>
<rect x="570.0" y="761.3" width="23.4" height="12.7" fill="#bde2f1"/>
<rect x="592.8" y="761.3" width="12.0" height="12.7" fill="#e2f4f2"/>
<rect x="79.8" y="773.4" width="23.4" height="12.7" fill="#fcab60"/>
<rect x="102.6" y="773.4" width="12.0" height="12.7" fill="#fed281"/>
<rect x="114.0" y="773.4" width="12.0" height="12.7" fill="#fee391"/>
<rect x="125.4" y="773.4" width="12.0" height="12.7" fill="#d0ebf8"/>
<rect x="136.8" y="773.4" width="12.0" height="12.7" fill="#81b8d7"/>
<rect x="148.2" y="773.4" width="12.0" height="12.7" fill="#6ca4cd"/>
<rect x="159.6" y="773.4" width="12.0" height="12.7" fill="#598ec2"/>
<rect x="171.0" y="773.4" width="12.0" height="12.7" fill="#4677b3"/>
<rect x="182.4" y="773.4" width="12.0" height="12.7" fill="#3c61aa"/>
<rect x="193.8" y="773.4" width="23.4" height="12.7" fill="#6ca4cd"/>
<rect x="216.6" y="773.4" width="34.8" height="12.7" fill="#81b8d7"/>
<rect x="250.8" y="773.4" width="23.4" height="12.7" fill="#a9d8e7"/>
<rect x="273.6" y="773.4" width="34.8" height="12.7" fill="#81b8d7"/>
<rect x="307.8" y="773.4" width="12.0" height="12.7" fill="#6ca4cd"/>
<rect x="319.2" y="773.4" width="12.0" height="12.7" fill="#598ec2"/>
<rect x="330.6" y="773.4" width="12.0" height="12.7" fill="#81b8d7"/>
<rect x="342.0" y="773.4" width="34.8" height="12.7" fill="#94c8de"/>
<rect x="376.2" y="773.4" width="12.0" height="12.7" fill="#81b8d7"/>
<rect x="387.6" y="773.4" width="12.0" height="12.7" fill="#bde2f1"/>
<rect x="399.0" y="773.4" width="23.4" height="12.7" fill="#e2f4f2"/>
<rect x="421.8" y="773.4" width="34.8" height="12.7" fill="#d0ebf8"/>
<rect x="456.0" y="773.4" width="34.8" height="12.7" fill="#bde2f1"/>
<rect x="490.2" y="773.4" width="23.4" height="12.7" fill="#d0ebf8"/>
<rect x="513.0" y="773.4" width="23.4" height="12.7" fill="#fee391"/>
<rect x="535.8" y="773.4" width="23.4" height="12.7" fill="#bde2f1"/>
<rect x="558.6" y="773.4" width="12.0" height="12.7" fill="#d0ebf8"/>
<rect x="570.0" y="773.4" width="34.8" height="12.7" fill="#e2f4f2"/>
<rect x="604.2" y="773.4" width="23.4" height="12.7" fill="#bde2f1"/>
<rect x="79.8" y="785.5" width="23.4" height="12.7" fill="#fcab60"/>
<rect x="102.6" y="785.5" width="12.0" height="12.7" fill="#fed281"/>
<rect x="114.0" y="785.5" width="12.0" height="12.7" fill="#fee391"/>
<rect x="125.4" y="785.5" width="12.0" height="12.7" fill="#e2f4f2"/>
<rect x="136.8" y="785.5" width="23.4" height="12.7" fill="#81b8d7"/>
<rect x="159.6" y="785.5" width="12.0" height="12.7" fill="#6ca4cd"/>
<rect x="171.0" y="785.5" width="12.0" height="12.7" fill="#598ec2"/>
<rect x="182.4" y="785.5" width="23.4" height="12.7" fill="#6ca4cd"/>
<rect x="205.2" y="785.5" width="46.2" height="12.7" fill="#81b8d7"/>
<rect x="250.8" y="785.5" width="12.0" height="12.7" fill="#d0ebf8"/>
<rect x="262.2" y="785.5" width="12.0" height="12.7" fill="#e2f4f2"/>
<rect x="273.6" y="785.5" width="12.0" height="12.7" fill="#bde2f1"/>
<rect x="285.0" y="785.5" width="23.4" height="12.7" fill="#a9d8e7"/>
<rect x="307.8" y="785.5" width="23.4" height="12.7" fill="#81b8d7"/>
<rect x="330.6" y="785.5" width="34.8" height="12.7" fill="#94c8de"/>
<rect x="364.8" y="785.5" width="12.0" height="12.7" fill="#a9d8e7"/>
<rect x="376.2" y="785.5" width="12.0" height="12.7" fill="#94c8de"/>
<rect x="387.6" y="785.5" width="12.0" height="12.7" fill="#a9d8e7"/>
<rect x="399.0" y="785.5" width="23.4" height="12.7" fill="#d0ebf8"/>
<rect x="421.8" y="785.5" width="23.4" height="12.7" fill="#a9d8e7"/>
<rect x="444.6" y="785.5" width="12.0" height="12.7" fill="#d0ebf8"/>
<rect x="456.0" y="785.5" width="12.0" height="12.7" fill="#e2f4f2"/>
<rect x="467.4" y="785.5" width="12.0" height="12.7" fill="#fee391"/>
<rect x="478.8" y="785.5" width="12.0" height="12.7" fill="#a9d8e7"/>
<rect x="490.2" y="785.5" width="12.0" height="12.7" fill="#bde2f1"/>
<rect x="501.6" y="785.5" width="12.0" height="12.7" fill="#d0ebf8"/>
<rect x="513.0" y="785.5" width="23.4" height="12.7" fill="#fed281"/>
<rect x="535.8" y="785.5" width="23.4" height="12.7" fill="#e2f4f2"/>
<rect x="558.6" y="785.5" width="12.0" height="12.7" fill="#fee391"/>
<rect x="570.0" y="785.5" width="23.4" height="12.7" fill="#fed281"/>
<rect x="592.8" y="785.5" width="34.8" height="12.7" fill="#bde2f1"/>
<rect x="79.8" y="797.6" width="12.0" height="12.7" fill="#fcab60"/>
<rect x="91.2" y="797.6" width="23.4" height="12.7" fill="#fed281"/>
<rect x="114.0" y="797.6" width="12.0" height="12.7" fill="#fee391"/>
<rect x="125.4" y="797.6" width="12.0" height="12.7" fill="#e2f4f2"/>
<rect x="136.8" y="797.6" width="34.8" height="12.7" fill="#6ca4cd"/>
<rect x="171.0" y="797.6" width="12.0" height="12.7" fill="#598ec2"/>
<rect x="182.4" y="797.6" width="23.4" height="12.7" fill="#6ca4cd"/>
<rect x="205.2" y="797.6" width="46.2" height="12.7" fill="#81b8d7"/>
<rect x="250.8" y="797.6" width="23.4" height="12.7" fill="#e2f4f2"/>
<rect x="273.6" y="797.6" width="12.0" height="12.7" fill="#d0ebf8"/>
<rect x="285.0" y="797.6" width="23.4" height="12.7" fill="#a9d8e7"/>
<rect x="307.8" y="797.6" width="34.8" height="12.7" fill="#81b8d7"/>
<rect x="342.0" y="797.6" width="23.4" height="12.7" fill="#94c8de"/>
<rect x="364.8" y="797.6" width="12.0" height="12.7" fill="#a9d8e7"/>
<rect x="376.2" y="797.6" width="12.0" height="12.7" fill="#94c8de"/>
<rect x="387.6" y="797.6" width="12.0" height="12.7" fill="#a9d8e7"/>
<rect x="399.0" y="797.6" width="23.4" height="12.7" fill="#d0ebf8"/>
<rect x="421.8" y="797.6" width="23.4" height="12.7" fill="#a9d8e7"/>
<rect x="444.6" y="797.6" width="12.0" height="12.7" fill="#bde2f1"/>
<rect x="456.0" y="797.6" width="23.4" height="12.7" fill="#e2f4f2"/>
<rect x="478.8" y="797.6" width="12.0" height="12.7" fill="#a9d8e7"/>
<rect x="490.2" y="797.6" width="12.0" height="12.7" fill="#bde2f1"/>
<rect x="501.6" y="797.6" width="12.0" height="12.7" fill="#d0ebf8"/>
<rect x="513.0" y="797.6" width="23.4" height="12.7" fill="#fed281"/>
<rect x="535.8" y="797.6" width="23.4" height="12.7" fill="#e2f4f2"/>
<rect x="558.6" y="797.6" width="12.0" height="12.7" fill="#fee391"/>
<rect x="570.0" y="797.6" width="23.4" height="12.7" fill="#fed281"/>
<rect x="592.8" y="797.6" width="34.8" height="12.7" fill="#bde2f1"/>
<rect x="91.2" y="809.7" width="69.0" height="12.7" fill="#fed281"/>
<rect x="159.6" y="809.7" width="12.0" height="12.7" fill="#e2f4f2"/>
<rect x="171.0" y="809.7" width="80.4" height="12.7" fill="#94c8de"/>
<rect x="250.8" y="809.7" width="23.4" height="12.7" fill="#fee391"/>
<rect x="273.6" y="809.7" width="12.0" height="12.7" fill="#fed281"/>
<rect x="285.0" y="809.7" width="23.4" height="12.7" fill="#fdbe72"/>
<rect x="307.8" y="809.7" width="23.4" height="12.7" fill="#fee391"/>
<rect x="330.6" y="809.7" width="12.0" height="12.7" fill="#d0ebf8"/>
<rect x="342.0" y="809.7" width="46.2" height="12.7" fill="#bde2f1"/>
<rect x="387.6" y="809.7" width="12.0" height="12.7" fill="#e2f4f2"/>
<rect x="399.0" y="809.7" width="12.0" height="12.7" fill="#fed281"/>
<rect x="410.4" y="809.7" width="12.0" height="12.7" fill="#fee391"/>
<rect x="421.8" y="809.7" width="23.4" height="12.7" fill="#81b8d7"/>
<rect x="444.6" y="809.7" width="12.0" height="12.7" fill="#bde2f1"/>
<rect x="456.0" y="809.7" width="23.4" height="12.7" fill="#fee391"/>
<rect x="478.8" y="809.7" width="23.4" height="12.7" fill="#a9d8e7"/>
<rect x="501.6" y="809.7" width="12.0" height="12.7" fill="#d0ebf8"/>
<rect x="513.0" y="809.7" width="23.4" height="12.7" fill="#e2f4f2"/>
<rect x="535.8" y="809.7" width="57.6" height="12.7" fill="#fdbe72"/>
<rect x="592.8" y="809.7" width="12.0" height="12.7" fill="#fb9656"/>
<rect x="604.2" y="809.7" width="23.4" height="12.7" fill="#f7814a"/>
<rect x="102.6" y="821.8" width="34.8" height="12.7" fill="#fed281"/>
<rect x="136.8" y="821.8" width="12.0" height="12.7" fill="#cc2127"/>
<rect x="148.2" y="821.8" width="12.0" height="12.7" fill="#fcab60"/>
<rect x="159.6" y="821.8" width="12.0" height="12.7" fill="#d0ebf8"/>
<rect x="171.0" y="821.8" width="80.4" height="12.7" fill="#94c8de"/>
<rect x="250.8" y="821.8" width="23.4" height="12.7" fill="#fee391"/>
<rect x="273.6" y="821.8" width="12.0" height="12.7" fill="#fed281"/>
<rect x="285.0" y="821.8" width="23.4" height="12.7" fill="#fdbe72"/>
<rect x="307.8" y="821.8" width="12.0" height="12.7" fill="#fee391"/>
<rect x="319.2" y="821.8" width="12.0" height="12.7" fill="#e2f4f2"/>
<rect x="330.6" y="821.8" width="12.0" height="12.7" fill="#d0ebf8"/>
<rect x="342.0" y="821.8" width="23.4" height="12.7" fill="#bde2f1"/>
<rect x="364.8" y="821.8" width="23.4" height="12.7" fill="#a9d8e7"/>
<rect x="387.6" y="821.8" width="12.0" height="12.7" fill="#d0ebf8"/>
<rect x="399.0" y="821.8" width="23.4" height="12.7" fill="#fee391"/>
<rect x="421.8" y="821.8" width="23.4" height="12.7" fill="#81b8d7"/>
<rect x="444.6" y="821.8" width="12.0" height="12.7" fill="#bde2f1"/>
<rect x="456.0" y="821.8" width="23.4" height="12.7" fill="#fee391"/>
<rect x="478.8" y="821.8" width="23.4" height="12.7" fill="#a9d8e7"/>
<rect x="501.6" y="821.8" width="12.0" height="12.7" fill="#bde2f1"/>
<rect x="513.0" y="821.8" width="23.4" height="12.7" fill="#e2f4f2"/>
<rect x="535.8" y="821.8" width="12.0" height="12.7" fill="#fed281"/>
<rect x="547.2" y="821.8" width="46.2" height="12.7" fill="#fdbe72"/>
<rect x="592.8" y="821.8" width="12.0" height="12.7" fill="#fb9656"/>
<rect x="604.2" y="821.8" width="23.4" height="12.7" fill="#f7814a"/>
<rect x="102.6" y="833.9" width="34.8" height="12.7" fill="#fed281"/>
<rect x="136.8" y="833.9" width="12.0" height="12.7" fill="#f16641"/>
<rect x="148.2" y="833.9" width="12.0" height="12.7" fill="#fdbe72"/>
<rect x="159.6" y="833.9" width="12.0" height="12.7" fill="#e2f4f2"/>
<rect x="171.0" y="833.9" width="12.0" height="12.7" fill="#94c8de"/>
<rect x="182.4" y="833.9" width="23.4" height="12.7" fill="#a9d8e7"/>
<rect x="205.2" y="833.9" width="23.4" height="12.7" fill="#94c8de"/>
<rect x="228.0" y="833.9" width="23.4" height="12.7" fill="#d0ebf8"/>
<rect x="250.8" y="833.9" width="57.6" height="12.7" fill="#fee391"/>
<rect x="307.8" y="833.9" width="69.0" height="12.7" fill="#e2f4f2"/>
<rect x="376.2" y="833.9" width="23.4" height="12.7" fill="#d0ebf8"/>
<rect x="399.0" y="833.9" width="12.0" height="12.7" fill="#fee391"/>
<rect x="410.4" y="833.9" width="12.0" height="12.7" fill="#fed281"/>
<rect x="421.8" y="833.9" width="23.4" height="12.7" fill="#a9d8e7"/>
<rect x="444.6" y="833.9" width="12.0" height="12.7" fill="#e2f4f2"/>
<rect x="456.0" y="833.9" width="23.4" height="12.7" fill="#fed281"/>
<rect x="478.8" y="833.9" width="34.8" height="12.7" fill="#e2f4f2"/>
<rect x="513.0" y="833.9" width="23.4" height="12.7" fill="#fee391"/>
<rect x="535.8" y="833.9" width="12.0" height="12.7" fill="#fed281"/>
<rect x="547.2" y="833.9" width="12.0" height="12.7" fill="#fdbe72"/>
<rect x="558.6" y="833.9" width="12.0" height="12.7" fill="#fcab60"/>
<rect x="570.0" y="833.9" width="12.0" height="12.7" fill="#fb9656"/>
<rect x="581.4" y="833.9" width="12.0" height="12.7" fill="#f7814a"/>
<rect x="592.8" y="833.9" width="23.4" height="12.7" fill="#e84c35"/>
<rect x="615.6" y="833.9" width="12.0" height="12.7" fill="#f7814a"/>
<rect x="102.6" y="846.0" width="12.0" height="12.7" fill="#fed281"/>
<rect x="114.0" y="846.0" width="23.4" height="12.7" fill="#fcab60"/>
<rect x="136.8" y="846.0" width="23.4" height="12.7" fill="#fee391"/>
<rect x="159.6" y="846.0" width="34.8" height="12.7" fill="#bde2f1"/>
<rect x="193.8" y="846.0" width="12.0" height="12.7" fill="#a9d8e7"/>
<rect x="205.2" y="846.0" width="12.0" height="12.7" fill="#bde2f1"/>
<rect x="216.6" y="846.0" width="12.0" height="12.7" fill="#d0ebf8"/>
<rect x="228.0" y="846.0" width="12.0" height="12.7" fill="#e2f4f2"/>
<rect x="239.4" y="846.0" width="12.0" height="12.7" fill="#fee391"/>
<rect x="250.8" y="846.0" width="12.0" height="12.7" fill="#fed281"/>
<rect x="262.2" y="846.0" width="12.0" height="12.7" fill="#fee391"/>
<rect x="273.6" y="846.0" width="34.8" height="12.7" fill="#d0ebf8"/>
<rect x="307.8" y="846.0" width="23.4" height="12.7" fill="#e2f4f2"/>
<rect x="330.6" y="846.0" width="12.0" height="12.7" fill="#fee391"/>
<rect x="342.0" y="846.0" width="80.4" height="12.7" fill="#fed281"/>
<rect x="421.8" y="846.0" width="23.4" height="12.7" fill="#d0ebf8"/>
<rect x="444.6" y="846.0" width="12.0" height="12.7" fill="#fee391"/>
<rect x="456.0" y="846.0" width="23.4" height="12.7" fill="#fdbe72"/>
<rect x="478.8" y="846.0" width="57.6" height="12.7" fill="#fed281"/>
<rect x="535.8" y="846.0" width="23.4" height="12.7" fill="#fdbe72"/>
<rect x="558.6" y="846.0" width="12.0" height="12.7" fill="#fb9656"/>
<rect x="570.0" y="846.0" width="46.2" height="12.7" fill="#e84c35"/>
<rect x="114.0" y="858.1" width="12.0" height="12.7" fill="#fcab60"/>
<rect x="125.4" y="858.1" width="34.8" height="12.7" fill="#fee391"/>
<rect x="159.6" y="858.1" width="12.0" height="12.7" fill="#bde2f1"/>
<rect x="171.0" y="858.1" width="23.4" height="12.7" fill="#e2f4f2"/>
<rect x="193.8" y="858.1" width="12.0" height="12.7" fill="#d0ebf8"/>
<rect x="205.2" y="858.1" width="12.0" height="12.7" fill="#bde2f1"/>
<rect x="216.6" y="858.1" width="12.0" height="12.7" fill="#d0ebf8"/>
<rect x="228.0" y="858.1" width="23.4" height="12.7" fill="#e2f4f2"/>
<rect x="250.8" y="858.1" width="12.0" height="12.7" fill="#fee391"/>
<rect x="262.2" y="858.1" width="12.0" height="12.7" fill="#fed281"/>
<rect x="273.6" y="858.1" width="12.0" height="12.7" fill="#e2f4f2"/>
<rect x="285.0" y="858.1" width="23.4" height="12.7" fill="#d0ebf8"/>
<rect x="307.8" y="858.1" width="23.4" height="12.7" fill="#e2f4f2"/>
<rect x="330.6" y="858.1" width="12.0" height="12.7" fill="#fee391"/>
<rect x="342.0" y="858.1" width="80.4" height="12.7" fill="#fed281"/>
<rect x="421.8" y="858.1" width="23.4" height="12.7" fill="#d0ebf8"/>
<rect x="444.6" y="858.1" width="12.0" height="12.7" fill="#fee391"/>
<rect x="456.0" y="858.1" width="23.4" height="12.7" fill="#fcab60"/>
<rect x="478.8" y="858.1" width="57.6" height="12.7" fill="#fed281"/>
<rect x="535.8" y="858.1" width="23.4" height="12.7" fill="#fdbe72"/>
<rect x="558.6" y="858.1" width="12.0" height="12.7" fill="#fb9656"/>
<rect x="570.0" y="858.1" width="34.8" height="12.7" fill="#e84c35"/>
<rect x="125.4" y="870.2" width="34.8" height="12.7" fill="#e2f4f2"/>
<rect x="159.6" y="870.2" width="34.8" height="12.7" fill="#d0ebf8"/>
<rect x="193.8" y="870.2" width="34.8" height="12.7" fill="#fed281"/>
<rect x="228.0" y="870.2" width="12.0" height="12.7" fill="#fee391"/>
<rect x="239.4" y="870.2" width="103.2" height="12.7" fill="#fed281"/>
<rect x="342.0" y="870.2" width="12.0" height="12.7" fill="#fdbe72"/>
<rect x="353.4" y="870.2" width="12.0" height="12.7" fill="#fed281"/>
<rect x="364.8" y="870.2" width="34.8" height="12.7" fill="#fee391"/>
<rect x="399.0" y="870.2" width="23.4" height="12.7" fill="#fed281"/>
<rect x="421.8" y="870.2" width="23.4" height="12.7" fill="#e2f4f2"/>
<rect x="444.6" y="870.2" width="12.0" height="12.7" fill="#fed281"/>
<rect x="456.0" y="870.2" width="12.0" height="12.7" fill="#fb9656"/>
<rect x="467.4" y="870.2" width="12.0" height="12.7" fill="#f7814a"/>
<rect x="478.8" y="870.2" width="12.0" height="12.7" fill="#fed281"/>
<rect x="490.2" y="870.2" width="12.0" height="12.7" fill="#fcab60"/>
<rect x="501.6" y="870.2" width="12.0" height="12.7" fill="#fdbe72"/>
<rect x="513.0" y="870.2" width="23.4" height="12.7" fill="#fed281"/>
<rect x="535.8" y="870.2" width="12.0" height="12.7" fill="#fdbe72"/>
<rect x="547.2" y="870.2" width="12.0" height="12.7" fill="#fcab60"/>
<rect x="558.6" y="870.2" width="12.0" height="12.7" fill="#f16641"/>
<rect x="570.0" y="870.2" width="23.4" height="12.7" fill="#db3529"/>
<rect x="592.8" y="870.2" width="12.0" height="12.7" fill="#e84c35"/>
<rect x="125.4" y="882.3" width="12.0" height="12.7" fill="#e2f4f2"/>
<rect x="136.8" y="882.3" width="23.4" height="12.7" fill="#fed281"/>
<rect x="159.6" y="882.3" width="34.8" height="12.7" fill="#d0ebf8"/>
<rect x="193.8" y="882.3" width="12.0" height="12.7" fill="#fed281"/>
<rect x="205.2" y="882.3" width="12.0" height="12.7" fill="#d0ebf8"/>
<rect x="216.6" y="882.3" width="12.0" height="12.7" fill="#fdbe72"/>
<rect x="228.0" y="882.3" width="12.0" height="12.7" fill="#fcab60"/>
<rect x="239.4" y="882.3" width="12.0" height="12.7" fill="#fdbe72"/>
<rect x="250.8" y="882.3" width="91.8" height="12.7" fill="#fed281"/>
<rect x="342.0" y="882.3" width="23.4" height="12.7" fill="#fdbe72"/>
<rect x="364.8" y="882.3" width="57.6" height="12.7" fill="#fed281"/>
<rect x="421.8" y="882.3" width="23.4" height="12.7" fill="#e2f4f2"/>
<rect x="444.6" y="882.3" width="12.0" height="12.7" fill="#fed281"/>
<rect x="456.0" y="882.3" width="23.4" height="12.7" fill="#fb9656"/>
<rect x="478.8" y="882.3" width="23.4" height="12.7" fill="#fcab60"/>
<rect x="501.6" y="882.3" width="12.0" height="12.7" fill="#fdbe72"/>
<rect x="513.0" y="882.3" width="23.4" height="12.7" fill="#fed281"/>
<rect x="535.8" y="882.3" width="23.4" height="12.7" fill="#fdbe72"/>
<rect x="558.6" y="882.3" width="23.4" height="12.7" fill="#f16641"/>
<rect x="581.4" y="882.3" width="12.0" height="12.7" fill="#db3529"/>
<rect x="136.8" y="894.4" width="23.4" height="12.7" fill="#fee391"/>
<rect x="159.6" y="894.4" width="23.4" height="12.7" fill="#e2f4f2"/>
<rect x="182.4" y="894.4" width="12.0" height="12.7" fill="#d0ebf8"/>
<rect x="193.8" y="894.4" width="12.0" height="12.7" fill="#fed281"/>
<rect x="205.2" y="894.4" width="46.2" height="12.7" fill="#fee391"/>
<rect x="250.8" y="894.4" width="12.0" height="12.7" fill="#fcab60"/>
<rect x="262.2" y="894.4" width="69.0" height="12.7" fill="#fdbe72"/>
<rect x="330.6" y="894.4" width="12.0" height="12.7" fill="#fed281"/>
<rect x="342.0" y="894.4" width="23.4" height="12.7" fill="#fee391"/>
<rect x="364.8" y="894.4" width="12.0" height="12.7" fill="#d0ebf8"/>
<rect x="376.2" y="894.4" width="12.0" height="12.7" fill="#e2f4f2"/>
<rect x="387.6" y="894.4" width="34.8" height="12.7" fill="#fee391"/>
<rect x="421.8" y="894.4" width="23.4" height="12.7" fill="#fed281"/>
<rect x="444.6" y="894.4" width="12.0" height="12.7" fill="#fdbe72"/>
<rect x="456.0" y="894.4" width="12.0" height="12.7" fill="#fcab60"/>
<rect x="467.4" y="894.4" width="12.0" height="12.7" fill="#fb9656"/>
<rect x="478.8" y="894.4" width="34.8" height="12.7" fill="#fcab60"/>
<rect x="513.0" y="894.4" width="23.4" height="12.7" fill="#fdbe72"/>
<rect x="535.8" y="894.4" width="23.4" height="12.7" fill="#fcab60"/>
<rect x="558.6" y="894.4" width="23.4" height="12.7" fill="#f16641"/>
<rect x="136.8" y="906.5" width="46.2" height="12.7" fill="#fee391"/>
<rect x="182.4" y="906.5" width="12.0" height="12.7" fill="#e2f4f2"/>
<rect x="193.8" y="906.5" width="12.0" height="12.7" fill="#d0ebf8"/>
<rect x="205.2" y="906.5" width="46.2" height="12.7" fill="#e2f4f2"/>
<rect x="250.8" y="906.5" width="23.4" height="12.7" fill="#fb9656"/>
<rect x="273.6" y="906.5" width="46.2" height="12.7" fill="#fcab60"/>
<rect x="319.2" y="906.5" width="12.0" height="12.7" fill="#fdbe72"/>
<rect x="330.6" y="906.5" width="12.0" height="12.7" fill="#fed281"/>
<rect x="342.0" y="906.5" width="23.4" height="12.7" fill="#e2f4f2"/>
<rect x="364.8" y="906.5" width="34.8" height="12.7" fill="#d0ebf8"/>
<rect x="399.0" y="906.5" width="23.4" height="12.7" fill="#e2f4f2"/>
<rect x="421.8" y="906.5" width="12.0" height="12.7" fill="#fed281"/>
<rect x="433.2" y="906.5" width="12.0" height="12.7" fill="#fdbe72"/>
<rect x="444.6" y="906.5" width="114.6" height="12.7" fill="#fcab60"/>
<rect x="558.6" y="906.5" width="23.4" height="12.7" fill="#f16641"/>
<rect x="159.6" y="918.6" width="12.0" height="12.7" fill="#fee391"/>
<rect x="171.0" y="918.6" width="23.4" height="12.7" fill="#e2f4f2"/>
<rect x="193.8" y="918.6" width="12.0" height="12.7" fill="#d0ebf8"/>
<rect x="205.2" y="918.6" width="46.2" height="12.7" fill="#e2f4f2"/>
<rect x="250.8" y="918.6" width="23.4" height="12.7" fill="#fb9656"/>
<rect x="273.6" y="918.6" width="23.4" height="12.7" fill="#fcab60"/>
<rect x="296.4" y="918.6" width="23.4" height="12.7" fill="#fdbe72"/>
<rect x="319.2" y="918.6" width="23.4" height="12.7" fill="#fed281"/>
<rect x="342.0" y="918.6" width="23.4" height="12.7" fill="#e2f4f2"/>
<rect x="364.8" y="918.6" width="34.8" height="12.7" fill="#d0ebf8"/>
<rect x="399.0" y="918.6" width="23.4" height="12.7" fill="#e2f4f2"/>
<rect x="421.8" y="918.6" width="23.4" height="12.7" fill="#fdbe72"/>
<rect x="444.6" y="918.6" width="114.6" height="12.7" fill="#fcab60"/>
<rect x="558.6" y="918.6" width="23.4" height="12.7" fill="#f16641"/>
<rect x="171.0" y="930.7" width="46.2" height="12.7" fill="#e2f4f2"/>
<rect x="216.6" y="930.7" width="57.6" height="12.7" fill="#d0ebf8"/>
<rect x="273.6" y="930.7" width="12.0" height="12.7" fill="#e2f4f2"/>
<rect x="285.0" y="930.7" width="57.6" height="12.7" fill="#fed281"/>
<rect x="342.0" y="930.7" width="23.4" height="12.7" fill="#e2f4f2"/>
<rect x="364.8" y="930.7" width="69.0" height="12.7" fill="#d0ebf8"/>
<rect x="433.2" y="930.7" width="23.4" height="12.7" fill="#e2f4f2"/>
<rect x="456.0" y="930.7" width="23.4" height="12.7" fill="#fee391"/>
<rect x="478.8" y="930.7" width="12.0" height="12.7" fill="#fdbe72"/>
<rect x="490.2" y="930.7" width="57.6" height="12.7" fill="#fcab60"/>
<rect x="547.2" y="930.7" width="12.0" height="12.7" fill="#fb9656"/>
<rect x="558.6" y="930.7" width="23.4" height="12.7" fill="#e84c35"/>
<rect x="193.8" y="942.8" width="80.4" height="12.7" fill="#d0ebf8"/>
<rect x="273.6" y="942.8" width="12.0" height="12.7" fill="#e2f4f2"/>
<rect x="285.0" y="942.8" width="12.0" height="12.7" fill="#fed281"/>
<rect x="296.4" y="942.8" width="12.0" height="12.7" fill="#e2f4f2"/>
<rect x="307.8" y="942.8" width="34.8" height="12.7" fill="#fed281"/>
<rect x="342.0" y="942.8" width="23.4" height="12.7" fill="#e2f4f2"/>
<rect x="364.8" y="942.8" width="69.0" height="12.7" fill="#d0ebf8"/>
<rect x="433.2" y="942.8" width="23.4" height="12.7" fill="#e2f4f2"/>
<rect x="456.0" y="942.8" width="23.4" height="12.7" fill="#fee391"/>
<rect x="478.8" y="942.8" width="91.8" height="12.7" fill="#fcab60"/>
<rect x="570.0" y="942.8" width="12.0" height="12.7" fill="#e84c35"/>
<rect x="193.8" y="954.9" width="12.0" height="12.7" fill="#d0ebf8"/>
<rect x="205.2" y="954.9" width="69.0" height="12.7" fill="#e2f4f2"/>
<rect x="273.6" y="954.9" width="23.4" height="12.7" fill="#fee391"/>
<rect x="296.4" y="954.9" width="23.4" height="12.7" fill="#fed281"/>
<rect x="319.2" y="954.9" width="34.8" height="12.7" fill="#e2f4f2"/>
<rect x="353.4" y="954.9" width="12.0" height="12.7" fill="#d0ebf8"/>
<rect x="364.8" y="954.9" width="57.6" height="12.7" fill="#bde2f1"/>
<rect x="421.8" y="954.9" width="12.0" height="12.7" fill="#d0ebf8"/>
<rect x="433.2" y="954.9" width="12.0" height="12.7" fill="#bde2f1"/>
<rect x="444.6" y="954.9" width="12.0" height="12.7" fill="#e2f4f2"/>
<rect x="456.0" y="954.9" width="12.0" height="12.7" fill="#fee391"/>
<rect x="467.4" y="954.9" width="23.4" height="12.7" fill="#fed281"/>
<rect x="490.2" y="954.9" width="23.4" height="12.7" fill="#fdbe72"/>
<rect x="513.0" y="954.9" width="12.0" height="12.7" fill="#fed281"/>
<rect x="524.4" y="954.9" width="12.0" height="12.7" fill="#fdbe72"/>
<rect x="535.8" y="954.9" width="34.8" height="12.7" fill="#fed281"/>
<rect x="205.2" y="967.0" width="103.2" height="12.7" fill="#fee391"/>
<rect x="307.8" y="967.0" width="23.4" height="12.7" fill="#e2f4f2"/>
<rect x="330.6" y="967.0" width="34.8" height="12.7" fill="#d0ebf8"/>
<rect x="364.8" y="967.0" width="57.6" height="12.7" fill="#a9d8e7"/>
<rect x="421.8" y="967.0" width="23.4" height="12.7" fill="#bde2f1"/>
<rect x="444.6" y="967.0" width="12.0" height="12.7" fill="#e2f4f2"/>
<rect x="456.0" y="967.0" width="80.4" height="12.7" fill="#fed281"/>
<rect x="535.8" y="967.0" width="23.4" height="12.7" fill="#d0ebf8"/>
<rect x="558.6" y="967.0" width="12.0" height="12.7" fill="#fed281"/>
<rect x="205.2" y="979.1" width="69.0" height="12.7" fill="#fee391"/>
<rect x="273.6" y="979.1" width="12.0" height="12.7" fill="#fed281"/>
<rect x="285.0" y="979.1" width="23.4" height="12.7" fill="#fee391"/>
<rect x="307.8" y="979.1" width="23.4" height="12.7" fill="#e2f4f2"/>
<rect x="330.6" y="979.1" width="34.8" height="12.7" fill="#d0ebf8"/>
<rect x="364.8" y="979.1" width="57.6" height="12.7" fill="#a9d8e7"/>
<rect x="421.8" y="979.1" width="23.4" height="12.7" fill="#bde2f1"/>
<rect x="444.6" y="979.1" width="12.0" height="12.7" fill="#e2f4f2"/>
<rect x="456.0" y="979.1" width="12.0" height="12.7" fill="#fee391"/>
<rect x="467.4" y="979.1" width="69.0" height="12.7" fill="#fed281"/>
<rect x="535.8" y="979.1" width="23.4" height="12.7" fill="#d0ebf8"/>
<rect x="205.2" y="991.2" width="46.2" height="12.7" fill="#fee391"/>
<rect x="250.8" y="991.2" width="12.0" height="12.7" fill="#fcab60"/>
<rect x="262.2" y="991.2" width="12.0" height="12.7" fill="#fdbe72"/>
<rect x="273.6" y="991.2" width="12.0" height="12.7" fill="#fed281"/>
<rect x="285.0" y="991.2" width="23.4" height="12.7" fill="#fee391"/>
<rect x="307.8" y="991.2" width="12.0" height="12.7" fill="#e2f4f2"/>
<rect x="319.2" y="991.2" width="12.0" height="12.7" fill="#d0ebf8"/>
<rect x="330.6" y="991.2" width="23.4" height="12.7" fill="#bde2f1"/>
<rect x="353.4" y="991.2" width="12.0" height="12.7" fill="#a9d8e7"/>
<rect x="364.8" y="991.2" width="12.0" height="12.7" fill="#94c8de"/>
<rect x="376.2" y="991.2" width="12.0" height="12.7" fill="#a9d8e7"/>
<rect x="387.6" y="991.2" width="23.4" height="12.7" fill="#94c8de"/>
<rect x="410.4" y="991.2" width="12.0" height="12.7" fill="#bde2f1"/>
<rect x="421.8" y="991.2" width="23.4" height="12.7" fill="#d0ebf8"/>
<rect x="444.6" y="991.2" width="34.8" height="12.7" fill="#e2f4f2"/>
<rect x="478.8" y="991.2" width="23.4" height="12.7" fill="#fdbe72"/>
<rect x="501.6" y="991.2" width="12.0" height="12.7" fill="#fcab60"/>
<rect x="513.0" y="991.2" width="34.8" height="12.7" fill="#f7814a"/>
<rect x="547.2" y="991.2" width="12.0" height="12.7" fill="#d0ebf8"/>
<rect x="205.2" y="1003.3" width="46.2" height="12.7" fill="#fee391"/>
<rect x="250.8" y="1003.3" width="12.0" height="12.7" fill="#fb9656"/>
<rect x="262.2" y="1003.3" width="12.0" height="12.7" fill="#fdbe72"/>
<rect x="273.6" y="1003.3" width="12.0" height="12.7" fill="#fed281"/>
<rect x="285.0" y="1003.3" width="23.4" height="12.7" fill="#fee391"/>
<rect x="307.8" y="1003.3" width="12.0" height="12.7" fill="#e2f4f2"/>
<rect x="319.2" y="1003.3" width="12.0" height="12.7" fill="#d0ebf8"/>
<rect x="330.6" y="1003.3" width="34.8" height="12.7" fill="#bde2f1"/>
<rect x="364.8" y="1003.3" width="12.0" height="12.7" fill="#94c8de"/>
<rect x="376.2" y="1003.3" width="12.0" height="12.7" fill="#a9d8e7"/>
<rect x="387.6" y="1003.3" width="23.4" height="12.7" fill="#94c8de"/>
<rect x="410.4" y="1003.3" width="12.0" height="12.7" fill="#bde2f1"/>
<rect x="421.8" y="1003.3" width="23.4" height="12.7" fill="#d0ebf8"/>
<rect x="444.6" y="1003.3" width="12.0" height="12.7" fill="#e2f4f2"/>
<rect x="456.0" y="1003.3" width="23.4" height="12.7" fill="#fee391"/>
<rect x="478.8" y="1003.3" width="12.0" height="12.7" fill="#fdbe72"/>
<rect x="490.2" y="1003.3" width="23.4" height="12.7" fill="#fcab60"/>
<rect x="513.0" y="1003.3" width="34.8" height="12.7" fill="#f7814a"/>
<rect x="205.2" y="1015.4" width="46.2" height="12.7" fill="#fee391"/>
<rect x="250.8" y="1015.4" width="12.0" height="12.7" fill="#f7814a"/>
<rect x="262.2" y="1015.4" width="12.0" height="12.7" fill="#fdbe72"/>
<rect x="273.6" y="1015.4" width="12.0" height="12.7" fill="#fed281"/>
<rect x="285.0" y="1015.4" width="23.4" height="12.7" fill="#fee391"/>
<rect x="307.8" y="1015.4" width="12.0" height="12.7" fill="#e2f4f2"/>
<rect x="319.2" y="1015.4" width="23.4" height="12.7" fill="#d0ebf8"/>
<rect x="342.0" y="1015.4" width="23.4" height="12.7" fill="#bde2f1"/>
<rect x="364.8" y="1015.4" width="23.4" height="12.7" fill="#a9d8e7"/>
<rect x="387.6" y="1015.4" width="12.0" height="12.7" fill="#94c8de"/>
<rect x="399.0" y="1015.4" width="12.0" height="12.7" fill="#a9d8e7"/>
<rect x="410.4" y="1015.4" width="12.0" height="12.7" fill="#bde2f1"/>
<rect x="421.8" y="1015.4" width="23.4" height="12.7" fill="#d0ebf8"/>
<rect x="444.6" y="1015.4" width="12.0" height="12.7" fill="#fee391"/>
<rect x="456.0" y="1015.4" width="34.8" height="12.7" fill="#fed281"/>
<rect x="490.2" y="1015.4" width="23.4" height="12.7" fill="#fcab60"/>
</g>
<polyline points="64.7,549.5 65.1,560.9 62.1,572.8 60.7,582.8 63.1,588.7 69.0,597.6 77.0,603.6 81.9,608.6 88.9,612.5 98.8,608.6 108.8,603.0 115.7,603.6 122.7,608.6 130.6,614.5 140.5,624.5 142.5,614.5 150.5,606.6 155.4,596.7 158.4,587.7 166.3,584.7 174.3,582.8 184.2,580.8 194.1,572.8 200.1,568.9 203.5,571.0 196.1,580.8 202.1,588.7 198.1,600.6 200.1,608.6 206.1,607.6 206.1,598.6 203.1,591.7 205.5,586.0 214.0,582.8 218.0,578.8 216.0,573.8 220.0,571.8 221.9,578.8 229.9,580.8 235.8,582.8 238.8,591.7 245.8,591.7 261.7,590.7 267.6,594.7 275.6,596.7 285.5,590.7 297.4,589.7 307.3,589.7 299.4,591.7 305.3,598.6 313.3,602.6 321.2,606.6 321.2,616.5 329.2,617.5 341.1,622.5 347.0,628.5 349.2,636.4 359.1,642.3 367.1,647.3 386.9,647.3 406.8,653.3 422.7,664.2 434.6,674.1 440.5,690.0 447.5,698.9 446.5,707.9 438.5,715.8 430.5,725.0 440.5,723.7 450.5,721.8 464.4,723.7 461.4,737.6 466.3,729.7 476.3,727.7 498.1,735.7 505.1,738.6 510.0,747.6 509.0,754.5 520.0,749.6 533.9,753.5 545.8,756.5 559.7,754.5 571.6,763.5 585.5,775.4 595.4,782.3 605.4,781.3 613.3,783.3 618.3,801.9 620.2,813.8 617.3,823.7 611.3,835.6 603.4,847.6 595.4,853.5 585.5,867.4 581.5,875.4 572.6,883.3 571.6,897.2 572.6,915.1 569.6,929.0 565.6,940.9 564.6,956.8 557.7,964.7 551.7,974.6 549.7,988.5 537.8,994.5 537.8,999.5 525.9,1000.5 512.0,1000.5 506.1,1002.5 502.1,1006.4 490.2,1010.4 482.2,1016.3 472.3,1024.3 470.0,1027.0" fill="none" stroke="#808080" stroke-width="2" stroke-linejoin="round"/>
<polyline points="211.5,1027.0 212.0,1024.3 214.0,1000.5 218.0,982.6 217.0,964.7 216.0,954.8 214.0,942.9 206.1,936.9 198.1,929.0 186.2,923.0 174.3,915.1 166.3,912.1 154.4,903.2 147.5,893.2 146.5,885.3 140.5,871.4 132.6,857.5 126.6,845.6 122.7,835.6 116.7,821.7 110.7,815.8 106.8,807.8 100.8,799.9 90.9,793.0 94.9,786.0 92.9,783.3 88.9,773.4 92.9,765.5 102.8,757.5 94.9,747.6 96.8,733.7 100.8,721.8 106.8,713.8 114.7,705.9 118.7,699.9 120.7,692.0 126.6,688.0 132.5,684.0 136.5,676.1 134.5,668.1 134.5,656.2 133.5,642.3 134.5,632.5 132.6,632.5 128.6,626.5 123.7,619.5 120.7,614.5 112.7,610.5 106.8,615.5 99.8,622.5 104.8,628.4 93.9,632.4 90.9,625.5 81.9,618.5 71.0,619.5 61.1,615.5 59.1,606.6 46.5,596.7" fill="none" stroke="#808080" stroke-width="2" stroke-linejoin="round"/>
<polyline points="311.3,590.0 322.0,589.0 321.5,596.5 315.5,597.5 313.5,593.5 311.3,590.0" fill="none" stroke="#808080" stroke-width="2" stroke-linejoin="round"/>
<polygon points="106.8,789.1 108.8,777.4 110.7,763.5 114.7,755.5 113.7,745.6 116.7,737.6 116.7,727.7 122.7,721.8 128.6,713.8 134.6,705.9 140.5,699.9 144.5,694.0 150.5,695.9 158.4,688.0 162.4,680.1 166.3,688.0 168.3,695.9 178.3,695.9 186.2,691.0 202.1,689.0 221.9,691.0 233.9,688.0 237.8,684.0 245.8,686.0 253.7,684.0 261.7,685.0 267.6,694.0 275.6,701.9 285.5,695.9 293.4,692.0 285.5,690.0 283.5,680.1 285.5,670.1 279.5,670.1 289.4,669.1 297.4,676.1 301.4,669.1 309.3,666.2 321.2,664.2 325.2,658.2 331.2,656.2 337.1,659.2 340.1,664.2 339.1,672.1 335.1,680.1 337.1,688.0 336.1,695.9 341.1,701.9 347.2,703.9 355.1,684.0 353.1,695.9 365.1,695.9 377.0,696.9 377.0,688.0 390.9,689.0 396.8,694.0 406.8,692.0 414.7,701.9 420.7,713.8 422.7,725.7 429.6,726.7 426.6,733.7 414.7,739.6 426.6,737.6 432.6,731.7 436.6,733.7 430.6,745.6 436.6,749.6 440.5,741.6 454.5,741.6 457.4,745.6 453.4,753.5 452.4,767.4 456.4,779.3 466.3,780.3 480.2,787.3 486.2,793.9 487.2,805.9 488.2,815.8 486.2,822.7 482.2,829.7 486.2,837.6 489.2,849.5 488.2,861.5 488.6,873.4 490.2,885.3 491.2,899.2 484.2,901.2 478.3,907.1 474.3,911.1 466.3,911.1 456.4,915.1 444.5,919.0 440.5,923.0 430.6,928.0 420.7,927.0 412.7,932.9 410.7,940.9 406.8,938.9 406.8,925.0 400.8,921.0 398.8,913.1 394.9,909.1 384.9,911.1 382.9,905.1 389.9,899.2 388.9,893.2 382.9,894.2 377.0,896.2 369.0,891.2 361.1,889.3 355.1,895.2 347.2,895.2 343.1,905.1 339.1,912.1 341.1,921.0 339.1,929.0 346.0,929.0 345.0,936.9 337.1,938.9 325.2,940.9 319.2,950.8 312.3,960.7 311.3,968.7 303.4,971.7 295.4,974.6 283.5,968.7 279.5,960.7 275.6,954.8 263.6,949.8 254.7,954.8 253.7,948.8 249.7,936.9 245.8,931.0 240.8,927.0 237.8,917.1 229.9,909.1 227.9,901.2 221.9,895.2 214.0,892.2 208.0,895.2 208.0,907.1 204.1,905.1 198.1,909.1 194.1,907.1 186.2,901.2 178.3,896.2 170.3,897.2 166.3,893.2 159.4,883.3 155.4,877.3 152.5,867.4 146.5,859.5 138.6,851.5 137.6,839.6 132.6,829.7 126.6,819.8 126.6,811.8 122.7,803.9 116.7,797.9 108.8,793.9" fill="none" stroke="#000" stroke-width="4.6" stroke-linejoin="round"/>
<line x1="126.6" y1="811.8" x2="486.2" y2="811.8" stroke="#000" stroke-width="4"/>
</g>
<circle cx="64.5" cy="549.8" r="4.6" fill="#000"/>
<circle cx="201.2" cy="574.0" r="4.6" fill="#000"/>
<circle cx="64.5" cy="598.2" r="4.6" fill="#000"/>
<circle cx="269.5" cy="598.2" r="4.6" fill="#000"/>
<circle cx="292.3" cy="598.2" r="4.6" fill="#000"/>
<circle cx="155.6" cy="622.4" r="4.6" fill="#000"/>
<circle cx="178.4" cy="622.4" r="4.6" fill="#000"/>
<circle cx="269.5" cy="622.4" r="4.6" fill="#000"/>
<circle cx="292.3" cy="622.4" r="4.6" fill="#000"/>
<circle cx="337.9" cy="622.4" r="4.6" fill="#000"/>
<circle cx="178.4" cy="646.6" r="4.6" fill="#000"/>
<circle cx="201.2" cy="646.6" r="4.6" fill="#000"/>
<circle cx="178.4" cy="670.8" r="4.6" fill="#000"/>
<circle cx="406.2" cy="670.8" r="4.6" fill="#000"/>
<circle cx="429.0" cy="670.8" r="4.6" fill="#000"/>
<circle cx="201.2" cy="695.0" r="4.6" fill="#000"/>
<circle cx="224.0" cy="695.0" r="4.6" fill="#000"/>
<circle cx="269.5" cy="695.0" r="4.6" fill="#000"/>
<circle cx="429.0" cy="695.0" r="4.6" fill="#000"/>
<circle cx="178.4" cy="719.2" r="4.6" fill="#000"/>
<circle cx="201.2" cy="719.2" r="4.6" fill="#000"/>
<circle cx="224.0" cy="719.2" r="4.6" fill="#000"/>
<circle cx="269.5" cy="719.2" r="4.6" fill="#000"/>
<circle cx="110.1" cy="743.4" r="4.6" fill="#000"/>
<circle cx="155.6" cy="743.4" r="4.6" fill="#000"/>
<circle cx="178.4" cy="743.4" r="4.6" fill="#000"/>
<circle cx="269.5" cy="743.4" r="4.6" fill="#000"/>
<circle cx="155.6" cy="767.6" r="4.6" fill="#000"/>
<circle cx="178.4" cy="767.6" r="4.6" fill="#000"/>
<circle cx="201.2" cy="767.6" r="4.6" fill="#000"/>
<circle cx="224.0" cy="767.6" r="4.6" fill="#000"/>
<circle cx="246.7" cy="767.6" r="4.6" fill="#000"/>
<circle cx="269.5" cy="767.6" r="4.6" fill="#000"/>
<circle cx="292.3" cy="767.6" r="4.6" fill="#000"/>
<circle cx="315.1" cy="767.6" r="4.6" fill="#000"/>
<circle cx="337.9" cy="767.6" r="4.6" fill="#000"/>
<circle cx="383.4" cy="767.6" r="4.6" fill="#000"/>
<circle cx="155.6" cy="791.8" r="4.6" fill="#000"/>
<circle cx="178.4" cy="791.8" r="4.6" fill="#000"/>
<circle cx="201.2" cy="791.8" r="4.6" fill="#000"/>
<circle cx="224.0" cy="791.8" r="4.6" fill="#000"/>
<circle cx="246.7" cy="791.8" r="4.6" fill="#000"/>
<circle cx="315.1" cy="791.8" r="4.6" fill="#000"/>
<circle cx="337.9" cy="791.8" r="4.6" fill="#000"/>
<circle cx="360.6" cy="791.8" r="4.6" fill="#000"/>
<circle cx="383.4" cy="791.8" r="4.6" fill="#000"/>
<circle cx="132.8" cy="816.0" r="4.6" fill="#000"/>
<circle cx="178.4" cy="816.0" r="4.6" fill="#000"/>
<circle cx="201.2" cy="816.0" r="4.6" fill="#000"/>
<circle cx="224.0" cy="816.0" r="4.6" fill="#000"/>
<circle cx="246.7" cy="816.0" r="4.6" fill="#000"/>
<circle cx="429.0" cy="816.0" r="4.6" fill="#000"/>
<circle cx="132.8" cy="840.2" r="4.6" fill="#000"/>
<circle cx="155.6" cy="840.2" r="4.6" fill="#000"/>
<circle cx="178.4" cy="840.2" r="4.6" fill="#000"/>
<circle cx="201.2" cy="840.2" r="4.6" fill="#000"/>
<circle cx="224.0" cy="840.2" r="4.6" fill="#000"/>
<circle cx="429.0" cy="840.2" r="4.6" fill="#000"/>
<circle cx="588.4" cy="840.2" r="4.6" fill="#000"/>
<circle cx="565.7" cy="864.4" r="4.6" fill="#000"/>
<circle cx="588.4" cy="864.4" r="4.6" fill="#000"/>
<circle cx="155.6" cy="888.6" r="4.6" fill="#000"/>
<circle cx="474.5" cy="888.6" r="4.6" fill="#000"/>
<circle cx="497.3" cy="888.6" r="4.6" fill="#000"/>
<circle cx="565.7" cy="888.6" r="4.6" fill="#000"/>
<circle cx="269.5" cy="912.8" r="4.6" fill="#000"/>
<circle cx="292.3" cy="912.8" r="4.6" fill="#000"/>
<circle cx="315.1" cy="912.8" r="4.6" fill="#000"/>
<circle cx="451.8" cy="912.8" r="4.6" fill="#000"/>
<circle cx="474.5" cy="912.8" r="4.6" fill="#000"/>
<circle cx="497.3" cy="912.8" r="4.6" fill="#000"/>
<circle cx="565.7" cy="912.8" r="4.6" fill="#000"/>
<circle cx="224.0" cy="937.0" r="4.6" fill="#000"/>
<circle cx="246.7" cy="937.0" r="4.6" fill="#000"/>
<circle cx="269.5" cy="937.0" r="4.6" fill="#000"/>
<circle cx="565.7" cy="937.0" r="4.6" fill="#000"/>
<circle cx="224.0" cy="961.2" r="4.6" fill="#000"/>
<circle cx="246.7" cy="961.2" r="4.6" fill="#000"/>
<circle cx="383.4" cy="961.2" r="4.6" fill="#000"/>
<circle cx="406.2" cy="961.2" r="4.6" fill="#000"/>
<circle cx="360.6" cy="985.4" r="4.6" fill="#000"/>
<circle cx="383.4" cy="985.4" r="4.6" fill="#000"/>
<circle cx="406.2" cy="985.4" r="4.6" fill="#000"/>
<circle cx="429.0" cy="985.4" r="4.6" fill="#000"/>
<circle cx="224.0" cy="1009.6" r="4.6" fill="#000"/>
<circle cx="246.7" cy="1009.6" r="4.6" fill="#000"/>
<circle cx="269.5" cy="1009.6" r="4.6" fill="#000"/>
<circle cx="337.9" cy="1009.6" r="4.6" fill="#000"/>
<circle cx="360.6" cy="1009.6" r="4.6" fill="#000"/>
<circle cx="383.4" cy="1009.6" r="4.6" fill="#000"/>
<rect x="47.5" y="549.5" width="604.0" height="476.0" fill="none" stroke="#262626" stroke-width="2.2"/>
<path d="M333.0 549.5 v7 M333.0 1025.5 v-7 M47.5 720.5 h7 M651.5 720.5 h-7" stroke="#262626" stroke-width="2.2" fill="none"/>
<text transform="translate(621.0 611.1) scale(1 1.045)" font-size="32" text-anchor="end" fill="#000">P_oceanic</text>
<g clip-path="url(#framee)"><g clip-path="url(#lande)" shape-rendering="crispEdges">
<rect x="745.6" y="543.5" width="12.0" height="12.7" fill="#fed281"/>
<rect x="757.0" y="543.5" width="23.4" height="12.7" fill="#fcab60"/>
<rect x="745.6" y="555.6" width="23.4" height="12.7" fill="#fed281"/>
<rect x="768.4" y="555.6" width="12.0" height="12.7" fill="#fcab60"/>
<rect x="882.4" y="555.6" width="34.8" height="12.7" fill="#d0ebf8"/>
<rect x="745.6" y="567.7" width="23.4" height="12.7" fill="#fee391"/>
<rect x="848.2" y="567.7" width="23.4" height="12.7" fill="#fee391"/>
<rect x="871.0" y="567.7" width="12.0" height="12.7" fill="#e2f4f2"/>
<rect x="882.4" y="567.7" width="34.8" height="12.7" fill="#d0ebf8"/>
<rect x="916.6" y="567.7" width="12.0" height="12.7" fill="#e2f4f2"/>
<rect x="928.0" y="567.7" width="23.4" height="12.7" fill="#fee391"/>
<rect x="745.6" y="579.8" width="23.4" height="12.7" fill="#fee391"/>
<rect x="768.4" y="579.8" width="12.0" height="12.7" fill="#fed281"/>
<rect x="836.8" y="579.8" width="12.0" height="12.7" fill="#bde2f1"/>
<rect x="848.2" y="579.8" width="23.4" height="12.7" fill="#fee391"/>
<rect x="871.0" y="579.8" width="12.0" height="12.7" fill="#e2f4f2"/>
<rect x="882.4" y="579.8" width="23.4" height="12.7" fill="#fee391"/>
<rect x="905.2" y="579.8" width="12.0" height="12.7" fill="#d0ebf8"/>
<rect x="916.6" y="579.8" width="12.0" height="12.7" fill="#e2f4f2"/>
<rect x="928.0" y="579.8" width="91.8" height="12.7" fill="#fee391"/>
<rect x="745.6" y="591.9" width="12.0" height="12.7" fill="#bde2f1"/>
<rect x="757.0" y="591.9" width="23.4" height="12.7" fill="#fed281"/>
<rect x="779.8" y="591.9" width="12.0" height="12.7" fill="#e2f4f2"/>
<rect x="791.2" y="591.9" width="23.4" height="12.7" fill="#a9d8e7"/>
<rect x="814.0" y="591.9" width="57.6" height="12.7" fill="#bde2f1"/>
<rect x="871.0" y="591.9" width="34.8" height="12.7" fill="#a9d8e7"/>
<rect x="905.2" y="591.9" width="23.4" height="12.7" fill="#d0ebf8"/>
<rect x="928.0" y="591.9" width="91.8" height="12.7" fill="#fee391"/>
<rect x="1019.2" y="591.9" width="12.0" height="12.7" fill="#e2f4f2"/>
<rect x="745.6" y="604.0" width="23.4" height="12.7" fill="#d0ebf8"/>
<rect x="768.4" y="604.0" width="23.4" height="12.7" fill="#e2f4f2"/>
<rect x="791.2" y="604.0" width="23.4" height="12.7" fill="#a9d8e7"/>
<rect x="814.0" y="604.0" width="23.4" height="12.7" fill="#bde2f1"/>
<rect x="836.8" y="604.0" width="34.8" height="12.7" fill="#94c8de"/>
<rect x="871.0" y="604.0" width="12.0" height="12.7" fill="#81b8d7"/>
<rect x="882.4" y="604.0" width="12.0" height="12.7" fill="#94c8de"/>
<rect x="893.8" y="604.0" width="23.4" height="12.7" fill="#e2f4f2"/>
<rect x="916.6" y="604.0" width="34.8" height="12.7" fill="#fee391"/>
<rect x="950.8" y="604.0" width="57.6" height="12.7" fill="#d0ebf8"/>
<rect x="1007.8" y="604.0" width="23.4" height="12.7" fill="#e2f4f2"/>
<rect x="1030.6" y="604.0" width="23.4" height="12.7" fill="#fee391"/>
<rect x="745.6" y="616.1" width="23.4" height="12.7" fill="#d0ebf8"/>
<rect x="768.4" y="616.1" width="91.8" height="12.7" fill="#94c8de"/>
<rect x="859.6" y="616.1" width="12.0" height="12.7" fill="#81b8d7"/>
<rect x="871.0" y="616.1" width="12.0" height="12.7" fill="#94c8de"/>
<rect x="882.4" y="616.1" width="12.0" height="12.7" fill="#a9d8e7"/>
<rect x="893.8" y="616.1" width="23.4" height="12.7" fill="#e2f4f2"/>
<rect x="916.6" y="616.1" width="34.8" height="12.7" fill="#fee391"/>
<rect x="950.8" y="616.1" width="57.6" height="12.7" fill="#d0ebf8"/>
<rect x="1007.8" y="616.1" width="23.4" height="12.7" fill="#e2f4f2"/>
<rect x="1030.6" y="616.1" width="23.4" height="12.7" fill="#fee391"/>
<rect x="1053.4" y="616.1" width="12.0" height="12.7" fill="#e2f4f2"/>
<rect x="768.4" y="628.2" width="46.2" height="12.7" fill="#94c8de"/>
<rect x="814.0" y="628.2" width="23.4" height="12.7" fill="#6ca4cd"/>
<rect x="836.8" y="628.2" width="23.4" height="12.7" fill="#94c8de"/>
<rect x="859.6" y="628.2" width="12.0" height="12.7" fill="#a9d8e7"/>
<rect x="871.0" y="628.2" width="12.0" height="12.7" fill="#e2f4f2"/>
<rect x="882.4" y="628.2" width="12.0" height="12.7" fill="#bde2f1"/>
<rect x="893.8" y="628.2" width="12.0" height="12.7" fill="#fdbe72"/>
<rect x="905.2" y="628.2" width="12.0" height="12.7" fill="#fed281"/>
<rect x="916.6" y="628.2" width="12.0" height="12.7" fill="#fee391"/>
<rect x="928.0" y="628.2" width="46.2" height="12.7" fill="#d0ebf8"/>
<rect x="973.6" y="628.2" width="103.2" height="12.7" fill="#e2f4f2"/>
<rect x="814.0" y="640.3" width="12.0" height="12.7" fill="#6ca4cd"/>
<rect x="825.4" y="640.3" width="23.4" height="12.7" fill="#81b8d7"/>
<rect x="848.2" y="640.3" width="12.0" height="12.7" fill="#94c8de"/>
<rect x="859.6" y="640.3" width="12.0" height="12.7" fill="#bde2f1"/>
<rect x="871.0" y="640.3" width="12.0" height="12.7" fill="#e2f4f2"/>
<rect x="882.4" y="640.3" width="12.0" height="12.7" fill="#bde2f1"/>
<rect x="893.8" y="640.3" width="23.4" height="12.7" fill="#fdbe72"/>
<rect x="916.6" y="640.3" width="12.0" height="12.7" fill="#fee391"/>
<rect x="928.0" y="640.3" width="23.4" height="12.7" fill="#d0ebf8"/>
<rect x="950.8" y="640.3" width="12.0" height="12.7" fill="#bde2f1"/>
<rect x="962.2" y="640.3" width="23.4" height="12.7" fill="#d0ebf8"/>
<rect x="985.0" y="640.3" width="91.8" height="12.7" fill="#e2f4f2"/>
<rect x="1076.2" y="640.3" width="12.0" height="12.7" fill="#fee391"/>
<rect x="1087.6" y="640.3" width="12.0" height="12.7" fill="#fed281"/>
<rect x="1099.0" y="640.3" width="12.0" height="12.7" fill="#fdbe72"/>
<rect x="1110.4" y="640.3" width="23.4" height="12.7" fill="#fee391"/>
<rect x="825.4" y="652.4" width="23.4" height="12.7" fill="#bde2f1"/>
<rect x="848.2" y="652.4" width="12.0" height="12.7" fill="#e2f4f2"/>
<rect x="859.6" y="652.4" width="12.0" height="12.7" fill="#fdbe72"/>
<rect x="871.0" y="652.4" width="12.0" height="12.7" fill="#e2f4f2"/>
<rect x="882.4" y="652.4" width="23.4" height="12.7" fill="#fdbe72"/>
<rect x="905.2" y="652.4" width="12.0" height="12.7" fill="#fed281"/>
<rect x="916.6" y="652.4" width="12.0" height="12.7" fill="#fee391"/>
<rect x="928.0" y="652.4" width="23.4" height="12.7" fill="#d0ebf8"/>
<rect x="950.8" y="652.4" width="12.0" height="12.7" fill="#bde2f1"/>
<rect x="962.2" y="652.4" width="12.0" height="12.7" fill="#d0ebf8"/>
<rect x="973.6" y="652.4" width="12.0" height="12.7" fill="#e2f4f2"/>
<rect x="985.0" y="652.4" width="23.4" height="12.7" fill="#fee391"/>
<rect x="1007.8" y="652.4" width="57.6" height="12.7" fill="#e2f4f2"/>
<rect x="1064.8" y="652.4" width="23.4" height="12.7" fill="#fee391"/>
<rect x="1087.6" y="652.4" width="12.0" height="12.7" fill="#fed281"/>
<rect x="1099.0" y="652.4" width="12.0" height="12.7" fill="#fdbe72"/>
<rect x="1110.4" y="652.4" width="23.4" height="12.7" fill="#fee391"/>
<rect x="1133.2" y="652.4" width="12.0" height="12.7" fill="#fed281"/>
<rect x="814.0" y="664.5" width="12.0" height="12.7" fill="#cc2127"/>
<rect x="825.4" y="664.5" width="23.4" height="12.7" fill="#fed281"/>
<rect x="848.2" y="664.5" width="12.0" height="12.7" fill="#fee391"/>
<rect x="859.6" y="664.5" width="12.0" height="12.7" fill="#fdbe72"/>
<rect x="871.0" y="664.5" width="23.4" height="12.7" fill="#f7814a"/>
<rect x="893.8" y="664.5" width="23.4" height="12.7" fill="#fed281"/>
<rect x="916.6" y="664.5" width="12.0" height="12.7" fill="#fee391"/>
<rect x="928.0" y="664.5" width="46.2" height="12.7" fill="#d0ebf8"/>
<rect x="973.6" y="664.5" width="12.0" height="12.7" fill="#fee391"/>
<rect x="985.0" y="664.5" width="23.4" height="12.7" fill="#fed281"/>
<rect x="1007.8" y="664.5" width="34.8" height="12.7" fill="#d0ebf8"/>
<rect x="1042.0" y="664.5" width="23.4" height="12.7" fill="#e2f4f2"/>
<rect x="1064.8" y="664.5" width="57.6" height="12.7" fill="#fee391"/>
<rect x="1121.8" y="664.5" width="23.4" height="12.7" fill="#fed281"/>
<rect x="802.6" y="676.6" width="12.0" height="12.7" fill="#fdbe72"/>
<rect x="814.0" y="676.6" width="23.4" height="12.7" fill="#cc2127"/>
<rect x="836.8" y="676.6" width="23.4" height="12.7" fill="#fee391"/>
<rect x="859.6" y="676.6" width="12.0" height="12.7" fill="#fdbe72"/>
<rect x="871.0" y="676.6" width="23.4" height="12.7" fill="#f7814a"/>
<rect x="893.8" y="676.6" width="23.4" height="12.7" fill="#fed281"/>
<rect x="916.6" y="676.6" width="12.0" height="12.7" fill="#fee391"/>
<rect x="928.0" y="676.6" width="57.6" height="12.7" fill="#e2f4f2"/>
<rect x="985.0" y="676.6" width="23.4" height="12.7" fill="#fed281"/>
<rect x="1007.8" y="676.6" width="57.6" height="12.7" fill="#d0ebf8"/>
<rect x="1064.8" y="676.6" width="34.8" height="12.7" fill="#e2f4f2"/>
<rect x="1099.0" y="676.6" width="46.2" height="12.7" fill="#fee391"/>
<rect x="1144.6" y="676.6" width="12.0" height="12.7" fill="#e2f4f2"/>
<rect x="791.2" y="688.7" width="34.8" height="12.7" fill="#fdbe72"/>
<rect x="825.4" y="688.7" width="23.4" height="12.7" fill="#f16641"/>
<rect x="848.2" y="688.7" width="46.2" height="12.7" fill="#fb9656"/>
<rect x="893.8" y="688.7" width="23.4" height="12.7" fill="#fed281"/>
<rect x="916.6" y="688.7" width="12.0" height="12.7" fill="#fdbe72"/>
<rect x="928.0" y="688.7" width="23.4" height="12.7" fill="#fed281"/>
<rect x="950.8" y="688.7" width="23.4" height="12.7" fill="#d0ebf8"/>
<rect x="973.6" y="688.7" width="12.0" height="12.7" fill="#e2f4f2"/>
<rect x="985.0" y="688.7" width="23.4" height="12.7" fill="#fee391"/>
<rect x="1007.8" y="688.7" width="80.4" height="12.7" fill="#d0ebf8"/>
<rect x="1087.6" y="688.7" width="12.0" height="12.7" fill="#e2f4f2"/>
<rect x="1099.0" y="688.7" width="34.8" height="12.7" fill="#fee391"/>
<rect x="1133.2" y="688.7" width="23.4" height="12.7" fill="#e2f4f2"/>
<rect x="791.2" y="700.8" width="23.4" height="12.7" fill="#fdbe72"/>
<rect x="814.0" y="700.8" width="12.0" height="12.7" fill="#fcab60"/>
<rect x="825.4" y="700.8" width="12.0" height="12.7" fill="#f16641"/>
<rect x="836.8" y="700.8" width="57.6" height="12.7" fill="#fb9656"/>
<rect x="893.8" y="700.8" width="57.6" height="12.7" fill="#fdbe72"/>
<rect x="950.8" y="700.8" width="23.4" height="12.7" fill="#d0ebf8"/>
<rect x="973.6" y="700.8" width="12.0" height="12.7" fill="#e2f4f2"/>
<rect x="985.0" y="700.8" width="12.0" height="12.7" fill="#fed281"/>
<rect x="996.4" y="700.8" width="12.0" height="12.7" fill="#fee391"/>
<rect x="1007.8" y="700.8" width="80.4" height="12.7" fill="#d0ebf8"/>
<rect x="1087.6" y="700.8" width="12.0" height="12.7" fill="#e2f4f2"/>
<rect x="1099.0" y="700.8" width="34.8" height="12.7" fill="#fee391"/>
<rect x="1133.2" y="700.8" width="23.4" height="12.7" fill="#e2f4f2"/>
<rect x="779.8" y="712.9" width="12.0" height="12.7" fill="#fb9656"/>
<rect x="791.2" y="712.9" width="34.8" height="12.7" fill="#fcab60"/>
<rect x="825.4" y="712.9" width="34.8" height="12.7" fill="#fb9656"/>
<rect x="859.6" y="712.9" width="12.0" height="12.7" fill="#fcab60"/>
<rect x="871.0" y="712.9" width="46.2" height="12.7" fill="#fdbe72"/>
<rect x="916.6" y="712.9" width="34.8" height="12.7" fill="#fcab60"/>
<rect x="950.8" y="712.9" width="23.4" height="12.7" fill="#d0ebf8"/>
<rect x="973.6" y="712.9" width="34.8" height="12.7" fill="#fee391"/>
<rect x="1007.8" y="712.9" width="69.0" height="12.7" fill="#d0ebf8"/>
<rect x="1076.2" y="712.9" width="23.4" height="12.7" fill="#e2f4f2"/>
<rect x="1099.0" y="712.9" width="34.8" height="12.7" fill="#fee391"/>
<rect x="1133.2" y="712.9" width="69.0" height="12.7" fill="#e2f4f2"/>
<rect x="779.8" y="725.0" width="23.4" height="12.7" fill="#fb9656"/>
<rect x="802.6" y="725.0" width="12.0" height="12.7" fill="#f16641"/>
<rect x="814.0" y="725.0" width="12.0" height="12.7" fill="#fcab60"/>
<rect x="825.4" y="725.0" width="34.8" height="12.7" fill="#fb9656"/>
<rect x="859.6" y="725.0" width="12.0" height="12.7" fill="#fdbe72"/>
<rect x="871.0" y="725.0" width="23.4" height="12.7" fill="#e2f4f2"/>
<rect x="893.8" y="725.0" width="34.8" height="12.7" fill="#fcab60"/>
<rect x="928.0" y="725.0" width="12.0" height="12.7" fill="#fb9656"/>
<rect x="939.4" y="725.0" width="12.0" height="12.7" fill="#fcab60"/>
<rect x="950.8" y="725.0" width="23.4" height="12.7" fill="#e2f4f2"/>
<rect x="973.6" y="725.0" width="34.8" height="12.7" fill="#fee391"/>
<rect x="1007.8" y="725.0" width="57.6" height="12.7" fill="#e2f4f2"/>
<rect x="1064.8" y="725.0" width="23.4" height="12.7" fill="#d0ebf8"/>
<rect x="1087.6" y="725.0" width="12.0" height="12.7" fill="#e2f4f2"/>
<rect x="1099.0" y="725.0" width="23.4" height="12.7" fill="#fee391"/>
<rect x="1121.8" y="725.0" width="80.4" height="12.7" fill="#e2f4f2"/>
<rect x="1201.6" y="725.0" width="12.0" height="12.7" fill="#fee391"/>
<rect x="779.8" y="737.1" width="23.4" height="12.7" fill="#fb9656"/>
<rect x="802.6" y="737.1" width="12.0" height="12.7" fill="#f7814a"/>
<rect x="814.0" y="737.1" width="12.0" height="12.7" fill="#f16641"/>
<rect x="825.4" y="737.1" width="23.4" height="12.7" fill="#fb9656"/>
<rect x="848.2" y="737.1" width="12.0" height="12.7" fill="#f7814a"/>
<rect x="859.6" y="737.1" width="12.0" height="12.7" fill="#fdbe72"/>
<rect x="871.0" y="737.1" width="23.4" height="12.7" fill="#e2f4f2"/>
<rect x="893.8" y="737.1" width="57.6" height="12.7" fill="#fcab60"/>
<rect x="950.8" y="737.1" width="23.4" height="12.7" fill="#e2f4f2"/>
<rect x="973.6" y="737.1" width="12.0" height="12.7" fill="#fee391"/>
<rect x="985.0" y="737.1" width="23.4" height="12.7" fill="#fed281"/>
<rect x="1007.8" y="737.1" width="12.0" height="12.7" fill="#fee391"/>
<rect x="1019.2" y="737.1" width="46.2" height="12.7" fill="#e2f4f2"/>
<rect x="1064.8" y="737.1" width="23.4" height="12.7" fill="#d0ebf8"/>
<rect x="1087.6" y="737.1" width="12.0" height="12.7" fill="#e2f4f2"/>
<rect x="1099.0" y="737.1" width="23.4" height="12.7" fill="#fee391"/>
<rect x="1121.8" y="737.1" width="34.8" height="12.7" fill="#e2f4f2"/>
<rect x="1156.0" y="737.1" width="80.4" height="12.7" fill="#fee391"/>
<rect x="1235.8" y="737.1" width="12.0" height="12.7" fill="#e2f4f2"/>
<rect x="1247.2" y="737.1" width="23.4" height="12.7" fill="#fee391"/>
<rect x="779.8" y="749.2" width="12.0" height="12.7" fill="#fb9656"/>
<rect x="791.2" y="749.2" width="23.4" height="12.7" fill="#fdbe72"/>
<rect x="814.0" y="749.2" width="12.0" height="12.7" fill="#fb9656"/>
<rect x="825.4" y="749.2" width="12.0" height="12.7" fill="#fdbe72"/>
<rect x="836.8" y="749.2" width="34.8" height="12.7" fill="#fed281"/>
<rect x="871.0" y="749.2" width="12.0" height="12.7" fill="#fee391"/>
<rect x="882.4" y="749.2" width="12.0" height="12.7" fill="#e2f4f2"/>
<rect x="893.8" y="749.2" width="12.0" height="12.7" fill="#fdbe72"/>
<rect x="905.2" y="749.2" width="23.4" height="12.7" fill="#fed281"/>
<rect x="928.0" y="749.2" width="23.4" height="12.7" fill="#fdbe72"/>
<rect x="950.8" y="749.2" width="23.4" height="12.7" fill="#fed281"/>
<rect x="973.6" y="749.2" width="12.0" height="12.7" fill="#fee391"/>
<rect x="985.0" y="749.2" width="34.8" height="12.7" fill="#e2f4f2"/>
<rect x="1019.2" y="749.2" width="46.2" height="12.7" fill="#d0ebf8"/>
<rect x="1064.8" y="749.2" width="23.4" height="12.7" fill="#bde2f1"/>
<rect x="1087.6" y="749.2" width="12.0" height="12.7" fill="#e2f4f2"/>
<rect x="1099.0" y="749.2" width="137.4" height="12.7" fill="#fee391"/>
<rect x="1235.8" y="749.2" width="12.0" height="12.7" fill="#e2f4f2"/>
<rect x="1247.2" y="749.2" width="23.4" height="12.7" fill="#fee391"/>
<rect x="1270.0" y="749.2" width="23.4" height="12.7" fill="#e2f4f2"/>
<rect x="779.8" y="761.3" width="46.2" height="12.7" fill="#fdbe72"/>
<rect x="825.4" y="761.3" width="12.0" height="12.7" fill="#fcab60"/>
<rect x="836.8" y="761.3" width="23.4" height="12.7" fill="#fdbe72"/>
<rect x="859.6" y="761.3" width="12.0" height="12.7" fill="#fed281"/>
<rect x="871.0" y="761.3" width="23.4" height="12.7" fill="#fee391"/>
<rect x="893.8" y="761.3" width="34.8" height="12.7" fill="#fed281"/>
<rect x="928.0" y="761.3" width="46.2" height="12.7" fill="#fdbe72"/>
<rect x="973.6" y="761.3" width="12.0" height="12.7" fill="#fed281"/>
<rect x="985.0" y="761.3" width="57.6" height="12.7" fill="#e2f4f2"/>
<rect x="1042.0" y="761.3" width="23.4" height="12.7" fill="#d0ebf8"/>
<rect x="1064.8" y="761.3" width="12.0" height="12.7" fill="#bde2f1"/>
<rect x="1076.2" y="761.3" width="12.0" height="12.7" fill="#d0ebf8"/>
<rect x="1087.6" y="761.3" width="12.0" height="12.7" fill="#e2f4f2"/>
<rect x="1099.0" y="761.3" width="34.8" height="12.7" fill="#fee391"/>
<rect x="1133.2" y="761.3" width="12.0" height="12.7" fill="#fed281"/>
<rect x="1144.6" y="761.3" width="23.4" height="12.7" fill="#fee391"/>
<rect x="1167.4" y="761.3" width="12.0" height="12.7" fill="#fed281"/>
<rect x="1178.8" y="761.3" width="91.8" height="12.7" fill="#fee391"/>
<rect x="1270.0" y="761.3" width="23.4" height="12.7" fill="#e2f4f2"/>
<rect x="1292.8" y="761.3" width="12.0" height="12.7" fill="#fee391"/>
<rect x="779.8" y="773.4" width="46.2" height="12.7" fill="#fed281"/>
<rect x="825.4" y="773.4" width="12.0" height="12.7" fill="#fcab60"/>
<rect x="836.8" y="773.4" width="34.8" height="12.7" fill="#fed281"/>
<rect x="871.0" y="773.4" width="23.4" height="12.7" fill="#fee391"/>
<rect x="893.8" y="773.4" width="46.2" height="12.7" fill="#fed281"/>
<rect x="939.4" y="773.4" width="23.4" height="12.7" fill="#fcab60"/>
<rect x="962.2" y="773.4" width="23.4" height="12.7" fill="#fdbe72"/>
<rect x="985.0" y="773.4" width="23.4" height="12.7" fill="#fed281"/>
<rect x="1007.8" y="773.4" width="23.4" height="12.7" fill="#e2f4f2"/>
<rect x="1030.6" y="773.4" width="23.4" height="12.7" fill="#fee391"/>
<rect x="1053.4" y="773.4" width="34.8" height="12.7" fill="#e2f4f2"/>
<rect x="1087.6" y="773.4" width="34.8" height="12.7" fill="#fee391"/>
<rect x="1121.8" y="773.4" width="23.4" height="12.7" fill="#fed281"/>
<rect x="1144.6" y="773.4" width="23.4" height="12.7" fill="#fee391"/>
<rect x="1167.4" y="773.4" width="12.0" height="12.7" fill="#fed281"/>
<rect x="1178.8" y="773.4" width="34.8" height="12.7" fill="#fee391"/>
<rect x="1213.0" y="773.4" width="23.4" height="12.7" fill="#fed281"/>
<rect x="1235.8" y="773.4" width="91.8" height="12.7" fill="#fee391"/>
<rect x="779.8" y="785.5" width="34.8" height="12.7" fill="#fed281"/>
<rect x="814.0" y="785.5" width="12.0" height="12.7" fill="#fee391"/>
<rect x="825.4" y="785.5" width="12.0" height="12.7" fill="#fdbe72"/>
<rect x="836.8" y="785.5" width="12.0" height="12.7" fill="#fee391"/>
<rect x="848.2" y="785.5" width="80.4" height="12.7" fill="#fed281"/>
<rect x="928.0" y="785.5" width="23.4" height="12.7" fill="#fee391"/>
<rect x="950.8" y="785.5" width="23.4" height="12.7" fill="#fcab60"/>
<rect x="973.6" y="785.5" width="12.0" height="12.7" fill="#fdbe72"/>
<rect x="985.0" y="785.5" width="23.4" height="12.7" fill="#fed281"/>
<rect x="1007.8" y="785.5" width="12.0" height="12.7" fill="#fee391"/>
<rect x="1019.2" y="785.5" width="12.0" height="12.7" fill="#fed281"/>
<rect x="1030.6" y="785.5" width="57.6" height="12.7" fill="#fee391"/>
<rect x="1087.6" y="785.5" width="91.8" height="12.7" fill="#fed281"/>
<rect x="1178.8" y="785.5" width="23.4" height="12.7" fill="#fee391"/>
<rect x="1201.6" y="785.5" width="34.8" height="12.7" fill="#fed281"/>
<rect x="1235.8" y="785.5" width="91.8" height="12.7" fill="#fee391"/>
<rect x="779.8" y="797.6" width="12.0" height="12.7" fill="#fed281"/>
<rect x="791.2" y="797.6" width="23.4" height="12.7" fill="#fee391"/>
<rect x="814.0" y="797.6" width="12.0" height="12.7" fill="#fed281"/>
<rect x="825.4" y="797.6" width="12.0" height="12.7" fill="#fdbe72"/>
<rect x="836.8" y="797.6" width="23.4" height="12.7" fill="#fed281"/>
<rect x="859.6" y="797.6" width="12.0" height="12.7" fill="#fee391"/>
<rect x="871.0" y="797.6" width="57.6" height="12.7" fill="#fed281"/>
<rect x="928.0" y="797.6" width="23.4" height="12.7" fill="#fee391"/>
<rect x="950.8" y="797.6" width="23.4" height="12.7" fill="#fdbe72"/>
<rect x="973.6" y="797.6" width="34.8" height="12.7" fill="#fed281"/>
<rect x="1007.8" y="797.6" width="12.0" height="12.7" fill="#fee391"/>
<rect x="1019.2" y="797.6" width="80.4" height="12.7" fill="#fed281"/>
<rect x="1099.0" y="797.6" width="23.4" height="12.7" fill="#fdbe72"/>
<rect x="1121.8" y="797.6" width="57.6" height="12.7" fill="#fed281"/>
<rect x="1178.8" y="797.6" width="46.2" height="12.7" fill="#fee391"/>
<rect x="1224.4" y="797.6" width="12.0" height="12.7" fill="#fed281"/>
<rect x="1235.8" y="797.6" width="91.8" height="12.7" fill="#fee391"/>
<rect x="791.2" y="809.7" width="12.0" height="12.7" fill="#fee391"/>
<rect x="802.6" y="809.7" width="23.4" height="12.7" fill="#fed281"/>
<rect x="825.4" y="809.7" width="12.0" height="12.7" fill="#fdbe72"/>
<rect x="836.8" y="809.7" width="23.4" height="12.7" fill="#db3529"/>
<rect x="859.6" y="809.7" width="12.0" height="12.7" fill="#f7814a"/>
<rect x="871.0" y="809.7" width="23.4" height="12.7" fill="#fdbe72"/>
<rect x="893.8" y="809.7" width="23.4" height="12.7" fill="#fed281"/>
<rect x="916.6" y="809.7" width="23.4" height="12.7" fill="#fee391"/>
<rect x="939.4" y="809.7" width="12.0" height="12.7" fill="#e2f4f2"/>
<rect x="950.8" y="809.7" width="23.4" height="12.7" fill="#fdbe72"/>
<rect x="973.6" y="809.7" width="12.0" height="12.7" fill="#fcab60"/>
<rect x="985.0" y="809.7" width="46.2" height="12.7" fill="#fb9656"/>
<rect x="1030.6" y="809.7" width="12.0" height="12.7" fill="#fcab60"/>
<rect x="1042.0" y="809.7" width="23.4" height="12.7" fill="#fdbe72"/>
<rect x="1064.8" y="809.7" width="34.8" height="12.7" fill="#fcab60"/>
<rect x="1099.0" y="809.7" width="23.4" height="12.7" fill="#fb9656"/>
<rect x="1121.8" y="809.7" width="23.4" height="12.7" fill="#fed281"/>
<rect x="1144.6" y="809.7" width="34.8" height="12.7" fill="#fdbe72"/>
<rect x="1178.8" y="809.7" width="12.0" height="12.7" fill="#fed281"/>
<rect x="1190.2" y="809.7" width="137.4" height="12.7" fill="#fee391"/>
<rect x="802.6" y="821.8" width="46.2" height="12.7" fill="#fed281"/>
<rect x="848.2" y="821.8" width="12.0" height="12.7" fill="#e84c35"/>
<rect x="859.6" y="821.8" width="12.0" height="12.7" fill="#f7814a"/>
<rect x="871.0" y="821.8" width="34.8" height="12.7" fill="#fdbe72"/>
<rect x="905.2" y="821.8" width="12.0" height="12.7" fill="#fed281"/>
<rect x="916.6" y="821.8" width="34.8" height="12.7" fill="#fee391"/>
<rect x="950.8" y="821.8" width="23.4" height="12.7" fill="#fdbe72"/>
<rect x="973.6" y="821.8" width="12.0" height="12.7" fill="#fcab60"/>
<rect x="985.0" y="821.8" width="12.0" height="12.7" fill="#fb9656"/>
<rect x="996.4" y="821.8" width="12.0" height="12.7" fill="#f7814a"/>
<rect x="1007.8" y="821.8" width="23.4" height="12.7" fill="#fb9656"/>
<rect x="1030.6" y="821.8" width="12.0" height="12.7" fill="#fcab60"/>
<rect x="1042.0" y="821.8" width="23.4" height="12.7" fill="#fdbe72"/>
<rect x="1064.8" y="821.8" width="23.4" height="12.7" fill="#fcab60"/>
<rect x="1087.6" y="821.8" width="12.0" height="12.7" fill="#fb9656"/>
<rect x="1099.0" y="821.8" width="23.4" height="12.7" fill="#f7814a"/>
<rect x="1121.8" y="821.8" width="34.8" height="12.7" fill="#fed281"/>
<rect x="1156.0" y="821.8" width="23.4" height="12.7" fill="#fdbe72"/>
<rect x="1178.8" y="821.8" width="12.0" height="12.7" fill="#fed281"/>
<rect x="1190.2" y="821.8" width="137.4" height="12.7" fill="#fee391"/>
<rect x="802.6" y="833.9" width="34.8" height="12.7" fill="#fed281"/>
<rect x="836.8" y="833.9" width="12.0" height="12.7" fill="#fee391"/>
<rect x="848.2" y="833.9" width="69.0" height="12.7" fill="#fdbe72"/>
<rect x="916.6" y="833.9" width="34.8" height="12.7" fill="#fed281"/>
<rect x="950.8" y="833.9" width="34.8" height="12.7" fill="#fdbe72"/>
<rect x="985.0" y="833.9" width="23.4" height="12.7" fill="#fcab60"/>
<rect x="1007.8" y="833.9" width="23.4" height="12.7" fill="#fb9656"/>
<rect x="1030.6" y="833.9" width="46.2" height="12.7" fill="#fcab60"/>
<rect x="1076.2" y="833.9" width="23.4" height="12.7" fill="#fb9656"/>
<rect x="1099.0" y="833.9" width="23.4" height="12.7" fill="#f7814a"/>
<rect x="1121.8" y="833.9" width="12.0" height="12.7" fill="#fdbe72"/>
<rect x="1133.2" y="833.9" width="12.0" height="12.7" fill="#fed281"/>
<rect x="1144.6" y="833.9" width="12.0" height="12.7" fill="#fdbe72"/>
<rect x="1156.0" y="833.9" width="23.4" height="12.7" fill="#fcab60"/>
<rect x="1178.8" y="833.9" width="12.0" height="12.7" fill="#fdbe72"/>
<rect x="1190.2" y="833.9" width="57.6" height="12.7" fill="#fed281"/>
<rect x="1247.2" y="833.9" width="80.4" height="12.7" fill="#fee391"/>
<rect x="814.0" y="846.0" width="23.4" height="12.7" fill="#fdbe72"/>
<rect x="836.8" y="846.0" width="23.4" height="12.7" fill="#d0ebf8"/>
<rect x="859.6" y="846.0" width="34.8" height="12.7" fill="#fdbe72"/>
<rect x="893.8" y="846.0" width="12.0" height="12.7" fill="#fcab60"/>
<rect x="905.2" y="846.0" width="12.0" height="12.7" fill="#fdbe72"/>
<rect x="916.6" y="846.0" width="57.6" height="12.7" fill="#fb9656"/>
<rect x="973.6" y="846.0" width="12.0" height="12.7" fill="#fdbe72"/>
<rect x="985.0" y="846.0" width="23.4" height="12.7" fill="#fed281"/>
<rect x="1007.8" y="846.0" width="23.4" height="12.7" fill="#fcab60"/>
<rect x="1030.6" y="846.0" width="12.0" height="12.7" fill="#fb9656"/>
<rect x="1042.0" y="846.0" width="80.4" height="12.7" fill="#f7814a"/>
<rect x="1121.8" y="846.0" width="12.0" height="12.7" fill="#fdbe72"/>
<rect x="1133.2" y="846.0" width="12.0" height="12.7" fill="#fed281"/>
<rect x="1144.6" y="846.0" width="34.8" height="12.7" fill="#fcab60"/>
<rect x="1178.8" y="846.0" width="23.4" height="12.7" fill="#fdbe72"/>
<rect x="1201.6" y="846.0" width="46.2" height="12.7" fill="#fed281"/>
<rect x="1247.2" y="846.0" width="23.4" height="12.7" fill="#fee391"/>
<rect x="1270.0" y="846.0" width="12.0" height="12.7" fill="#fed281"/>
<rect x="1281.4" y="846.0" width="34.8" height="12.7" fill="#fee391"/>
<rect x="814.0" y="858.1" width="12.0" height="12.7" fill="#fdbe72"/>
<rect x="825.4" y="858.1" width="34.8" height="12.7" fill="#e2f4f2"/>
<rect x="859.6" y="858.1" width="12.0" height="12.7" fill="#fdbe72"/>
<rect x="871.0" y="858.1" width="23.4" height="12.7" fill="#fee391"/>
<rect x="893.8" y="858.1" width="23.4" height="12.7" fill="#fdbe72"/>
<rect x="916.6" y="858.1" width="57.6" height="12.7" fill="#fb9656"/>
<rect x="973.6" y="858.1" width="12.0" height="12.7" fill="#fdbe72"/>
<rect x="985.0" y="858.1" width="23.4" height="12.7" fill="#fed281"/>
<rect x="1007.8" y="858.1" width="23.4" height="12.7" fill="#fcab60"/>
<rect x="1030.6" y="858.1" width="12.0" height="12.7" fill="#fb9656"/>
<rect x="1042.0" y="858.1" width="80.4" height="12.7" fill="#f7814a"/>
<rect x="1121.8" y="858.1" width="23.4" height="12.7" fill="#fdbe72"/>
<rect x="1144.6" y="858.1" width="34.8" height="12.7" fill="#fcab60"/>
<rect x="1178.8" y="858.1" width="23.4" height="12.7" fill="#fdbe72"/>
<rect x="1201.6" y="858.1" width="34.8" height="12.7" fill="#fed281"/>
<rect x="1235.8" y="858.1" width="23.4" height="12.7" fill="#fee391"/>
<rect x="1258.6" y="858.1" width="23.4" height="12.7" fill="#fed281"/>
<rect x="1281.4" y="858.1" width="23.4" height="12.7" fill="#fee391"/>
<rect x="825.4" y="870.2" width="69.0" height="12.7" fill="#e2f4f2"/>
<rect x="893.8" y="870.2" width="12.0" height="12.7" fill="#fdbe72"/>
<rect x="905.2" y="870.2" width="12.0" height="12.7" fill="#fed281"/>
<rect x="916.6" y="870.2" width="12.0" height="12.7" fill="#fb9656"/>
<rect x="928.0" y="870.2" width="23.4" height="12.7" fill="#f7814a"/>
<rect x="950.8" y="870.2" width="57.6" height="12.7" fill="#fb9656"/>
<rect x="1007.8" y="870.2" width="57.6" height="12.7" fill="#f7814a"/>
<rect x="1064.8" y="870.2" width="34.8" height="12.7" fill="#fb9656"/>
<rect x="1099.0" y="870.2" width="23.4" height="12.7" fill="#f7814a"/>
<rect x="1121.8" y="870.2" width="23.4" height="12.7" fill="#fcab60"/>
<rect x="1144.6" y="870.2" width="12.0" height="12.7" fill="#fb9656"/>
<rect x="1156.0" y="870.2" width="12.0" height="12.7" fill="#f7814a"/>
<rect x="1167.4" y="870.2" width="12.0" height="12.7" fill="#fb9656"/>
<rect x="1178.8" y="870.2" width="23.4" height="12.7" fill="#fcab60"/>
<rect x="1201.6" y="870.2" width="23.4" height="12.7" fill="#fdbe72"/>
<rect x="1224.4" y="870.2" width="23.4" height="12.7" fill="#fed281"/>
<rect x="1247.2" y="870.2" width="12.0" height="12.7" fill="#fee391"/>
<rect x="1258.6" y="870.2" width="34.8" height="12.7" fill="#fed281"/>
<rect x="1292.8" y="870.2" width="12.0" height="12.7" fill="#fee391"/>
<rect x="825.4" y="882.3" width="12.0" height="12.7" fill="#e2f4f2"/>
<rect x="836.8" y="882.3" width="34.8" height="12.7" fill="#d0ebf8"/>
<rect x="871.0" y="882.3" width="23.4" height="12.7" fill="#e2f4f2"/>
<rect x="893.8" y="882.3" width="12.0" height="12.7" fill="#fdbe72"/>
<rect x="905.2" y="882.3" width="12.0" height="12.7" fill="#fb9656"/>
<rect x="916.6" y="882.3" width="12.0" height="12.7" fill="#fdbe72"/>
<rect x="928.0" y="882.3" width="23.4" height="12.7" fill="#fcab60"/>
<rect x="950.8" y="882.3" width="57.6" height="12.7" fill="#fb9656"/>
<rect x="1007.8" y="882.3" width="57.6" height="12.7" fill="#f7814a"/>
<rect x="1064.8" y="882.3" width="34.8" height="12.7" fill="#fb9656"/>
<rect x="1099.0" y="882.3" width="23.4" height="12.7" fill="#f7814a"/>
<rect x="1121.8" y="882.3" width="23.4" height="12.7" fill="#fcab60"/>
<rect x="1144.6" y="882.3" width="12.0" height="12.7" fill="#fb9656"/>
<rect x="1156.0" y="882.3" width="23.4" height="12.7" fill="#f7814a"/>
<rect x="1178.8" y="882.3" width="23.4" height="12.7" fill="#fcab60"/>
<rect x="1201.6" y="882.3" width="23.4" height="12.7" fill="#fdbe72"/>
<rect x="1224.4" y="882.3" width="69.0" height="12.7" fill="#fed281"/>
<rect x="836.8" y="894.4" width="80.4" height="12.7" fill="#e2f4f2"/>
<rect x="916.6" y="894.4" width="12.0" height="12.7" fill="#fed281"/>
<rect x="928.0" y="894.4" width="23.4" height="12.7" fill="#fdbe72"/>
<rect x="950.8" y="894.4" width="57.6" height="12.7" fill="#f16641"/>
<rect x="1007.8" y="894.4" width="46.2" height="12.7" fill="#f7814a"/>
<rect x="1053.4" y="894.4" width="12.0" height="12.7" fill="#fb9656"/>
<rect x="1064.8" y="894.4" width="12.0" height="12.7" fill="#fdbe72"/>
<rect x="1076.2" y="894.4" width="34.8" height="12.7" fill="#fcab60"/>
<rect x="1110.4" y="894.4" width="12.0" height="12.7" fill="#fb9656"/>
<rect x="1121.8" y="894.4" width="12.0" height="12.7" fill="#f7814a"/>
<rect x="1133.2" y="894.4" width="23.4" height="12.7" fill="#fb9656"/>
<rect x="1156.0" y="894.4" width="23.4" height="12.7" fill="#f7814a"/>
<rect x="1178.8" y="894.4" width="23.4" height="12.7" fill="#fcab60"/>
<rect x="1201.6" y="894.4" width="23.4" height="12.7" fill="#fdbe72"/>
<rect x="1224.4" y="894.4" width="23.4" height="12.7" fill="#fed281"/>
<rect x="1247.2" y="894.4" width="12.0" height="12.7" fill="#fee391"/>
<rect x="1258.6" y="894.4" width="23.4" height="12.7" fill="#fed281"/>
<rect x="836.8" y="906.5" width="46.2" height="12.7" fill="#e2f4f2"/>
<rect x="882.4" y="906.5" width="12.0" height="12.7" fill="#fee391"/>
<rect x="893.8" y="906.5" width="12.0" height="12.7" fill="#d0ebf8"/>
<rect x="905.2" y="906.5" width="12.0" height="12.7" fill="#bde2f1"/>
<rect x="916.6" y="906.5" width="12.0" height="12.7" fill="#d0ebf8"/>
<rect x="928.0" y="906.5" width="23.4" height="12.7" fill="#e2f4f2"/>
<rect x="950.8" y="906.5" width="46.2" height="12.7" fill="#e84c35"/>
<rect x="996.4" y="906.5" width="12.0" height="12.7" fill="#db3529"/>
<rect x="1007.8" y="906.5" width="23.4" height="12.7" fill="#f16641"/>
<rect x="1030.6" y="906.5" width="34.8" height="12.7" fill="#fb9656"/>
<rect x="1064.8" y="906.5" width="12.0" height="12.7" fill="#fed281"/>
<rect x="1076.2" y="906.5" width="12.0" height="12.7" fill="#fdbe72"/>
<rect x="1087.6" y="906.5" width="12.0" height="12.7" fill="#fcab60"/>
<rect x="1099.0" y="906.5" width="23.4" height="12.7" fill="#fb9656"/>
<rect x="1121.8" y="906.5" width="23.4" height="12.7" fill="#f16641"/>
<rect x="1144.6" y="906.5" width="34.8" height="12.7" fill="#f7814a"/>
<rect x="1178.8" y="906.5" width="23.4" height="12.7" fill="#fb9656"/>
<rect x="1201.6" y="906.5" width="12.0" height="12.7" fill="#fcab60"/>
<rect x="1213.0" y="906.5" width="12.0" height="12.7" fill="#fdbe72"/>
<rect x="1224.4" y="906.5" width="23.4" height="12.7" fill="#fed281"/>
<rect x="1247.2" y="906.5" width="12.0" height="12.7" fill="#fee391"/>
<rect x="1258.6" y="906.5" width="23.4" height="12.7" fill="#fed281"/>
<rect x="859.6" y="918.6" width="12.0" height="12.7" fill="#e2f4f2"/>
<rect x="871.0" y="918.6" width="23.4" height="12.7" fill="#fee391"/>
<rect x="893.8" y="918.6" width="57.6" height="12.7" fill="#e2f4f2"/>
<rect x="950.8" y="918.6" width="12.0" height="12.7" fill="#f16641"/>
<rect x="962.2" y="918.6" width="23.4" height="12.7" fill="#db3529"/>
<rect x="985.0" y="918.6" width="12.0" height="12.7" fill="#e84c35"/>
<rect x="996.4" y="918.6" width="12.0" height="12.7" fill="#db3529"/>
<rect x="1007.8" y="918.6" width="23.4" height="12.7" fill="#f16641"/>
<rect x="1030.6" y="918.6" width="34.8" height="12.7" fill="#fcab60"/>
<rect x="1064.8" y="918.6" width="12.0" height="12.7" fill="#fed281"/>
<rect x="1076.2" y="918.6" width="23.4" height="12.7" fill="#fdbe72"/>
<rect x="1099.0" y="918.6" width="12.0" height="12.7" fill="#fcab60"/>
<rect x="1110.4" y="918.6" width="12.0" height="12.7" fill="#fb9656"/>
<rect x="1121.8" y="918.6" width="23.4" height="12.7" fill="#f16641"/>
<rect x="1144.6" y="918.6" width="34.8" height="12.7" fill="#f7814a"/>
<rect x="1178.8" y="918.6" width="12.0" height="12.7" fill="#fb9656"/>
<rect x="1190.2" y="918.6" width="23.4" height="12.7" fill="#fcab60"/>
<rect x="1213.0" y="918.6" width="12.0" height="12.7" fill="#fdbe72"/>
<rect x="1224.4" y="918.6" width="57.6" height="12.7" fill="#fed281"/>
<rect x="871.0" y="930.7" width="23.4" height="12.7" fill="#fee391"/>
<rect x="893.8" y="930.7" width="34.8" height="12.7" fill="#e2f4f2"/>
<rect x="928.0" y="930.7" width="23.4" height="12.7" fill="#d0ebf8"/>
<rect x="950.8" y="930.7" width="23.4" height="12.7" fill="#bde2f1"/>
<rect x="973.6" y="930.7" width="12.0" height="12.7" fill="#fee391"/>
<rect x="985.0" y="930.7" width="23.4" height="12.7" fill="#fdbe72"/>
<rect x="1007.8" y="930.7" width="23.4" height="12.7" fill="#fcab60"/>
<rect x="1030.6" y="930.7" width="57.6" height="12.7" fill="#fdbe72"/>
<rect x="1087.6" y="930.7" width="12.0" height="12.7" fill="#fed281"/>
<rect x="1099.0" y="930.7" width="23.4" height="12.7" fill="#fdbe72"/>
<rect x="1121.8" y="930.7" width="12.0" height="12.7" fill="#fb9656"/>
<rect x="1133.2" y="930.7" width="46.2" height="12.7" fill="#fcab60"/>
<rect x="1178.8" y="930.7" width="34.8" height="12.7" fill="#fb9656"/>
<rect x="1213.0" y="930.7" width="12.0" height="12.7" fill="#fcab60"/>
<rect x="1224.4" y="930.7" width="23.4" height="12.7" fill="#fdbe72"/>
<rect x="1247.2" y="930.7" width="34.8" height="12.7" fill="#fed281"/>
<rect x="893.8" y="942.8" width="34.8" height="12.7" fill="#e2f4f2"/>
<rect x="928.0" y="942.8" width="46.2" height="12.7" fill="#d0ebf8"/>
<rect x="973.6" y="942.8" width="12.0" height="12.7" fill="#fee391"/>
<rect x="985.0" y="942.8" width="23.4" height="12.7" fill="#fdbe72"/>
<rect x="1007.8" y="942.8" width="23.4" height="12.7" fill="#fb9656"/>
<rect x="1030.6" y="942.8" width="46.2" height="12.7" fill="#fdbe72"/>
<rect x="1076.2" y="942.8" width="12.0" height="12.7" fill="#fcab60"/>
<rect x="1087.6" y="942.8" width="12.0" height="12.7" fill="#fdbe72"/>
<rect x="1099.0" y="942.8" width="12.0" height="12.7" fill="#fcab60"/>
<rect x="1110.4" y="942.8" width="12.0" height="12.7" fill="#fdbe72"/>
<rect x="1121.8" y="942.8" width="34.8" height="12.7" fill="#fcab60"/>
<rect x="1156.0" y="942.8" width="23.4" height="12.7" fill="#fdbe72"/>
<rect x="1178.8" y="942.8" width="12.0" height="12.7" fill="#fb9656"/>
<rect x="1190.2" y="942.8" width="12.0" height="12.7" fill="#fcab60"/>
<rect x="1201.6" y="942.8" width="12.0" height="12.7" fill="#fb9656"/>
<rect x="1213.0" y="942.8" width="23.4" height="12.7" fill="#fcab60"/>
<rect x="1235.8" y="942.8" width="34.8" height="12.7" fill="#fdbe72"/>
<rect x="1270.0" y="942.8" width="12.0" height="12.7" fill="#fed281"/>
<rect x="893.8" y="954.9" width="80.4" height="12.7" fill="#e2f4f2"/>
<rect x="973.6" y="954.9" width="12.0" height="12.7" fill="#fed281"/>
<rect x="985.0" y="954.9" width="23.4" height="12.7" fill="#fdbe72"/>
<rect x="1007.8" y="954.9" width="12.0" height="12.7" fill="#fcab60"/>
<rect x="1019.2" y="954.9" width="12.0" height="12.7" fill="#fdbe72"/>
<rect x="1030.6" y="954.9" width="34.8" height="12.7" fill="#fed281"/>
<rect x="1064.8" y="954.9" width="46.2" height="12.7" fill="#fdbe72"/>
<rect x="1110.4" y="954.9" width="34.8" height="12.7" fill="#fed281"/>
<rect x="1144.6" y="954.9" width="12.0" height="12.7" fill="#fdbe72"/>
<rect x="1156.0" y="954.9" width="69.0" height="12.7" fill="#fcab60"/>
<rect x="1224.4" y="954.9" width="12.0" height="12.7" fill="#fdbe72"/>
<rect x="1235.8" y="954.9" width="34.8" height="12.7" fill="#fed281"/>
<rect x="893.8" y="967.0" width="12.0" height="12.7" fill="#e2f4f2"/>
<rect x="905.2" y="967.0" width="46.2" height="12.7" fill="#fee391"/>
<rect x="950.8" y="967.0" width="12.0" height="12.7" fill="#fed281"/>
<rect x="962.2" y="967.0" width="12.0" height="12.7" fill="#fee391"/>
<rect x="973.6" y="967.0" width="12.0" height="12.7" fill="#fdbe72"/>
<rect x="985.0" y="967.0" width="23.4" height="12.7" fill="#fcab60"/>
<rect x="1007.8" y="967.0" width="12.0" height="12.7" fill="#fdbe72"/>
<rect x="1019.2" y="967.0" width="91.8" height="12.7" fill="#fed281"/>
<rect x="1110.4" y="967.0" width="34.8" height="12.7" fill="#fee391"/>
<rect x="1144.6" y="967.0" width="12.0" height="12.7" fill="#fed281"/>
<rect x="1156.0" y="967.0" width="57.6" height="12.7" fill="#fcab60"/>
<rect x="1213.0" y="967.0" width="23.4" height="12.7" fill="#fdbe72"/>
<rect x="1235.8" y="967.0" width="34.8" height="12.7" fill="#fed281"/>
<rect x="905.2" y="979.1" width="23.4" height="12.7" fill="#e2f4f2"/>
<rect x="928.0" y="979.1" width="46.2" height="12.7" fill="#fee391"/>
<rect x="973.6" y="979.1" width="12.0" height="12.7" fill="#fdbe72"/>
<rect x="985.0" y="979.1" width="23.4" height="12.7" fill="#fb9656"/>
<rect x="1007.8" y="979.1" width="12.0" height="12.7" fill="#fdbe72"/>
<rect x="1019.2" y="979.1" width="23.4" height="12.7" fill="#fed281"/>
<rect x="1042.0" y="979.1" width="23.4" height="12.7" fill="#fee391"/>
<rect x="1064.8" y="979.1" width="46.2" height="12.7" fill="#fed281"/>
<rect x="1110.4" y="979.1" width="23.4" height="12.7" fill="#fee391"/>
<rect x="1133.2" y="979.1" width="23.4" height="12.7" fill="#fed281"/>
<rect x="1156.0" y="979.1" width="57.6" height="12.7" fill="#fcab60"/>
<rect x="1213.0" y="979.1" width="23.4" height="12.7" fill="#fdbe72"/>
<rect x="1235.8" y="979.1" width="23.4" height="12.7" fill="#fed281"/>
<rect x="905.2" y="991.2" width="46.2" height="12.7" fill="#fee391"/>
<rect x="950.8" y="991.2" width="23.4" height="12.7" fill="#fed281"/>
<rect x="973.6" y="991.2" width="12.0" height="12.7" fill="#fdbe72"/>
<rect x="985.0" y="991.2" width="23.4" height="12.7" fill="#fb9656"/>
<rect x="1007.8" y="991.2" width="12.0" height="12.7" fill="#fdbe72"/>
<rect x="1019.2" y="991.2" width="12.0" height="12.7" fill="#fed281"/>
<rect x="1030.6" y="991.2" width="12.0" height="12.7" fill="#fee391"/>
<rect x="1042.0" y="991.2" width="12.0" height="12.7" fill="#e2f4f2"/>
<rect x="1053.4" y="991.2" width="12.0" height="12.7" fill="#fee391"/>
<rect x="1064.8" y="991.2" width="23.4" height="12.7" fill="#fed281"/>
<rect x="1087.6" y="991.2" width="34.8" height="12.7" fill="#fee391"/>
<rect x="1121.8" y="991.2" width="12.0" height="12.7" fill="#fed281"/>
<rect x="1133.2" y="991.2" width="46.2" height="12.7" fill="#fdbe72"/>
<rect x="1178.8" y="991.2" width="12.0" height="12.7" fill="#fb9656"/>
<rect x="1190.2" y="991.2" width="34.8" height="12.7" fill="#fcab60"/>
<rect x="1224.4" y="991.2" width="23.4" height="12.7" fill="#f7814a"/>
<rect x="1247.2" y="991.2" width="12.0" height="12.7" fill="#fed281"/>
<rect x="905.2" y="1003.3" width="46.2" height="12.7" fill="#fee391"/>
<rect x="950.8" y="1003.3" width="12.0" height="12.7" fill="#fed281"/>
<rect x="962.2" y="1003.3" width="23.4" height="12.7" fill="#fdbe72"/>
<rect x="985.0" y="1003.3" width="23.4" height="12.7" fill="#fb9656"/>
<rect x="1007.8" y="1003.3" width="12.0" height="12.7" fill="#fdbe72"/>
<rect x="1019.2" y="1003.3" width="12.0" height="12.7" fill="#fed281"/>
<rect x="1030.6" y="1003.3" width="12.0" height="12.7" fill="#fee391"/>
<rect x="1042.0" y="1003.3" width="23.4" height="12.7" fill="#e2f4f2"/>
<rect x="1064.8" y="1003.3" width="23.4" height="12.7" fill="#fed281"/>
<rect x="1087.6" y="1003.3" width="34.8" height="12.7" fill="#fee391"/>
<rect x="1121.8" y="1003.3" width="12.0" height="12.7" fill="#fdbe72"/>
<rect x="1133.2" y="1003.3" width="12.0" height="12.7" fill="#fed281"/>
<rect x="1144.6" y="1003.3" width="23.4" height="12.7" fill="#fdbe72"/>
<rect x="1167.4" y="1003.3" width="12.0" height="12.7" fill="#fed281"/>
<rect x="1178.8" y="1003.3" width="46.2" height="12.7" fill="#fcab60"/>
<rect x="1224.4" y="1003.3" width="23.4" height="12.7" fill="#f7814a"/>
<rect x="905.2" y="1015.4" width="46.2" height="12.7" fill="#fee391"/>
<rect x="950.8" y="1015.4" width="12.0" height="12.7" fill="#fed281"/>
<rect x="962.2" y="1015.4" width="23.4" height="12.7" fill="#fdbe72"/>
<rect x="985.0" y="1015.4" width="23.4" height="12.7" fill="#fcab60"/>
<rect x="1007.8" y="1015.4" width="12.0" height="12.7" fill="#fdbe72"/>
<rect x="1019.2" y="1015.4" width="12.0" height="12.7" fill="#fed281"/>
<rect x="1030.6" y="1015.4" width="34.8" height="12.7" fill="#fee391"/>
<rect x="1064.8" y="1015.4" width="23.4" height="12.7" fill="#fed281"/>
<rect x="1087.6" y="1015.4" width="23.4" height="12.7" fill="#fee391"/>
<rect x="1110.4" y="1015.4" width="12.0" height="12.7" fill="#fed281"/>
<rect x="1121.8" y="1015.4" width="57.6" height="12.7" fill="#fdbe72"/>
<rect x="1178.8" y="1015.4" width="34.8" height="12.7" fill="#fcab60"/>
</g>
<polyline points="762.5,549.5 762.9,560.9 759.9,572.8 758.5,582.8 760.9,588.7 766.8,597.6 774.8,603.6 779.7,608.6 786.7,612.5 796.6,608.6 806.6,603.0 813.5,603.6 820.5,608.6 828.4,614.5 838.3,624.5 840.3,614.5 848.3,606.6 853.2,596.7 856.2,587.7 864.1,584.7 872.1,582.8 882.0,580.8 891.9,572.8 897.9,568.9 901.3,571.0 893.9,580.8 899.9,588.7 895.9,600.6 897.9,608.6 903.9,607.6 903.9,598.6 900.9,591.7 903.3,586.0 911.8,582.8 915.8,578.8 913.8,573.8 917.8,571.8 919.7,578.8 927.7,580.8 933.6,582.8 936.6,591.7 943.6,591.7 959.5,590.7 965.4,594.7 973.4,596.7 983.3,590.7 995.2,589.7 1005.1,589.7 997.2,591.7 1003.1,598.6 1011.1,602.6 1019.0,606.6 1019.0,616.5 1027.0,617.5 1038.9,622.5 1044.8,628.5 1047.0,636.4 1056.9,642.3 1064.9,647.3 1084.7,647.3 1104.6,653.3 1120.5,664.2 1132.4,674.1 1138.3,690.0 1145.3,698.9 1144.3,707.9 1136.3,715.8 1128.3,725.0 1138.3,723.7 1148.3,721.8 1162.2,723.7 1159.2,737.6 1164.1,729.7 1174.1,727.7 1195.9,735.7 1202.9,738.6 1207.8,747.6 1206.8,754.5 1217.8,749.6 1231.7,753.5 1243.6,756.5 1257.5,754.5 1269.4,763.5 1283.3,775.4 1293.2,782.3 1303.2,781.3 1311.1,783.3 1316.1,801.9 1318.0,813.8 1315.1,823.7 1309.1,835.6 1301.2,847.6 1293.2,853.5 1283.3,867.4 1279.3,875.4 1270.4,883.3 1269.4,897.2 1270.4,915.1 1267.4,929.0 1263.4,940.9 1262.4,956.8 1255.5,964.7 1249.5,974.6 1247.5,988.5 1235.6,994.5 1235.6,999.5 1223.7,1000.5 1209.8,1000.5 1203.9,1002.5 1199.9,1006.4 1188.0,1010.4 1180.0,1016.3 1170.1,1024.3 1167.8,1027.0" fill="none" stroke="#808080" stroke-width="2" stroke-linejoin="round"/>
<polyline points="909.3,1027.0 909.8,1024.3 911.8,1000.5 915.8,982.6 914.8,964.7 913.8,954.8 911.8,942.9 903.9,936.9 895.9,929.0 884.0,923.0 872.1,915.1 864.1,912.1 852.2,903.2 845.3,893.2 844.3,885.3 838.3,871.4 830.4,857.5 824.4,845.6 820.5,835.6 814.5,821.7 808.5,815.8 804.6,807.8 798.6,799.9 788.7,793.0 792.7,786.0 790.7,783.3 786.7,773.4 790.7,765.5 800.6,757.5 792.7,747.6 794.6,733.7 798.6,721.8 804.6,713.8 812.5,705.9 816.5,699.9 818.5,692.0 824.4,688.0 830.3,684.0 834.3,676.1 832.3,668.1 832.3,656.2 831.3,642.3 832.3,632.5 830.4,632.5 826.4,626.5 821.5,619.5 818.5,614.5 810.5,610.5 804.6,615.5 797.6,622.5 802.6,628.4 791.7,632.4 788.7,625.5 779.7,618.5 768.8,619.5 758.9,615.5 756.9,606.6 744.3,596.7" fill="none" stroke="#808080" stroke-width="2" stroke-linejoin="round"/>
<polyline points="1009.1,590.0 1019.8,589.0 1019.3,596.5 1013.3,597.5 1011.3,593.5 1009.1,590.0" fill="none" stroke="#808080" stroke-width="2" stroke-linejoin="round"/>
<polygon points="804.6,789.1 806.6,777.4 808.5,763.5 812.5,755.5 811.5,745.6 814.5,737.6 814.5,727.7 820.5,721.8 826.4,713.8 832.4,705.9 838.3,699.9 842.3,694.0 848.3,695.9 856.2,688.0 860.2,680.1 864.1,688.0 866.1,695.9 876.1,695.9 884.0,691.0 899.9,689.0 919.7,691.0 931.7,688.0 935.6,684.0 943.6,686.0 951.5,684.0 959.5,685.0 965.4,694.0 973.4,701.9 983.3,695.9 991.2,692.0 983.3,690.0 981.3,680.1 983.3,670.1 977.3,670.1 987.2,669.1 995.2,676.1 999.2,669.1 1007.1,666.2 1019.0,664.2 1023.0,658.2 1029.0,656.2 1034.9,659.2 1037.9,664.2 1036.9,672.1 1032.9,680.1 1034.9,688.0 1033.9,695.9 1038.9,701.9 1045.0,703.9 1052.9,684.0 1050.9,695.9 1062.9,695.9 1074.8,696.9 1074.8,688.0 1088.7,689.0 1094.6,694.0 1104.6,692.0 1112.5,701.9 1118.5,713.8 1120.5,725.7 1127.4,726.7 1124.4,733.7 1112.5,739.6 1124.4,737.6 1130.4,731.7 1134.4,733.7 1128.4,745.6 1134.4,749.6 1138.3,741.6 1152.3,741.6 1155.2,745.6 1151.2,753.5 1150.2,767.4 1154.2,779.3 1164.1,780.3 1178.0,787.3 1184.0,793.9 1185.0,805.9 1186.0,815.8 1184.0,822.7 1180.0,829.7 1184.0,837.6 1187.0,849.5 1186.0,861.5 1186.4,873.4 1188.0,885.3 1189.0,899.2 1182.0,901.2 1176.1,907.1 1172.1,911.1 1164.1,911.1 1154.2,915.1 1142.3,919.0 1138.3,923.0 1128.4,928.0 1118.5,927.0 1110.5,932.9 1108.5,940.9 1104.6,938.9 1104.6,925.0 1098.6,921.0 1096.6,913.1 1092.7,909.1 1082.7,911.1 1080.7,905.1 1087.7,899.2 1086.7,893.2 1080.7,894.2 1074.8,896.2 1066.8,891.2 1058.9,889.3 1052.9,895.2 1045.0,895.2 1040.9,905.1 1036.9,912.1 1038.9,921.0 1036.9,929.0 1043.8,929.0 1042.8,936.9 1034.9,938.9 1023.0,940.9 1017.0,950.8 1010.1,960.7 1009.1,968.7 1001.2,971.7 993.2,974.6 981.3,968.7 977.3,960.7 973.4,954.8 961.4,949.8 952.5,954.8 951.5,948.8 947.5,936.9 943.6,931.0 938.6,927.0 935.6,917.1 927.7,909.1 925.7,901.2 919.7,895.2 911.8,892.2 905.8,895.2 905.8,907.1 901.9,905.1 895.9,909.1 891.9,907.1 884.0,901.2 876.1,896.2 868.1,897.2 864.1,893.2 857.2,883.3 853.2,877.3 850.3,867.4 844.3,859.5 836.4,851.5 835.4,839.6 830.4,829.7 824.4,819.8 824.4,811.8 820.5,803.9 814.5,797.9 806.6,793.9" fill="none" stroke="#000" stroke-width="4.6" stroke-linejoin="round"/>
<line x1="824.4" y1="811.8" x2="1184.0" y2="811.8" stroke="#000" stroke-width="4"/>
</g>
<circle cx="762.3" cy="549.8" r="4.6" fill="#000"/>
<circle cx="899.0" cy="574.0" r="4.6" fill="#000"/>
<circle cx="785.1" cy="622.4" r="4.6" fill="#000"/>
<circle cx="830.6" cy="622.4" r="4.6" fill="#000"/>
<circle cx="853.4" cy="622.4" r="4.6" fill="#000"/>
<circle cx="876.2" cy="622.4" r="4.6" fill="#000"/>
<circle cx="990.1" cy="622.4" r="4.6" fill="#000"/>
<circle cx="1035.7" cy="622.4" r="4.6" fill="#000"/>
<circle cx="876.2" cy="670.8" r="4.6" fill="#000"/>
<circle cx="830.6" cy="695.0" r="4.6" fill="#000"/>
<circle cx="853.4" cy="695.0" r="4.6" fill="#000"/>
<circle cx="876.2" cy="695.0" r="4.6" fill="#000"/>
<circle cx="830.6" cy="719.2" r="4.6" fill="#000"/>
<circle cx="853.4" cy="719.2" r="4.6" fill="#000"/>
<circle cx="899.0" cy="719.2" r="4.6" fill="#000"/>
<circle cx="921.8" cy="719.2" r="4.6" fill="#000"/>
<circle cx="944.5" cy="719.2" r="4.6" fill="#000"/>
<circle cx="830.6" cy="743.4" r="4.6" fill="#000"/>
<circle cx="853.4" cy="743.4" r="4.6" fill="#000"/>
<circle cx="899.0" cy="743.4" r="4.6" fill="#000"/>
<circle cx="921.8" cy="743.4" r="4.6" fill="#000"/>
<circle cx="944.5" cy="743.4" r="4.6" fill="#000"/>
<circle cx="830.6" cy="767.6" r="4.6" fill="#000"/>
<circle cx="830.6" cy="791.8" r="4.6" fill="#000"/>
<circle cx="967.3" cy="791.8" r="4.6" fill="#000"/>
<circle cx="830.6" cy="816.0" r="4.6" fill="#000"/>
<circle cx="853.4" cy="816.0" r="4.6" fill="#000"/>
<circle cx="990.1" cy="816.0" r="4.6" fill="#000"/>
<circle cx="1012.9" cy="816.0" r="4.6" fill="#000"/>
<circle cx="1035.7" cy="816.0" r="4.6" fill="#000"/>
<circle cx="1104.0" cy="816.0" r="4.6" fill="#000"/>
<circle cx="830.6" cy="840.2" r="4.6" fill="#000"/>
<circle cx="853.4" cy="840.2" r="4.6" fill="#000"/>
<circle cx="899.0" cy="840.2" r="4.6" fill="#000"/>
<circle cx="967.3" cy="840.2" r="4.6" fill="#000"/>
<circle cx="990.1" cy="840.2" r="4.6" fill="#000"/>
<circle cx="1012.9" cy="840.2" r="4.6" fill="#000"/>
<circle cx="1035.7" cy="840.2" r="4.6" fill="#000"/>
<circle cx="1058.4" cy="840.2" r="4.6" fill="#000"/>
<circle cx="1081.2" cy="840.2" r="4.6" fill="#000"/>
<circle cx="1104.0" cy="840.2" r="4.6" fill="#000"/>
<circle cx="1172.3" cy="840.2" r="4.6" fill="#000"/>
<circle cx="1286.2" cy="840.2" r="4.6" fill="#000"/>
<circle cx="921.8" cy="864.4" r="4.6" fill="#000"/>
<circle cx="944.5" cy="864.4" r="4.6" fill="#000"/>
<circle cx="967.3" cy="864.4" r="4.6" fill="#000"/>
<circle cx="1012.9" cy="864.4" r="4.6" fill="#000"/>
<circle cx="1035.7" cy="864.4" r="4.6" fill="#000"/>
<circle cx="1058.4" cy="864.4" r="4.6" fill="#000"/>
<circle cx="1081.2" cy="864.4" r="4.6" fill="#000"/>
<circle cx="1104.0" cy="864.4" r="4.6" fill="#000"/>
<circle cx="1149.6" cy="864.4" r="4.6" fill="#000"/>
<circle cx="1172.3" cy="864.4" r="4.6" fill="#000"/>
<circle cx="1286.2" cy="864.4" r="4.6" fill="#000"/>
<circle cx="853.4" cy="888.6" r="4.6" fill="#000"/>
<circle cx="899.0" cy="888.6" r="4.6" fill="#000"/>
<circle cx="944.5" cy="888.6" r="4.6" fill="#000"/>
<circle cx="967.3" cy="888.6" r="4.6" fill="#000"/>
<circle cx="990.1" cy="888.6" r="4.6" fill="#000"/>
<circle cx="1012.9" cy="888.6" r="4.6" fill="#000"/>
<circle cx="1035.7" cy="888.6" r="4.6" fill="#000"/>
<circle cx="1058.4" cy="888.6" r="4.6" fill="#000"/>
<circle cx="1081.2" cy="888.6" r="4.6" fill="#000"/>
<circle cx="1104.0" cy="888.6" r="4.6" fill="#000"/>
<circle cx="1149.6" cy="888.6" r="4.6" fill="#000"/>
<circle cx="1172.3" cy="888.6" r="4.6" fill="#000"/>
<circle cx="967.3" cy="912.8" r="4.6" fill="#000"/>
<circle cx="990.1" cy="912.8" r="4.6" fill="#000"/>
<circle cx="1012.9" cy="912.8" r="4.6" fill="#000"/>
<circle cx="1035.7" cy="912.8" r="4.6" fill="#000"/>
<circle cx="1058.4" cy="912.8" r="4.6" fill="#000"/>
<circle cx="1104.0" cy="912.8" r="4.6" fill="#000"/>
<circle cx="1126.8" cy="912.8" r="4.6" fill="#000"/>
<circle cx="1149.6" cy="912.8" r="4.6" fill="#000"/>
<circle cx="1172.3" cy="912.8" r="4.6" fill="#000"/>
<circle cx="1195.1" cy="912.8" r="4.6" fill="#000"/>
<circle cx="921.8" cy="937.0" r="4.6" fill="#000"/>
<circle cx="944.5" cy="937.0" r="4.6" fill="#000"/>
<circle cx="967.3" cy="937.0" r="4.6" fill="#000"/>
<circle cx="1012.9" cy="937.0" r="4.6" fill="#000"/>
<circle cx="1035.7" cy="937.0" r="4.6" fill="#000"/>
<circle cx="1058.4" cy="937.0" r="4.6" fill="#000"/>
<circle cx="1081.2" cy="937.0" r="4.6" fill="#000"/>
<circle cx="1104.0" cy="937.0" r="4.6" fill="#000"/>
<circle cx="1126.8" cy="937.0" r="4.6" fill="#000"/>
<circle cx="1149.6" cy="937.0" r="4.6" fill="#000"/>
<circle cx="1195.1" cy="937.0" r="4.6" fill="#000"/>
<circle cx="1217.9" cy="937.0" r="4.6" fill="#000"/>
<circle cx="990.1" cy="961.2" r="4.6" fill="#000"/>
<circle cx="1012.9" cy="961.2" r="4.6" fill="#000"/>
<circle cx="1035.7" cy="961.2" r="4.6" fill="#000"/>
<circle cx="1081.2" cy="961.2" r="4.6" fill="#000"/>
<circle cx="1172.3" cy="961.2" r="4.6" fill="#000"/>
<circle cx="1195.1" cy="961.2" r="4.6" fill="#000"/>
<circle cx="1217.9" cy="961.2" r="4.6" fill="#000"/>
<circle cx="990.1" cy="985.4" r="4.6" fill="#000"/>
<circle cx="1012.9" cy="985.4" r="4.6" fill="#000"/>
<circle cx="1172.3" cy="985.4" r="4.6" fill="#000"/>
<circle cx="1195.1" cy="985.4" r="4.6" fill="#000"/>
<circle cx="967.3" cy="1009.6" r="4.6" fill="#000"/>
<circle cx="990.1" cy="1009.6" r="4.6" fill="#000"/>
<circle cx="1012.9" cy="1009.6" r="4.6" fill="#000"/>
<circle cx="1195.1" cy="1009.6" r="4.6" fill="#000"/>
<rect x="745.3" y="549.5" width="604.0" height="476.0" fill="none" stroke="#262626" stroke-width="2.2"/>
<path d="M1030.8 549.5 v7 M1030.8 1025.5 v-7 M745.3 720.5 h7 M1349.3 720.5 h-7" stroke="#262626" stroke-width="2.2" fill="none"/>
<text transform="translate(1318.8 611.1) scale(1 1.045)" font-size="32" text-anchor="end" fill="#000">P_recycled</text>
<text x="-1.5" y="26" font-size="36" font-weight="bold" fill="#000">a</text>
<text x="697" y="26" font-size="36" font-weight="bold" fill="#000">b</text>
<text x="1420" y="26" font-size="36" font-weight="bold" fill="#000">c</text>
<text x="-1.5" y="564.5" font-size="36" font-weight="bold" fill="#000">d</text>
<text x="697" y="564.5" font-size="36" font-weight="bold" fill="#000">e</text>
<text x="1420" y="564.5" font-size="36" font-weight="bold" fill="#000">f</text>
<rect x="245.30" y="1051.6" width="45.83" height="48.30" fill="#cc2127"/>
<rect x="290.62" y="1051.6" width="45.83" height="48.30" fill="#db3529"/>
<rect x="335.95" y="1051.6" width="45.83" height="48.30" fill="#e84c35"/>
<rect x="381.28" y="1051.6" width="45.83" height="48.30" fill="#f16641"/>
<rect x="426.60" y="1051.6" width="45.83" height="48.30" fill="#f7814a"/>
<rect x="471.93" y="1051.6" width="45.83" height="48.30" fill="#fb9656"/>
<rect x="517.25" y="1051.6" width="45.83" height="48.30" fill="#fcab60"/>
<rect x="562.58" y="1051.6" width="45.83" height="48.30" fill="#fdbe72"/>
<rect x="607.90" y="1051.6" width="45.83" height="48.30" fill="#fed281"/>
<rect x="653.23" y="1051.6" width="45.83" height="48.30" fill="#fee391"/>
<rect x="698.55" y="1051.6" width="45.83" height="48.30" fill="#e2f4f2"/>
<rect x="743.88" y="1051.6" width="45.83" height="48.30" fill="#d0ebf8"/>
<rect x="789.20" y="1051.6" width="45.83" height="48.30" fill="#bde2f1"/>
<rect x="834.53" y="1051.6" width="45.83" height="48.30" fill="#a9d8e7"/>
<rect x="879.85" y="1051.6" width="45.83" height="48.30" fill="#94c8de"/>
<rect x="925.17" y="1051.6" width="45.83" height="48.30" fill="#81b8d7"/>
<rect x="970.50" y="1051.6" width="45.83" height="48.30" fill="#6ca4cd"/>
<rect x="1015.83" y="1051.6" width="45.83" height="48.30" fill="#598ec2"/>
<rect x="1061.15" y="1051.6" width="45.83" height="48.30" fill="#4677b3"/>
<rect x="1106.48" y="1051.6" width="45.83" height="48.30" fill="#3c61aa"/>
<line x1="471.9" y1="1099.9" x2="471.9" y2="1080.9" stroke="#262626" stroke-width="2"/>
<line x1="698.5" y1="1099.9" x2="698.5" y2="1080.9" stroke="#262626" stroke-width="2"/>
<line x1="925.2" y1="1099.9" x2="925.2" y2="1080.9" stroke="#262626" stroke-width="2"/>
<rect x="245.3" y="1051.6" width="906.5" height="48.3" fill="none" stroke="#262626" stroke-width="2.2"/>
<text transform="translate(245.3 1147.8) scale(1 1.1)" font-size="30" text-anchor="middle" fill="#262626">-10</text>
<text transform="translate(471.9 1147.8) scale(1 1.1)" font-size="30" text-anchor="middle" fill="#262626">-5</text>
<text transform="translate(698.5 1147.8) scale(1 1.1)" font-size="30" text-anchor="middle" fill="#262626">0</text>
<text transform="translate(925.2 1147.8) scale(1 1.1)" font-size="30" text-anchor="middle" fill="#262626">5</text>
<text transform="translate(1151.8 1147.8) scale(1 1.1)" font-size="30" text-anchor="middle" fill="#262626">10</text>
<text transform="translate(699.5 1202) scale(1 1.04)" font-size="32.3" text-anchor="middle" fill="#262626">Precipitation trend (mm yr<tspan dy="-14.2" font-size="25">-1</tspan><tspan dy="14.2" dx="3"> per year)</tspan></text>
<rect x="1629.1" y="47.3" width="19.2" height="36.6" fill="#3a53a4"/>
<rect x="1618.3" y="93.1" width="30.0" height="36.6" fill="#00b0ec"/>
<rect x="1648.3" y="207.6" width="47.5" height="36.5" fill="#3a53a4"/>
<rect x="1648.3" y="253.2" width="59.5" height="36.4" fill="#00b0ec"/>
<rect x="1558.1" y="367.8" width="90.2" height="36.5" fill="#3a53a4"/>
<rect x="1522.4" y="413.2" width="125.9" height="36.8" fill="#00b0ec"/>
<line x1="1648.3" y1="10.7" x2="1648.3" y2="486.7" stroke="#262626" stroke-width="2"/>
<line x1="1588.6" y1="65.6" x2="1669.7" y2="65.6" stroke="#333" stroke-width="2"/>
<line x1="1583.9" y1="111.4" x2="1653.2" y2="111.4" stroke="#333" stroke-width="2"/>
<line x1="1639.2" y1="225.9" x2="1741.0" y2="225.9" stroke="#333" stroke-width="2"/>
<line x1="1659.4" y1="271.5" x2="1741.0" y2="271.5" stroke="#333" stroke-width="2"/>
<line x1="1520.4" y1="386.0" x2="1596.1" y2="386.0" stroke="#333" stroke-width="2"/>
<line x1="1489.9" y1="431.6" x2="1555.6" y2="431.6" stroke="#333" stroke-width="2"/>
<text x="1670.2" y="405.9" font-size="41" font-weight="bold" text-anchor="middle" fill="#000">*</text>
<text x="1670.2" y="451.8" font-size="41" font-weight="bold" text-anchor="middle" fill="#000">*</text>
<text transform="translate(1474.0 237.7) scale(1 1.04)" font-size="30.8" fill="#3a53a4">GPCP</text>
<text transform="translate(1473.5 284.2) scale(1 1.04)" font-size="30.8" fill="#00b0ec">GPCC</text>
<rect x="1462.7" y="10.7" width="278.3" height="476.0" fill="none" stroke="#262626" stroke-width="2.2"/>
<path d="M1509.1 10.7 v6 M1509.1 486.7 v-6 M1555.5 10.7 v6 M1555.5 486.7 v-6 M1601.9 10.7 v6 M1601.9 486.7 v-6 M1694.7 10.7 v6 M1694.7 486.7 v-6 M1462.7 88.4 h7 M1741.0 88.4 h-7 M1462.7 248.8 h7 M1741.0 248.8 h-7 M1462.7 409.2 h7 M1741.0 409.2 h-7 " stroke="#262626" stroke-width="2.2" fill="none"/>
<text transform="translate(1462.7 529.2) scale(1 1.1)" font-size="30" text-anchor="middle" fill="#262626">-8</text>
<text transform="translate(1509.1 529.2) scale(1 1.1)" font-size="30" text-anchor="middle" fill="#262626">-6</text>
<text transform="translate(1555.5 529.2) scale(1 1.1)" font-size="30" text-anchor="middle" fill="#262626">-4</text>
<text transform="translate(1601.9 529.2) scale(1 1.1)" font-size="30" text-anchor="middle" fill="#262626">-2</text>
<text transform="translate(1648.3 529.2) scale(1 1.1)" font-size="30" text-anchor="middle" fill="#262626">0</text>
<text transform="translate(1694.7 529.2) scale(1 1.1)" font-size="30" text-anchor="middle" fill="#262626">2</text>
<text transform="translate(1741.1 529.2) scale(1 1.1)" font-size="30" text-anchor="middle" fill="#262626">4</text>
<text transform="translate(1441 88.4) rotate(-90) scale(1 1.04)" x="0" y="0" font-size="30.4" text-anchor="middle" fill="#262626">Whole</text>
<text transform="translate(1441 248.8) rotate(-90) scale(1 1.04)" x="0" y="0" font-size="30.4" text-anchor="middle" fill="#262626">Northern</text>
<text transform="translate(1441 409.2) rotate(-90) scale(1 1.04)" x="0" y="0" font-size="30.4" text-anchor="middle" fill="#262626">Southern</text>
<rect x="1648.3" y="586.3" width="34.7" height="36.3" fill="#1e90ff"/>
<rect x="1594.1" y="631.8" width="54.2" height="36.2" fill="#33cc33"/>
<rect x="1648.3" y="746.2" width="73.7" height="36.5" fill="#1e90ff"/>
<rect x="1622.1" y="791.9" width="26.2" height="36.5" fill="#33cc33"/>
<rect x="1641.5" y="906.6" width="6.8" height="36.0" fill="#1e90ff"/>
<rect x="1564.6" y="952.0" width="83.7" height="36.5" fill="#33cc33"/>
<line x1="1648.3" y1="548.8" x2="1648.3" y2="1025.7" stroke="#262626" stroke-width="2"/>
<line x1="1656.9" y1="604.0" x2="1709.0" y2="604.0" stroke="#333" stroke-width="2"/>
<line x1="1568.3" y1="650.1" x2="1620.4" y2="650.1" stroke="#333" stroke-width="2"/>
<line x1="1685.4" y1="764.0" x2="1741.0" y2="764.0" stroke="#333" stroke-width="2"/>
<line x1="1591.1" y1="810.0" x2="1652.7" y2="810.0" stroke="#333" stroke-width="2"/>
<line x1="1618.4" y1="924.0" x2="1664.8" y2="924.0" stroke="#333" stroke-width="2"/>
<line x1="1537.3" y1="970.4" x2="1591.9" y2="970.4" stroke="#333" stroke-width="2"/>
<text x="1670.5" y="672.0" font-size="41" font-weight="bold" text-anchor="middle" fill="#000">*</text>
<text x="1631.5" y="785.0" font-size="41" font-weight="bold" text-anchor="middle" fill="#000">*</text>
<text x="1670.5" y="991.7" font-size="41" font-weight="bold" text-anchor="middle" fill="#000">*</text>
<text transform="translate(1474.5 777.0) scale(1 1.04)" font-size="30.8" fill="#1e90ff">P_oceanic</text>
<text transform="translate(1474.5 855.7) scale(1 1.04)" font-size="30.8" fill="#33cc33">P_recycled</text>
<rect x="1462.7" y="548.8" width="278.3" height="476.9" fill="none" stroke="#262626" stroke-width="2.2"/>
<path d="M1509.1 548.8 v6 M1509.1 1025.7 v-6 M1555.5 548.8 v6 M1555.5 1025.7 v-6 M1601.9 548.8 v6 M1601.9 1025.7 v-6 M1694.7 548.8 v6 M1694.7 1025.7 v-6 M1462.7 627.3 h7 M1741.0 627.3 h-7 M1462.7 787.0 h7 M1741.0 787.0 h-7 M1462.7 947.3 h7 M1741.0 947.3 h-7 " stroke="#262626" stroke-width="2.2" fill="none"/>
<text transform="translate(1462.7 1068.2) scale(1 1.1)" font-size="30" text-anchor="middle" fill="#262626">-8</text>
<text transform="translate(1509.1 1068.2) scale(1 1.1)" font-size="30" text-anchor="middle" fill="#262626">-6</text>
<text transform="translate(1555.5 1068.2) scale(1 1.1)" font-size="30" text-anchor="middle" fill="#262626">-4</text>
<text transform="translate(1601.9 1068.2) scale(1 1.1)" font-size="30" text-anchor="middle" fill="#262626">-2</text>
<text transform="translate(1648.3 1068.2) scale(1 1.1)" font-size="30" text-anchor="middle" fill="#262626">0</text>
<text transform="translate(1694.7 1068.2) scale(1 1.1)" font-size="30" text-anchor="middle" fill="#262626">2</text>
<text transform="translate(1741.1 1068.2) scale(1 1.1)" font-size="30" text-anchor="middle" fill="#262626">4</text>
<text transform="translate(1441 627.3) rotate(-90) scale(1 1.04)" x="0" y="0" font-size="30.4" text-anchor="middle" fill="#262626">Whole</text>
<text transform="translate(1441 787.0) rotate(-90) scale(1 1.04)" x="0" y="0" font-size="30.4" text-anchor="middle" fill="#262626">Northern</text>
<text transform="translate(1441 947.3) rotate(-90) scale(1 1.04)" x="0" y="0" font-size="30.4" text-anchor="middle" fill="#262626">Southern</text>
<text transform="translate(1601.5 1112)" font-size="33" text-anchor="middle" fill="#262626">Precipitation trend</text>
<text transform="translate(1603 1165)" font-size="33" text-anchor="middle" fill="#262626">(mm yr<tspan dy="-14.8" font-size="25">-1</tspan><tspan dy="14.8" dx="3"> per year)</tspan></text>
</svg></body></html>
